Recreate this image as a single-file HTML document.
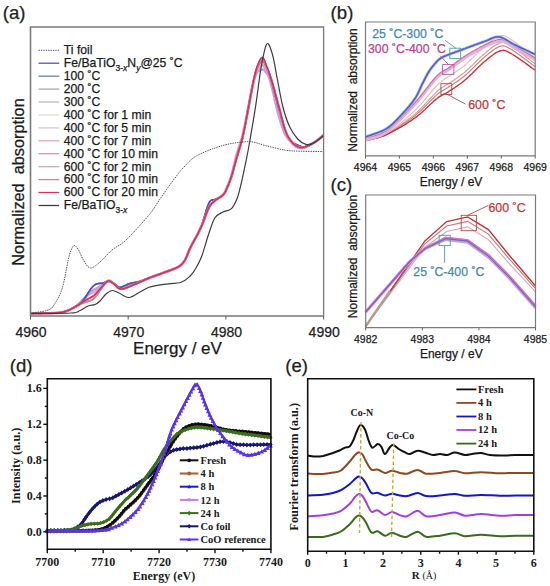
<!DOCTYPE html>
<html><head><meta charset="utf-8"><style>
html,body{margin:0;padding:0;background:#fff;width:550px;height:586px;overflow:hidden;}
svg{display:block;}
</style></head><body>
<svg width="550" height="586" viewBox="0 0 550 586">
<rect width="550" height="586" fill="#fff"/>
<text x="2.8" y="19" font-size="18.6" font-family="Liberation Sans, sans-serif" fill="#222" stroke="#222" stroke-width="0.25">(a)</text>
<path d="M30.5,313.5 L30.8,313.5 L31.0,313.5 L31.3,313.5 L31.7,313.5 L32.0,313.5 L32.4,313.5 L32.8,313.5 L33.2,313.5 L33.6,313.5 L34.1,313.4 L34.5,313.4 L35.0,313.4 L35.5,313.4 L36.0,313.4 L36.5,313.4 L37.0,313.4 L37.6,313.4 L38.1,313.4 L38.7,313.4 L39.2,313.4 L39.8,313.4 L40.4,313.4 L41.0,313.4 L41.5,313.4 L42.1,313.3 L42.7,313.3 L43.3,313.3 L43.9,313.3 L44.5,313.3 L45.1,313.3 L45.7,313.3 L46.2,313.3 L46.8,313.3 L47.4,313.3 L47.9,313.2 L48.5,313.2 L49.0,313.2 L49.6,313.2 L50.1,313.2 L50.6,313.2 L51.1,313.2 L51.6,313.1 L52.1,313.1 L52.6,313.1 L53.0,313.1 L53.5,313.1 L53.9,313.1 L54.3,313.0 L54.6,313.0 L55.0,313.0 L55.8,313.0 L56.5,312.9 L57.2,312.9 L57.8,312.8 L58.4,312.8 L58.9,312.7 L59.4,312.7 L59.9,312.6 L60.3,312.6 L60.7,312.5 L61.1,312.5 L61.5,312.4 L61.8,312.3 L62.2,312.3 L62.6,312.2 L62.9,312.1 L63.3,312.0 L63.7,311.9 L64.1,311.8 L64.5,311.6 L65.0,311.5 L65.5,311.4 L65.9,311.2 L66.4,311.0 L66.9,310.9 L67.4,310.7 L67.8,310.5 L68.3,310.3 L68.8,310.1 L69.2,309.9 L69.7,309.7 L70.2,309.5 L70.6,309.2 L71.1,309.0 L71.6,308.8 L72.1,308.5 L72.5,308.3 L73.0,308.0 L73.5,307.7 L74.0,307.4 L74.5,307.1 L75.0,306.8 L75.5,306.5 L75.9,306.2 L76.4,305.9 L76.9,305.5 L77.4,305.2 L77.9,304.8 L78.4,304.4 L78.9,303.9 L79.4,303.5 L79.9,303.0 L80.4,302.5 L80.9,302.0 L81.4,301.5 L81.9,301.0 L82.4,300.4 L82.8,299.9 L83.3,299.3 L83.8,298.8 L84.3,298.2 L84.7,297.7 L85.1,297.2 L85.6,296.6 L86.0,296.2 L86.6,295.5 L87.1,294.9 L87.6,294.4 L88.1,293.8 L88.6,293.4 L89.1,292.9 L89.6,292.5 L90.0,292.2 L90.5,291.8 L90.9,291.5 L91.4,291.2 L91.8,290.9 L92.3,290.7 L92.7,290.5 L93.1,290.2 L93.6,290.0 L94.0,289.8 L94.5,289.5 L95.0,289.3 L95.5,289.0 L96.0,288.7 L96.5,288.4 L96.9,288.2 L97.4,287.9 L97.9,287.6 L98.3,287.3 L98.8,287.0 L99.2,286.8 L99.7,286.5 L100.2,286.2 L100.7,285.9 L101.2,285.7 L101.7,285.4 L102.1,285.0 L102.6,284.6 L103.1,284.2 L103.6,283.8 L104.1,283.3 L104.6,282.9 L105.1,282.5 L105.6,282.1 L106.1,281.7 L106.6,281.4 L107.1,281.1 L107.5,280.9 L108.0,280.7 L108.5,280.6 L109.0,280.7 L109.5,280.7 L109.9,280.9 L110.4,281.1 L110.8,281.4 L111.2,281.7 L111.7,282.0 L112.1,282.4 L112.6,282.7 L113.0,283.1 L113.5,283.4 L114.0,283.7 L114.4,284.0 L114.8,284.3 L115.2,284.6 L115.6,285.0 L116.0,285.4 L116.4,285.8 L116.8,286.2 L117.2,286.5 L117.7,286.9 L118.1,287.2 L118.6,287.5 L119.2,287.7 L119.7,287.8 L120.3,287.8 L121.0,287.8 L121.4,287.7 L121.8,287.6 L122.2,287.5 L122.6,287.4 L123.0,287.2 L123.4,287.1 L123.9,286.9 L124.4,286.7 L124.8,286.5 L125.3,286.3 L125.8,286.1 L126.3,285.9 L126.8,285.7 L127.3,285.5 L127.8,285.3 L128.3,285.1 L128.8,284.9 L129.3,284.7 L129.9,284.5 L130.4,284.3 L130.9,284.1 L131.4,284.0 L131.9,283.8 L132.5,283.7 L133.0,283.6 L133.5,283.4 L134.0,283.3 L134.5,283.2 L135.0,283.1 L135.4,283.0 L135.9,282.9 L136.4,282.7 L136.9,282.6 L137.4,282.5 L137.8,282.3 L138.3,282.2 L138.8,282.0 L139.3,281.9 L139.8,281.7 L140.3,281.5 L140.8,281.4 L141.2,281.2 L141.7,281.0 L142.2,280.8 L142.7,280.6 L143.2,280.4 L143.7,280.2 L144.2,280.0 L144.7,279.8 L145.2,279.6 L145.7,279.4 L146.2,279.2 L146.7,279.0 L147.1,278.8 L147.6,278.6 L148.1,278.4 L148.6,278.2 L149.1,278.0 L149.6,277.8 L150.1,277.6 L150.6,277.4 L151.0,277.2 L151.5,277.0 L152.0,276.9 L152.5,276.7 L153.0,276.5 L153.5,276.3 L153.9,276.2 L154.4,276.0 L154.9,275.8 L155.4,275.6 L155.9,275.5 L156.3,275.3 L156.8,275.1 L157.3,275.0 L157.8,274.8 L158.3,274.6 L158.8,274.5 L159.2,274.3 L159.7,274.1 L160.2,273.9 L160.7,273.8 L161.2,273.6 L161.7,273.4 L162.1,273.2 L162.6,273.1 L163.1,272.9 L163.6,272.7 L164.1,272.5 L164.6,272.3 L165.1,272.1 L165.6,272.0 L166.1,271.8 L166.6,271.6 L167.2,271.4 L167.7,271.2 L168.2,271.0 L168.7,270.8 L169.3,270.7 L169.8,270.5 L170.3,270.3 L170.9,270.1 L171.4,269.9 L171.9,269.7 L172.4,269.5 L172.9,269.3 L173.4,269.1 L173.9,268.9 L174.4,268.7 L174.9,268.5 L175.3,268.3 L175.8,268.1 L176.2,267.9 L176.6,267.7 L177.1,267.5 L177.5,267.3 L177.8,267.1 L178.2,266.9 L178.9,266.5 L179.6,266.0 L180.2,265.6 L180.8,265.2 L181.3,264.7 L181.7,264.3 L182.2,263.8 L182.6,263.4 L183.0,262.9 L183.4,262.4 L183.8,261.8 L184.2,261.3 L184.6,260.7 L185.0,260.0 L185.5,259.1 L186.0,258.2 L186.4,257.3 L186.8,256.3 L187.2,255.3 L187.6,254.3 L188.0,253.1 L188.5,252.0 L189.0,250.7 L189.5,249.4 L190.2,248.0 L190.6,247.2 L191.0,246.4 L191.4,245.6 L191.9,244.8 L192.3,243.9 L192.8,243.0 L193.3,242.1 L193.8,241.1 L194.4,240.2 L194.9,239.2 L195.4,238.2 L196.0,237.3 L196.5,236.3 L197.0,235.3 L197.6,234.3 L198.1,233.3 L198.6,232.3 L199.1,231.3 L199.6,230.3 L200.0,229.4 L200.5,228.4 L201.0,227.2 L201.6,226.0 L202.1,224.7 L202.6,223.4 L203.1,222.1 L203.6,220.7 L204.1,219.4 L204.6,218.1 L205.1,216.8 L205.6,215.5 L206.0,214.3 L206.5,213.1 L207.0,211.9 L207.4,210.8 L207.8,209.8 L208.3,208.9 L208.7,208.0 L209.2,207.0 L209.7,206.1 L210.2,205.4 L210.7,204.7 L211.1,204.2 L211.5,203.7 L212.0,203.2 L212.4,202.8 L212.8,202.4 L213.3,202.0 L213.8,201.6 L214.3,201.2 L214.8,200.7 L215.2,200.3 L215.7,200.0 L216.2,199.6 L216.7,199.3 L217.2,198.9 L217.7,198.6 L218.2,198.3 L218.8,198.0 L219.3,197.7 L219.8,197.4 L220.3,197.0 L220.8,196.7 L221.3,196.4 L221.8,196.1 L222.2,195.7 L222.6,195.4 L223.0,195.0 L223.6,194.3 L224.2,193.6 L224.6,193.0 L225.0,192.3 L225.4,191.5 L225.8,190.8 L226.1,189.9 L226.5,189.0 L227.0,188.0 L227.4,187.0 L227.9,185.9 L228.4,184.8 L228.9,183.7 L229.3,182.4 L229.8,181.2 L230.3,179.9 L230.8,178.5 L231.2,177.2 L231.7,175.8 L232.2,174.2 L232.6,172.7 L233.1,171.1 L233.5,169.4 L233.9,167.7 L234.4,165.9 L234.9,164.1 L235.4,162.3 L235.9,160.3 L236.3,158.9 L236.7,157.4 L237.2,156.0 L237.7,154.4 L238.1,152.9 L238.6,151.3 L239.1,149.7 L239.6,148.1 L240.1,146.5 L240.6,144.8 L241.0,143.2 L241.5,141.6 L241.9,140.0 L242.5,137.7 L243.0,135.5 L243.4,133.4 L243.9,131.2 L244.3,129.0 L244.8,126.6 L245.3,124.2 L245.8,121.7 L246.3,119.0 L246.7,116.7 L247.2,114.4 L247.6,111.9 L248.1,109.3 L248.6,106.7 L249.1,104.1 L249.6,101.5 L250.1,98.9 L250.5,96.4 L251.0,94.0 L251.5,91.8 L251.9,89.8 L252.4,87.5 L252.9,85.4 L253.3,83.4 L253.8,81.4 L254.3,79.6 L254.7,78.0 L255.2,76.4 L255.6,75.0 L256.1,73.8 L256.6,72.6 L257.0,71.7 L257.5,70.9 L258.0,70.0 L258.4,69.3 L258.9,68.5 L259.4,67.8 L259.9,67.2 L260.4,66.6 L260.8,66.1 L261.3,65.7 L261.8,65.4 L262.2,65.3 L262.7,65.3 L263.2,65.6 L263.7,66.1 L264.2,66.8 L264.7,67.6 L265.1,68.4 L265.6,69.3 L266.1,70.2 L266.5,71.1 L267.0,71.8 L267.5,72.5 L267.9,73.1 L268.3,73.8 L268.7,74.5 L269.1,75.3 L269.5,76.2 L270.0,77.2 L270.4,78.4 L270.9,79.7 L271.5,81.3 L271.9,82.4 L272.3,83.7 L272.8,85.1 L273.2,86.6 L273.7,88.2 L274.2,89.9 L274.7,91.6 L275.1,93.4 L275.6,95.2 L276.2,97.1 L276.7,98.9 L277.2,100.7 L277.6,102.5 L278.1,104.3 L278.6,106.0 L279.1,107.9 L279.6,109.8 L280.1,111.7 L280.6,113.6 L281.1,115.6 L281.6,117.5 L282.1,119.4 L282.6,121.3 L283.1,123.1 L283.5,124.9 L284.0,126.6 L284.5,128.1 L285.0,129.6 L285.5,131.0 L286.0,132.3 L286.5,133.4 L286.9,134.5 L287.4,135.5 L287.9,136.4 L288.3,137.2 L288.8,138.0 L289.3,138.7 L289.8,139.4 L290.3,140.1 L290.8,140.7 L291.3,141.3 L291.8,141.9 L292.3,142.5 L292.7,143.0 L293.2,143.4 L293.7,143.9 L294.1,144.3 L294.6,144.7 L295.1,145.0 L295.6,145.4 L296.1,145.7 L296.6,146.0 L297.1,146.3 L297.6,146.5 L298.1,146.7 L298.5,146.9 L299.0,147.1 L299.5,147.3 L300.0,147.4 L300.5,147.5 L301.0,147.6 L301.5,147.6 L301.9,147.6 L302.4,147.6 L302.9,147.5 L303.4,147.4 L303.8,147.3 L304.3,147.2 L304.8,147.0 L305.3,146.9 L305.7,146.7 L306.2,146.5 L306.7,146.3 L307.2,146.1 L307.6,145.9 L308.1,145.7 L308.6,145.5 L309.1,145.3 L309.6,145.1 L310.1,144.8 L310.6,144.6 L311.0,144.3 L311.5,144.0 L312.0,143.8 L312.5,143.5 L313.0,143.2 L313.5,142.9 L314.0,142.6 L314.5,142.3 L315.0,142.0 L315.4,141.6 L315.9,141.3 L316.4,141.0 L316.8,140.7 L317.3,140.3 L317.9,139.9 L318.5,139.4 L319.0,139.0 L319.6,138.5 L320.2,138.0 L320.7,137.5 L321.2,137.1 L321.7,136.7 L322.2,136.2 L322.6,135.9 L323.0,135.5 L323.3,135.2 L323.6,135.0" fill="none" stroke="#d8d8d8" stroke-width="2.0" stroke-linejoin="round"/>
<path d="M30.5,313.5 L30.8,313.5 L31.0,313.5 L31.3,313.5 L31.7,313.5 L32.0,313.5 L32.4,313.5 L32.8,313.5 L33.2,313.5 L33.6,313.5 L34.1,313.4 L34.5,313.4 L35.0,313.4 L35.5,313.4 L36.0,313.4 L36.5,313.4 L37.0,313.4 L37.6,313.4 L38.1,313.4 L38.7,313.4 L39.2,313.4 L39.8,313.4 L40.4,313.4 L41.0,313.4 L41.5,313.4 L42.1,313.3 L42.7,313.3 L43.3,313.3 L43.9,313.3 L44.5,313.3 L45.1,313.3 L45.7,313.3 L46.2,313.3 L46.8,313.3 L47.4,313.3 L47.9,313.2 L48.5,313.2 L49.0,313.2 L49.6,313.2 L50.1,313.2 L50.6,313.2 L51.1,313.2 L51.6,313.1 L52.1,313.1 L52.6,313.1 L53.0,313.1 L53.5,313.1 L53.9,313.1 L54.3,313.0 L54.6,313.0 L55.0,313.0 L55.8,313.0 L56.5,312.9 L57.2,312.9 L57.8,312.8 L58.4,312.8 L58.9,312.7 L59.4,312.7 L59.9,312.6 L60.3,312.6 L60.7,312.5 L61.1,312.5 L61.5,312.4 L61.8,312.3 L62.2,312.3 L62.6,312.2 L62.9,312.1 L63.3,312.0 L63.7,311.9 L64.1,311.8 L64.5,311.6 L65.0,311.5 L65.5,311.4 L65.9,311.2 L66.4,311.0 L66.9,310.9 L67.4,310.7 L67.8,310.5 L68.3,310.3 L68.8,310.1 L69.2,309.9 L69.7,309.7 L70.2,309.5 L70.6,309.2 L71.1,309.0 L71.6,308.8 L72.1,308.5 L72.5,308.3 L73.0,308.0 L73.5,307.7 L74.0,307.4 L74.5,307.1 L75.0,306.8 L75.5,306.5 L75.9,306.2 L76.4,305.9 L76.9,305.5 L77.4,305.2 L77.9,304.8 L78.4,304.4 L78.9,303.9 L79.4,303.5 L79.9,303.0 L80.4,302.5 L80.9,302.0 L81.4,301.5 L81.9,301.0 L82.4,300.4 L82.8,299.9 L83.3,299.3 L83.8,298.8 L84.3,298.2 L84.7,297.7 L85.1,297.2 L85.6,296.6 L86.0,296.2 L86.6,295.5 L87.1,294.9 L87.6,294.4 L88.1,293.8 L88.6,293.4 L89.1,292.9 L89.6,292.5 L90.0,292.2 L90.5,291.8 L90.9,291.5 L91.4,291.2 L91.8,290.9 L92.3,290.7 L92.7,290.5 L93.1,290.2 L93.6,290.0 L94.0,289.8 L94.5,289.5 L95.0,289.3 L95.5,289.0 L96.0,288.7 L96.5,288.4 L96.9,288.2 L97.4,287.9 L97.9,287.6 L98.3,287.3 L98.8,287.0 L99.2,286.8 L99.7,286.5 L100.2,286.2 L100.7,285.9 L101.2,285.7 L101.7,285.4 L102.1,285.0 L102.6,284.6 L103.1,284.2 L103.6,283.8 L104.1,283.3 L104.6,282.9 L105.1,282.5 L105.6,282.1 L106.1,281.7 L106.6,281.4 L107.1,281.1 L107.5,280.9 L108.0,280.7 L108.5,280.6 L109.0,280.7 L109.5,280.7 L109.9,280.9 L110.4,281.1 L110.8,281.4 L111.2,281.7 L111.7,282.0 L112.1,282.4 L112.6,282.7 L113.0,283.1 L113.5,283.4 L114.0,283.7 L114.4,284.0 L114.8,284.3 L115.2,284.6 L115.6,285.0 L116.0,285.4 L116.4,285.8 L116.8,286.2 L117.2,286.5 L117.7,286.9 L118.1,287.2 L118.6,287.5 L119.2,287.7 L119.7,287.8 L120.3,287.8 L121.0,287.8 L121.4,287.7 L121.8,287.6 L122.2,287.5 L122.6,287.4 L123.0,287.2 L123.4,287.1 L123.9,286.9 L124.4,286.7 L124.8,286.5 L125.3,286.3 L125.8,286.1 L126.3,285.9 L126.8,285.7 L127.3,285.5 L127.8,285.3 L128.3,285.1 L128.8,284.9 L129.3,284.7 L129.9,284.5 L130.4,284.3 L130.9,284.1 L131.4,284.0 L131.9,283.8 L132.5,283.7 L133.0,283.6 L133.5,283.4 L134.0,283.3 L134.5,283.2 L135.0,283.1 L135.4,283.0 L135.9,282.9 L136.4,282.7 L136.9,282.6 L137.4,282.5 L137.8,282.3 L138.3,282.2 L138.8,282.0 L139.3,281.9 L139.8,281.7 L140.3,281.5 L140.8,281.4 L141.2,281.2 L141.7,281.0 L142.2,280.8 L142.7,280.6 L143.2,280.4 L143.7,280.2 L144.2,280.0 L144.7,279.8 L145.2,279.6 L145.7,279.4 L146.2,279.2 L146.7,279.0 L147.1,278.8 L147.6,278.6 L148.1,278.4 L148.6,278.2 L149.1,278.0 L149.6,277.8 L150.1,277.6 L150.6,277.4 L151.0,277.2 L151.5,277.0 L152.0,276.9 L152.5,276.7 L153.0,276.5 L153.5,276.3 L153.9,276.2 L154.4,276.0 L154.9,275.8 L155.4,275.6 L155.9,275.5 L156.3,275.3 L156.8,275.1 L157.3,275.0 L157.8,274.8 L158.3,274.6 L158.8,274.5 L159.2,274.3 L159.7,274.1 L160.2,273.9 L160.7,273.8 L161.2,273.6 L161.7,273.4 L162.1,273.2 L162.6,273.1 L163.1,272.9 L163.6,272.7 L164.1,272.5 L164.6,272.3 L165.1,272.1 L165.6,272.0 L166.1,271.8 L166.6,271.6 L167.2,271.4 L167.7,271.2 L168.2,271.0 L168.7,270.8 L169.3,270.7 L169.8,270.5 L170.3,270.3 L170.9,270.1 L171.4,269.9 L171.9,269.7 L172.4,269.5 L172.9,269.3 L173.4,269.1 L173.9,268.9 L174.4,268.7 L174.9,268.5 L175.3,268.3 L175.8,268.1 L176.2,267.9 L176.6,267.7 L177.1,267.5 L177.5,267.3 L177.8,267.1 L178.2,266.9 L178.9,266.5 L179.6,266.0 L180.2,265.6 L180.8,265.2 L181.3,264.7 L181.7,264.3 L182.2,263.8 L182.6,263.4 L183.0,262.9 L183.4,262.4 L183.8,261.8 L184.2,261.3 L184.6,260.7 L185.0,260.0 L185.5,259.1 L186.0,258.2 L186.4,257.3 L186.8,256.3 L187.2,255.3 L187.6,254.3 L188.0,253.1 L188.5,252.0 L189.0,250.7 L189.5,249.4 L190.2,248.0 L190.6,247.2 L191.0,246.4 L191.4,245.6 L191.9,244.8 L192.3,243.9 L192.8,243.0 L193.3,242.1 L193.8,241.1 L194.4,240.2 L194.9,239.2 L195.4,238.2 L196.0,237.3 L196.5,236.3 L197.0,235.3 L197.6,234.3 L198.1,233.3 L198.6,232.3 L199.1,231.3 L199.6,230.3 L200.0,229.4 L200.5,228.4 L201.0,227.2 L201.6,226.0 L202.1,224.7 L202.6,223.4 L203.1,222.1 L203.6,220.7 L204.1,219.4 L204.6,218.1 L205.1,216.8 L205.6,215.5 L206.0,214.3 L206.5,213.1 L207.0,211.9 L207.4,210.8 L207.8,209.8 L208.3,208.9 L208.7,208.0 L209.2,207.0 L209.7,206.1 L210.2,205.4 L210.7,204.7 L211.1,204.2 L211.5,203.7 L212.0,203.2 L212.4,202.8 L212.8,202.4 L213.3,202.0 L213.8,201.6 L214.3,201.2 L214.8,200.7 L215.2,200.3 L215.7,200.0 L216.2,199.6 L216.7,199.3 L217.2,198.9 L217.7,198.6 L218.2,198.3 L218.8,198.0 L219.3,197.7 L219.8,197.4 L220.3,197.0 L220.8,196.7 L221.3,196.4 L221.8,196.1 L222.2,195.7 L222.6,195.4 L223.0,195.0 L223.6,194.3 L224.2,193.6 L224.6,193.0 L225.0,192.3 L225.4,191.5 L225.8,190.8 L226.1,189.9 L226.5,189.0 L227.0,188.0 L227.4,187.0 L227.9,185.9 L228.4,184.8 L228.9,183.7 L229.3,182.4 L229.8,181.2 L230.3,179.9 L230.8,178.5 L231.2,177.2 L231.7,175.8 L232.2,174.2 L232.6,172.7 L233.1,171.1 L233.5,169.4 L233.9,167.7 L234.4,165.9 L234.9,164.1 L235.4,162.3 L235.9,160.3 L236.3,158.9 L236.7,157.4 L237.2,156.0 L237.7,154.4 L238.1,152.9 L238.6,151.3 L239.1,149.7 L239.6,148.1 L240.1,146.5 L240.6,144.8 L241.0,143.2 L241.5,141.6 L241.9,140.0 L242.5,137.7 L243.0,135.5 L243.4,133.4 L243.9,131.2 L244.3,129.0 L244.8,126.6 L245.3,124.2 L245.8,121.7 L246.3,119.0 L246.7,116.7 L247.2,114.4 L247.6,111.9 L248.1,109.3 L248.6,106.7 L249.1,104.1 L249.6,101.5 L250.1,98.9 L250.5,96.4 L251.0,94.0 L251.5,91.8 L251.9,89.8 L252.4,87.5 L252.9,85.4 L253.3,83.4 L253.8,81.4 L254.3,79.6 L254.7,78.0 L255.2,76.4 L255.6,75.0 L256.1,73.8 L256.6,72.6 L257.0,71.7 L257.5,70.9 L258.0,70.0 L258.4,69.3 L258.9,68.5 L259.4,67.8 L259.9,67.2 L260.4,66.6 L260.8,66.1 L261.3,65.7 L261.8,65.4 L262.2,65.3 L262.7,65.3 L263.2,65.6 L263.7,66.1 L264.2,66.8 L264.7,67.6 L265.1,68.4 L265.6,69.3 L266.1,70.2 L266.5,71.1 L267.0,71.8 L267.5,72.5 L267.9,73.1 L268.3,73.8 L268.7,74.5 L269.1,75.3 L269.5,76.2 L270.0,77.2 L270.4,78.4 L270.9,79.7 L271.5,81.3 L271.9,82.4 L272.3,83.7 L272.8,85.1 L273.2,86.6 L273.7,88.2 L274.2,89.9 L274.7,91.6 L275.1,93.4 L275.6,95.2 L276.2,97.1 L276.7,98.9 L277.2,100.7 L277.6,102.5 L278.1,104.3 L278.6,106.0 L279.1,107.9 L279.6,109.8 L280.1,111.7 L280.6,113.6 L281.1,115.6 L281.6,117.5 L282.1,119.4 L282.6,121.3 L283.1,123.1 L283.5,124.9 L284.0,126.6 L284.5,128.1 L285.0,129.6 L285.5,131.0 L286.0,132.3 L286.5,133.4 L286.9,134.5 L287.4,135.5 L287.9,136.4 L288.3,137.2 L288.8,138.0 L289.3,138.7 L289.8,139.4 L290.3,140.1 L290.8,140.7 L291.3,141.3 L291.8,141.9 L292.3,142.5 L292.7,143.0 L293.2,143.4 L293.7,143.9 L294.1,144.3 L294.6,144.7 L295.1,145.0 L295.6,145.4 L296.1,145.7 L296.6,146.0 L297.1,146.3 L297.6,146.5 L298.1,146.7 L298.5,146.9 L299.0,147.1 L299.5,147.3 L300.0,147.4 L300.5,147.5 L301.0,147.6 L301.5,147.6 L301.9,147.6 L302.4,147.6 L302.9,147.5 L303.4,147.4 L303.8,147.3 L304.3,147.2 L304.8,147.0 L305.3,146.9 L305.7,146.7 L306.2,146.5 L306.7,146.3 L307.2,146.1 L307.6,145.9 L308.1,145.7 L308.6,145.5 L309.1,145.3 L309.6,145.1 L310.1,144.8 L310.6,144.6 L311.0,144.3 L311.5,144.0 L312.0,143.8 L312.5,143.5 L313.0,143.2 L313.5,142.9 L314.0,142.6 L314.5,142.3 L315.0,142.0 L315.4,141.6 L315.9,141.3 L316.4,141.0 L316.8,140.7 L317.3,140.3 L317.9,139.9 L318.5,139.4 L319.0,139.0 L319.6,138.5 L320.2,138.0 L320.7,137.5 L321.2,137.1 L321.7,136.7 L322.2,136.2 L322.6,135.9 L323.0,135.5 L323.3,135.2 L323.6,135.0" fill="none" stroke="#c4c4c4" stroke-width="2.0" stroke-linejoin="round"/>
<path d="M30.5,313.5 L30.8,313.5 L31.0,313.5 L31.3,313.5 L31.7,313.5 L32.0,313.5 L32.4,313.5 L32.8,313.5 L33.2,313.5 L33.6,313.5 L34.1,313.4 L34.5,313.4 L35.0,313.4 L35.5,313.4 L36.0,313.4 L36.5,313.4 L37.0,313.4 L37.6,313.4 L38.1,313.4 L38.7,313.4 L39.2,313.4 L39.8,313.4 L40.4,313.4 L41.0,313.4 L41.5,313.4 L42.1,313.3 L42.7,313.3 L43.3,313.3 L43.9,313.3 L44.5,313.3 L45.1,313.3 L45.7,313.3 L46.2,313.3 L46.8,313.3 L47.4,313.3 L47.9,313.2 L48.5,313.2 L49.0,313.2 L49.6,313.2 L50.1,313.2 L50.6,313.2 L51.1,313.2 L51.6,313.1 L52.1,313.1 L52.6,313.1 L53.0,313.1 L53.5,313.1 L53.9,313.1 L54.3,313.0 L54.6,313.0 L55.0,313.0 L55.8,313.0 L56.5,312.9 L57.2,312.9 L57.8,312.8 L58.4,312.8 L58.9,312.7 L59.4,312.7 L59.9,312.6 L60.3,312.6 L60.7,312.5 L61.1,312.5 L61.5,312.4 L61.8,312.3 L62.2,312.3 L62.6,312.2 L62.9,312.1 L63.3,312.0 L63.7,311.9 L64.1,311.8 L64.5,311.6 L65.0,311.5 L65.5,311.4 L65.9,311.2 L66.4,311.0 L66.9,310.9 L67.4,310.7 L67.8,310.5 L68.3,310.3 L68.8,310.1 L69.2,309.9 L69.7,309.7 L70.2,309.5 L70.6,309.2 L71.1,309.0 L71.6,308.8 L72.1,308.5 L72.5,308.3 L73.0,308.0 L73.5,307.7 L74.0,307.4 L74.5,307.1 L75.0,306.8 L75.5,306.5 L75.9,306.2 L76.4,305.9 L76.9,305.5 L77.4,305.2 L77.9,304.8 L78.4,304.4 L78.9,303.9 L79.4,303.5 L79.9,303.0 L80.4,302.5 L80.9,302.0 L81.4,301.5 L81.9,301.0 L82.4,300.4 L82.8,299.9 L83.3,299.3 L83.8,298.8 L84.3,298.2 L84.7,297.7 L85.1,297.2 L85.6,296.6 L86.0,296.2 L86.6,295.5 L87.1,294.9 L87.6,294.4 L88.1,293.8 L88.6,293.4 L89.1,292.9 L89.6,292.5 L90.0,292.2 L90.5,291.8 L90.9,291.5 L91.4,291.2 L91.8,290.9 L92.3,290.7 L92.7,290.5 L93.1,290.2 L93.6,290.0 L94.0,289.8 L94.5,289.5 L95.0,289.3 L95.5,289.0 L96.0,288.7 L96.5,288.4 L96.9,288.2 L97.4,287.9 L97.9,287.6 L98.3,287.3 L98.8,287.0 L99.2,286.8 L99.7,286.5 L100.2,286.2 L100.7,285.9 L101.2,285.7 L101.7,285.4 L102.1,285.0 L102.6,284.6 L103.1,284.2 L103.6,283.8 L104.1,283.3 L104.6,282.9 L105.1,282.5 L105.6,282.1 L106.1,281.7 L106.6,281.4 L107.1,281.1 L107.5,280.9 L108.0,280.7 L108.5,280.6 L109.0,280.7 L109.5,280.7 L109.9,280.9 L110.4,281.1 L110.8,281.4 L111.2,281.7 L111.7,282.0 L112.1,282.4 L112.6,282.7 L113.0,283.1 L113.5,283.4 L114.0,283.7 L114.4,284.0 L114.8,284.3 L115.2,284.6 L115.6,285.0 L116.0,285.4 L116.4,285.8 L116.8,286.2 L117.2,286.5 L117.7,286.9 L118.1,287.2 L118.6,287.5 L119.2,287.7 L119.7,287.8 L120.3,287.8 L121.0,287.8 L121.4,287.7 L121.8,287.6 L122.2,287.5 L122.6,287.4 L123.0,287.2 L123.4,287.1 L123.9,286.9 L124.4,286.7 L124.8,286.5 L125.3,286.3 L125.8,286.1 L126.3,285.9 L126.8,285.7 L127.3,285.5 L127.8,285.3 L128.3,285.1 L128.8,284.9 L129.3,284.7 L129.9,284.5 L130.4,284.3 L130.9,284.1 L131.4,284.0 L131.9,283.8 L132.5,283.7 L133.0,283.6 L133.5,283.4 L134.0,283.3 L134.5,283.2 L135.0,283.1 L135.4,283.0 L135.9,282.9 L136.4,282.7 L136.9,282.6 L137.4,282.5 L137.8,282.3 L138.3,282.2 L138.8,282.0 L139.3,281.9 L139.8,281.7 L140.3,281.5 L140.8,281.4 L141.2,281.2 L141.7,281.0 L142.2,280.8 L142.7,280.6 L143.2,280.4 L143.7,280.2 L144.2,280.0 L144.7,279.8 L145.2,279.6 L145.7,279.4 L146.2,279.2 L146.7,279.0 L147.1,278.8 L147.6,278.6 L148.1,278.4 L148.6,278.2 L149.1,278.0 L149.6,277.8 L150.1,277.6 L150.6,277.4 L151.0,277.2 L151.5,277.0 L152.0,276.9 L152.5,276.7 L153.0,276.5 L153.5,276.3 L153.9,276.2 L154.4,276.0 L154.9,275.8 L155.4,275.6 L155.9,275.5 L156.3,275.3 L156.8,275.1 L157.3,275.0 L157.8,274.8 L158.3,274.6 L158.8,274.5 L159.2,274.3 L159.7,274.1 L160.2,273.9 L160.7,273.8 L161.2,273.6 L161.7,273.4 L162.1,273.2 L162.6,273.1 L163.1,272.9 L163.6,272.7 L164.1,272.5 L164.6,272.3 L165.1,272.1 L165.6,272.0 L166.1,271.8 L166.6,271.6 L167.2,271.4 L167.7,271.2 L168.2,271.0 L168.7,270.8 L169.3,270.7 L169.8,270.5 L170.3,270.3 L170.9,270.1 L171.4,269.9 L171.9,269.7 L172.4,269.5 L172.9,269.3 L173.4,269.1 L173.9,268.9 L174.4,268.7 L174.9,268.5 L175.3,268.3 L175.8,268.1 L176.2,267.9 L176.6,267.7 L177.1,267.5 L177.5,267.3 L177.8,267.1 L178.2,266.9 L178.9,266.5 L179.6,266.0 L180.2,265.6 L180.8,265.2 L181.3,264.7 L181.7,264.3 L182.2,263.8 L182.6,263.4 L183.0,262.9 L183.4,262.4 L183.8,261.8 L184.2,261.3 L184.6,260.7 L185.0,260.0 L185.5,259.1 L186.0,258.2 L186.4,257.3 L186.8,256.3 L187.2,255.3 L187.6,254.3 L188.0,253.1 L188.5,252.0 L189.0,250.7 L189.5,249.4 L190.2,248.0 L190.6,247.2 L191.0,246.4 L191.4,245.6 L191.9,244.8 L192.3,243.9 L192.8,243.0 L193.3,242.1 L193.8,241.1 L194.4,240.2 L194.9,239.2 L195.4,238.2 L196.0,237.3 L196.5,236.3 L197.0,235.3 L197.6,234.3 L198.1,233.3 L198.6,232.3 L199.1,231.3 L199.6,230.3 L200.0,229.4 L200.5,228.4 L201.0,227.2 L201.6,226.0 L202.1,224.7 L202.6,223.4 L203.1,222.1 L203.6,220.7 L204.1,219.4 L204.6,218.1 L205.1,216.8 L205.6,215.5 L206.0,214.3 L206.5,213.1 L207.0,211.9 L207.4,210.8 L207.8,209.8 L208.3,208.9 L208.7,208.0 L209.2,207.0 L209.7,206.1 L210.2,205.4 L210.7,204.7 L211.1,204.2 L211.5,203.7 L212.0,203.2 L212.4,202.8 L212.8,202.4 L213.3,202.0 L213.8,201.6 L214.3,201.2 L214.8,200.7 L215.2,200.3 L215.7,200.0 L216.2,199.6 L216.7,199.3 L217.2,198.9 L217.7,198.6 L218.2,198.3 L218.8,198.0 L219.3,197.7 L219.8,197.4 L220.3,197.0 L220.8,196.7 L221.3,196.4 L221.8,196.1 L222.2,195.7 L222.6,195.4 L223.0,195.0 L223.6,194.3 L224.2,193.6 L224.6,193.0 L225.0,192.3 L225.4,191.5 L225.8,190.8 L226.1,189.9 L226.5,189.0 L227.0,188.0 L227.4,187.0 L227.9,185.9 L228.4,184.8 L228.9,183.7 L229.3,182.4 L229.8,181.2 L230.3,179.9 L230.8,178.5 L231.2,177.2 L231.7,175.8 L232.2,174.2 L232.6,172.7 L233.1,171.1 L233.5,169.4 L233.9,167.7 L234.4,165.9 L234.9,164.1 L235.4,162.3 L235.9,160.3 L236.3,158.9 L236.7,157.4 L237.2,156.0 L237.7,154.4 L238.1,152.9 L238.6,151.3 L239.1,149.7 L239.6,148.1 L240.1,146.5 L240.6,144.8 L241.0,143.2 L241.5,141.6 L241.9,140.0 L242.5,137.7 L243.0,135.5 L243.4,133.4 L243.9,131.2 L244.3,129.0 L244.8,126.6 L245.3,124.2 L245.8,121.7 L246.3,119.0 L246.7,116.7 L247.2,114.4 L247.6,111.9 L248.1,109.3 L248.6,106.7 L249.1,104.1 L249.6,101.5 L250.1,98.9 L250.5,96.4 L251.0,94.0 L251.5,91.8 L251.9,89.8 L252.4,87.5 L252.9,85.4 L253.3,83.4 L253.8,81.4 L254.3,79.6 L254.7,78.0 L255.2,76.4 L255.6,75.0 L256.1,73.8 L256.6,72.6 L257.0,71.7 L257.5,70.9 L258.0,70.0 L258.4,69.3 L258.9,68.5 L259.4,67.8 L259.9,67.2 L260.4,66.6 L260.8,66.1 L261.3,65.7 L261.8,65.4 L262.2,65.3 L262.7,65.3 L263.2,65.6 L263.7,66.1 L264.2,66.8 L264.7,67.6 L265.1,68.4 L265.6,69.3 L266.1,70.2 L266.5,71.1 L267.0,71.8 L267.5,72.5 L267.9,73.1 L268.3,73.8 L268.7,74.5 L269.1,75.3 L269.5,76.2 L270.0,77.2 L270.4,78.4 L270.9,79.7 L271.5,81.3 L271.9,82.4 L272.3,83.7 L272.8,85.1 L273.2,86.6 L273.7,88.2 L274.2,89.9 L274.7,91.6 L275.1,93.4 L275.6,95.2 L276.2,97.1 L276.7,98.9 L277.2,100.7 L277.6,102.5 L278.1,104.3 L278.6,106.0 L279.1,107.9 L279.6,109.8 L280.1,111.7 L280.6,113.6 L281.1,115.6 L281.6,117.5 L282.1,119.4 L282.6,121.3 L283.1,123.1 L283.5,124.9 L284.0,126.6 L284.5,128.1 L285.0,129.6 L285.5,131.0 L286.0,132.3 L286.5,133.4 L286.9,134.5 L287.4,135.5 L287.9,136.4 L288.3,137.2 L288.8,138.0 L289.3,138.7 L289.8,139.4 L290.3,140.1 L290.8,140.7 L291.3,141.3 L291.8,141.9 L292.3,142.5 L292.7,143.0 L293.2,143.4 L293.7,143.9 L294.1,144.3 L294.6,144.7 L295.1,145.0 L295.6,145.4 L296.1,145.7 L296.6,146.0 L297.1,146.3 L297.6,146.5 L298.1,146.7 L298.5,146.9 L299.0,147.1 L299.5,147.3 L300.0,147.4 L300.5,147.5 L301.0,147.6 L301.5,147.6 L301.9,147.6 L302.4,147.6 L302.9,147.5 L303.4,147.4 L303.8,147.3 L304.3,147.2 L304.8,147.0 L305.3,146.9 L305.7,146.7 L306.2,146.5 L306.7,146.3 L307.2,146.1 L307.6,145.9 L308.1,145.7 L308.6,145.5 L309.1,145.3 L309.6,145.1 L310.1,144.8 L310.6,144.6 L311.0,144.3 L311.5,144.0 L312.0,143.8 L312.5,143.5 L313.0,143.2 L313.5,142.9 L314.0,142.6 L314.5,142.3 L315.0,142.0 L315.4,141.6 L315.9,141.3 L316.4,141.0 L316.8,140.7 L317.3,140.3 L317.9,139.9 L318.5,139.4 L319.0,139.0 L319.6,138.5 L320.2,138.0 L320.7,137.5 L321.2,137.1 L321.7,136.7 L322.2,136.2 L322.6,135.9 L323.0,135.5 L323.3,135.2 L323.6,135.0" fill="none" stroke="#b0b2b0" stroke-width="1.6" stroke-linejoin="round"/>
<path d="M30.5,313.5 L30.8,313.5 L31.0,313.5 L31.3,313.5 L31.7,313.5 L32.0,313.5 L32.4,313.5 L32.8,313.5 L33.2,313.5 L33.6,313.5 L34.1,313.4 L34.5,313.4 L35.0,313.4 L35.5,313.4 L36.0,313.4 L36.5,313.4 L37.0,313.4 L37.6,313.4 L38.1,313.4 L38.7,313.4 L39.2,313.4 L39.8,313.4 L40.4,313.4 L41.0,313.4 L41.5,313.4 L42.1,313.3 L42.7,313.3 L43.3,313.3 L43.9,313.3 L44.5,313.3 L45.1,313.3 L45.7,313.3 L46.2,313.3 L46.8,313.3 L47.4,313.3 L47.9,313.2 L48.5,313.2 L49.0,313.2 L49.6,313.2 L50.1,313.2 L50.6,313.2 L51.1,313.2 L51.6,313.1 L52.1,313.1 L52.6,313.1 L53.0,313.1 L53.5,313.1 L53.9,313.1 L54.3,313.0 L54.6,313.0 L55.0,313.0 L55.8,313.0 L56.5,312.9 L57.2,312.9 L57.8,312.8 L58.4,312.8 L58.9,312.7 L59.4,312.7 L59.9,312.6 L60.3,312.6 L60.7,312.5 L61.1,312.5 L61.5,312.4 L61.8,312.3 L62.2,312.3 L62.6,312.2 L62.9,312.1 L63.3,312.0 L63.7,311.9 L64.1,311.8 L64.5,311.6 L65.0,311.5 L65.5,311.4 L65.9,311.2 L66.4,311.0 L66.9,310.9 L67.4,310.7 L67.8,310.5 L68.3,310.3 L68.8,310.1 L69.2,309.9 L69.7,309.7 L70.2,309.5 L70.6,309.2 L71.1,309.0 L71.6,308.7 L72.1,308.5 L72.5,308.2 L73.0,307.9 L73.5,307.7 L74.0,307.4 L74.5,307.1 L75.0,306.8 L75.5,306.4 L75.9,306.1 L76.4,305.8 L76.9,305.4 L77.4,305.0 L77.9,304.6 L78.4,304.2 L78.9,303.8 L79.4,303.3 L79.9,302.9 L80.4,302.4 L80.9,301.9 L81.4,301.4 L81.9,300.9 L82.4,300.4 L82.8,299.9 L83.3,299.4 L83.8,298.9 L84.3,298.4 L84.7,298.0 L85.1,297.5 L85.6,297.1 L86.0,296.7 L86.6,296.2 L87.1,295.8 L87.6,295.4 L88.1,295.0 L88.6,294.7 L89.1,294.4 L89.6,294.1 L90.0,293.9 L90.5,293.7 L90.9,293.5 L91.4,293.3 L91.8,293.1 L92.3,292.9 L92.7,292.8 L93.1,292.6 L93.6,292.4 L94.0,292.2 L94.5,292.0 L95.0,291.7 L95.5,291.4 L96.0,291.1 L96.5,290.7 L96.9,290.4 L97.4,290.0 L97.9,289.7 L98.3,289.3 L98.8,288.9 L99.2,288.5 L99.7,288.1 L100.2,287.7 L100.7,287.3 L101.2,286.9 L101.7,286.5 L102.1,286.0 L102.6,285.5 L103.1,285.0 L103.6,284.5 L104.1,284.0 L104.6,283.4 L105.1,282.9 L105.6,282.5 L106.1,282.0 L106.6,281.6 L107.1,281.3 L107.5,281.1 L108.0,280.9 L108.5,280.8 L109.0,280.8 L109.5,280.8 L109.9,281.0 L110.4,281.2 L110.8,281.5 L111.2,281.8 L111.7,282.1 L112.1,282.4 L112.6,282.8 L113.0,283.1 L113.5,283.4 L114.0,283.7 L114.4,284.0 L114.8,284.3 L115.2,284.6 L115.6,285.0 L116.0,285.4 L116.4,285.8 L116.8,286.2 L117.2,286.6 L117.7,286.9 L118.1,287.2 L118.6,287.5 L119.2,287.7 L119.7,287.8 L120.3,287.8 L121.0,287.8 L121.4,287.7 L121.8,287.6 L122.2,287.5 L122.6,287.4 L123.0,287.2 L123.4,287.1 L123.9,286.9 L124.4,286.7 L124.8,286.5 L125.3,286.3 L125.8,286.1 L126.3,285.9 L126.8,285.7 L127.3,285.5 L127.8,285.3 L128.3,285.1 L128.8,284.9 L129.3,284.7 L129.9,284.5 L130.4,284.3 L130.9,284.1 L131.4,284.0 L131.9,283.8 L132.5,283.7 L133.0,283.6 L133.5,283.4 L134.0,283.3 L134.5,283.2 L135.0,283.1 L135.4,283.0 L135.9,282.9 L136.4,282.7 L136.9,282.6 L137.4,282.5 L137.8,282.3 L138.3,282.2 L138.8,282.0 L139.3,281.9 L139.8,281.7 L140.3,281.5 L140.8,281.4 L141.2,281.2 L141.7,281.0 L142.2,280.8 L142.7,280.6 L143.2,280.4 L143.7,280.2 L144.2,280.0 L144.7,279.8 L145.2,279.6 L145.7,279.4 L146.2,279.2 L146.7,279.0 L147.1,278.8 L147.6,278.6 L148.1,278.4 L148.6,278.2 L149.1,278.0 L149.6,277.8 L150.1,277.6 L150.6,277.4 L151.0,277.2 L151.5,277.0 L152.0,276.9 L152.5,276.7 L153.0,276.5 L153.5,276.3 L153.9,276.2 L154.4,276.0 L154.9,275.8 L155.4,275.6 L155.9,275.5 L156.3,275.3 L156.8,275.1 L157.3,275.0 L157.8,274.8 L158.3,274.6 L158.8,274.5 L159.2,274.3 L159.7,274.1 L160.2,273.9 L160.7,273.8 L161.2,273.6 L161.7,273.4 L162.1,273.2 L162.6,273.1 L163.1,272.9 L163.6,272.7 L164.1,272.5 L164.6,272.3 L165.1,272.1 L165.6,272.0 L166.1,271.8 L166.6,271.6 L167.2,271.4 L167.7,271.2 L168.2,271.0 L168.7,270.8 L169.3,270.7 L169.8,270.5 L170.3,270.3 L170.9,270.1 L171.4,269.9 L171.9,269.7 L172.4,269.5 L172.9,269.3 L173.4,269.1 L173.9,268.9 L174.4,268.7 L174.9,268.5 L175.3,268.3 L175.8,268.1 L176.2,267.9 L176.6,267.7 L177.1,267.5 L177.5,267.3 L177.8,267.1 L178.2,266.9 L178.9,266.5 L179.6,266.0 L180.2,265.6 L180.8,265.2 L181.3,264.7 L181.7,264.3 L182.2,263.8 L182.6,263.4 L183.0,262.9 L183.4,262.4 L183.8,261.8 L184.2,261.3 L184.6,260.7 L185.0,260.0 L185.5,259.1 L186.0,258.2 L186.4,257.3 L186.8,256.3 L187.2,255.3 L187.6,254.3 L188.0,253.1 L188.5,252.0 L189.0,250.7 L189.5,249.4 L190.2,248.0 L190.6,247.2 L191.0,246.4 L191.4,245.6 L191.9,244.8 L192.3,243.9 L192.8,243.0 L193.3,242.1 L193.8,241.1 L194.4,240.2 L194.9,239.2 L195.4,238.2 L196.0,237.3 L196.5,236.3 L197.0,235.3 L197.6,234.3 L198.1,233.3 L198.6,232.3 L199.1,231.3 L199.6,230.3 L200.0,229.4 L200.5,228.4 L201.0,227.2 L201.6,226.0 L202.1,224.7 L202.6,223.4 L203.1,222.1 L203.6,220.7 L204.1,219.4 L204.6,218.1 L205.1,216.8 L205.6,215.5 L206.0,214.3 L206.5,213.1 L207.0,211.9 L207.4,210.8 L207.8,209.8 L208.3,208.9 L208.7,208.0 L209.2,207.0 L209.7,206.1 L210.2,205.4 L210.7,204.7 L211.1,204.2 L211.5,203.7 L212.0,203.2 L212.4,202.8 L212.8,202.4 L213.3,202.0 L213.8,201.6 L214.3,201.2 L214.8,200.7 L215.2,200.3 L215.7,200.0 L216.2,199.6 L216.7,199.3 L217.2,198.9 L217.7,198.6 L218.2,198.3 L218.8,198.0 L219.3,197.7 L219.8,197.4 L220.3,197.0 L220.8,196.7 L221.3,196.4 L221.8,196.1 L222.2,195.7 L222.6,195.4 L223.0,195.0 L223.6,194.3 L224.2,193.6 L224.6,193.0 L225.0,192.3 L225.4,191.5 L225.8,190.8 L226.1,189.9 L226.5,189.0 L227.0,188.0 L227.4,187.0 L227.9,185.9 L228.4,184.8 L228.9,183.7 L229.3,182.4 L229.8,181.2 L230.3,179.9 L230.8,178.5 L231.2,177.2 L231.7,175.8 L232.2,174.2 L232.6,172.7 L233.1,171.1 L233.5,169.4 L233.9,167.7 L234.4,165.9 L234.9,164.1 L235.4,162.3 L235.9,160.3 L236.3,158.9 L236.7,157.4 L237.2,156.0 L237.7,154.4 L238.1,152.9 L238.6,151.3 L239.1,149.7 L239.6,148.1 L240.1,146.5 L240.6,144.8 L241.0,143.2 L241.5,141.6 L241.9,140.0 L242.5,137.7 L243.0,135.5 L243.4,133.4 L243.9,131.2 L244.3,128.9 L244.8,126.6 L245.3,124.2 L245.8,121.6 L246.3,118.9 L246.7,116.7 L247.2,114.3 L247.6,111.8 L248.1,109.2 L248.6,106.5 L249.1,103.9 L249.6,101.2 L250.1,98.6 L250.5,96.0 L251.0,93.5 L251.5,91.2 L251.9,89.1 L252.4,86.7 L252.9,84.4 L253.3,82.2 L253.8,80.2 L254.3,78.2 L254.7,76.4 L255.2,74.7 L255.6,73.2 L256.1,71.7 L256.6,70.4 L257.0,69.4 L257.5,68.4 L258.0,67.5 L258.4,66.6 L258.9,65.8 L259.4,65.0 L259.9,64.3 L260.4,63.7 L260.8,63.2 L261.3,62.7 L261.8,62.4 L262.2,62.3 L262.7,62.4 L263.2,62.7 L263.7,63.2 L264.2,63.9 L264.7,64.8 L265.1,65.7 L265.6,66.7 L266.1,67.7 L266.5,68.6 L267.0,69.5 L267.5,70.3 L267.9,71.1 L268.3,71.9 L268.7,72.8 L269.1,73.7 L269.5,74.7 L270.0,75.9 L270.4,77.2 L270.9,78.7 L271.5,80.4 L271.9,81.7 L272.3,83.1 L272.8,84.6 L273.2,86.2 L273.7,87.9 L274.2,89.6 L274.7,91.4 L275.1,93.2 L275.6,95.1 L276.2,96.9 L276.7,98.8 L277.2,100.7 L277.6,102.5 L278.1,104.3 L278.6,106.0 L279.1,107.8 L279.6,109.7 L280.1,111.7 L280.6,113.6 L281.1,115.6 L281.6,117.5 L282.1,119.4 L282.6,121.3 L283.1,123.1 L283.5,124.9 L284.0,126.6 L284.5,128.1 L285.0,129.6 L285.5,131.0 L286.0,132.3 L286.5,133.4 L286.9,134.5 L287.4,135.5 L287.9,136.4 L288.3,137.2 L288.8,138.0 L289.3,138.7 L289.8,139.4 L290.3,140.1 L290.8,140.7 L291.3,141.3 L291.8,141.9 L292.3,142.5 L292.7,143.0 L293.2,143.4 L293.7,143.9 L294.1,144.3 L294.6,144.7 L295.1,145.0 L295.6,145.4 L296.1,145.7 L296.6,146.0 L297.1,146.3 L297.6,146.5 L298.1,146.7 L298.5,146.9 L299.0,147.1 L299.5,147.3 L300.0,147.4 L300.5,147.5 L301.0,147.6 L301.5,147.6 L301.9,147.6 L302.4,147.6 L302.9,147.5 L303.4,147.4 L303.8,147.3 L304.3,147.2 L304.8,147.0 L305.3,146.9 L305.7,146.7 L306.2,146.5 L306.7,146.3 L307.2,146.1 L307.6,145.9 L308.1,145.7 L308.6,145.5 L309.1,145.3 L309.6,145.1 L310.1,144.8 L310.6,144.6 L311.0,144.3 L311.5,144.0 L312.0,143.8 L312.5,143.5 L313.0,143.2 L313.5,142.9 L314.0,142.6 L314.5,142.3 L315.0,142.0 L315.4,141.6 L315.9,141.3 L316.4,141.0 L316.8,140.7 L317.3,140.3 L317.9,139.9 L318.5,139.4 L319.0,139.0 L319.6,138.5 L320.2,138.0 L320.7,137.5 L321.2,137.1 L321.7,136.7 L322.2,136.2 L322.6,135.9 L323.0,135.5 L323.3,135.2 L323.6,135.0" fill="none" stroke="#e6c8d6" stroke-width="2.6" stroke-linejoin="round"/>
<path d="M30.5,313.5 L30.8,313.5 L31.0,313.5 L31.3,313.5 L31.7,313.5 L32.0,313.5 L32.4,313.5 L32.8,313.5 L33.2,313.5 L33.6,313.5 L34.1,313.4 L34.5,313.4 L35.0,313.4 L35.5,313.4 L36.0,313.4 L36.5,313.4 L37.0,313.4 L37.6,313.4 L38.1,313.4 L38.7,313.4 L39.2,313.4 L39.8,313.4 L40.4,313.4 L41.0,313.4 L41.5,313.4 L42.1,313.3 L42.7,313.3 L43.3,313.3 L43.9,313.3 L44.5,313.3 L45.1,313.3 L45.7,313.3 L46.2,313.3 L46.8,313.3 L47.4,313.3 L47.9,313.2 L48.5,313.2 L49.0,313.2 L49.6,313.2 L50.1,313.2 L50.6,313.2 L51.1,313.2 L51.6,313.1 L52.1,313.1 L52.6,313.1 L53.0,313.1 L53.5,313.1 L53.9,313.1 L54.3,313.0 L54.6,313.0 L55.0,313.0 L55.8,313.0 L56.5,312.9 L57.2,312.9 L57.8,312.8 L58.4,312.8 L58.9,312.7 L59.4,312.7 L59.9,312.6 L60.3,312.6 L60.7,312.5 L61.1,312.5 L61.5,312.4 L61.8,312.3 L62.2,312.3 L62.6,312.2 L62.9,312.1 L63.3,312.0 L63.7,311.9 L64.1,311.8 L64.5,311.6 L65.0,311.5 L65.5,311.4 L65.9,311.2 L66.4,311.0 L66.9,310.9 L67.4,310.7 L67.8,310.5 L68.3,310.3 L68.8,310.1 L69.2,309.9 L69.7,309.7 L70.2,309.5 L70.6,309.2 L71.1,309.0 L71.6,308.7 L72.1,308.5 L72.5,308.2 L73.0,307.9 L73.5,307.7 L74.0,307.4 L74.5,307.1 L75.0,306.8 L75.5,306.4 L75.9,306.1 L76.4,305.8 L76.9,305.4 L77.4,305.0 L77.9,304.6 L78.4,304.2 L78.9,303.8 L79.4,303.3 L79.9,302.9 L80.4,302.4 L80.9,301.9 L81.4,301.4 L81.9,300.9 L82.4,300.4 L82.8,299.9 L83.3,299.4 L83.8,298.9 L84.3,298.4 L84.7,298.0 L85.1,297.5 L85.6,297.1 L86.0,296.7 L86.6,296.2 L87.1,295.8 L87.6,295.4 L88.1,295.0 L88.6,294.7 L89.1,294.4 L89.6,294.1 L90.0,293.9 L90.5,293.7 L90.9,293.5 L91.4,293.3 L91.8,293.1 L92.3,292.9 L92.7,292.8 L93.1,292.6 L93.6,292.4 L94.0,292.2 L94.5,292.0 L95.0,291.7 L95.5,291.4 L96.0,291.1 L96.5,290.7 L96.9,290.4 L97.4,290.0 L97.9,289.7 L98.3,289.3 L98.8,288.9 L99.2,288.5 L99.7,288.1 L100.2,287.7 L100.7,287.3 L101.2,286.9 L101.7,286.5 L102.1,286.0 L102.6,285.5 L103.1,285.0 L103.6,284.5 L104.1,284.0 L104.6,283.4 L105.1,282.9 L105.6,282.5 L106.1,282.0 L106.6,281.6 L107.1,281.3 L107.5,281.1 L108.0,280.9 L108.5,280.8 L109.0,280.8 L109.5,280.8 L109.9,281.0 L110.4,281.2 L110.8,281.5 L111.2,281.8 L111.7,282.1 L112.1,282.4 L112.6,282.8 L113.0,283.1 L113.5,283.4 L114.0,283.7 L114.4,284.0 L114.8,284.3 L115.2,284.6 L115.6,285.0 L116.0,285.4 L116.4,285.8 L116.8,286.2 L117.2,286.6 L117.7,286.9 L118.1,287.2 L118.6,287.5 L119.2,287.7 L119.7,287.8 L120.3,287.8 L121.0,287.8 L121.4,287.7 L121.8,287.6 L122.2,287.5 L122.6,287.4 L123.0,287.2 L123.4,287.1 L123.9,286.9 L124.4,286.7 L124.8,286.5 L125.3,286.3 L125.8,286.1 L126.3,285.9 L126.8,285.7 L127.3,285.5 L127.8,285.3 L128.3,285.1 L128.8,284.9 L129.3,284.7 L129.9,284.5 L130.4,284.3 L130.9,284.1 L131.4,284.0 L131.9,283.8 L132.5,283.7 L133.0,283.6 L133.5,283.4 L134.0,283.3 L134.5,283.2 L135.0,283.1 L135.4,283.0 L135.9,282.9 L136.4,282.7 L136.9,282.6 L137.4,282.5 L137.8,282.3 L138.3,282.2 L138.8,282.0 L139.3,281.9 L139.8,281.7 L140.3,281.5 L140.8,281.4 L141.2,281.2 L141.7,281.0 L142.2,280.8 L142.7,280.6 L143.2,280.4 L143.7,280.2 L144.2,280.0 L144.7,279.8 L145.2,279.6 L145.7,279.4 L146.2,279.2 L146.7,279.0 L147.1,278.8 L147.6,278.6 L148.1,278.4 L148.6,278.2 L149.1,278.0 L149.6,277.8 L150.1,277.6 L150.6,277.4 L151.0,277.2 L151.5,277.0 L152.0,276.9 L152.5,276.7 L153.0,276.5 L153.5,276.3 L153.9,276.2 L154.4,276.0 L154.9,275.8 L155.4,275.6 L155.9,275.5 L156.3,275.3 L156.8,275.1 L157.3,275.0 L157.8,274.8 L158.3,274.6 L158.8,274.5 L159.2,274.3 L159.7,274.1 L160.2,273.9 L160.7,273.8 L161.2,273.6 L161.7,273.4 L162.1,273.2 L162.6,273.1 L163.1,272.9 L163.6,272.7 L164.1,272.5 L164.6,272.3 L165.1,272.1 L165.6,272.0 L166.1,271.8 L166.6,271.6 L167.2,271.4 L167.7,271.2 L168.2,271.0 L168.7,270.8 L169.3,270.7 L169.8,270.5 L170.3,270.3 L170.9,270.1 L171.4,269.9 L171.9,269.7 L172.4,269.5 L172.9,269.3 L173.4,269.1 L173.9,268.9 L174.4,268.7 L174.9,268.5 L175.3,268.3 L175.8,268.1 L176.2,267.9 L176.6,267.7 L177.1,267.5 L177.5,267.3 L177.8,267.1 L178.2,266.9 L178.9,266.5 L179.6,266.0 L180.2,265.6 L180.8,265.2 L181.3,264.7 L181.7,264.3 L182.2,263.8 L182.6,263.4 L183.0,262.9 L183.4,262.4 L183.8,261.8 L184.2,261.3 L184.6,260.7 L185.0,260.0 L185.5,259.1 L186.0,258.2 L186.4,257.3 L186.8,256.3 L187.2,255.3 L187.6,254.3 L188.0,253.1 L188.5,252.0 L189.0,250.7 L189.5,249.4 L190.2,248.0 L190.6,247.2 L191.0,246.4 L191.4,245.6 L191.9,244.8 L192.3,243.9 L192.8,243.0 L193.3,242.1 L193.8,241.1 L194.4,240.2 L194.9,239.2 L195.4,238.2 L196.0,237.3 L196.5,236.3 L197.0,235.3 L197.6,234.3 L198.1,233.3 L198.6,232.3 L199.1,231.3 L199.6,230.3 L200.0,229.4 L200.5,228.4 L201.0,227.2 L201.6,226.0 L202.1,224.7 L202.6,223.4 L203.1,222.1 L203.6,220.7 L204.1,219.4 L204.6,218.1 L205.1,216.8 L205.6,215.5 L206.0,214.3 L206.5,213.1 L207.0,211.9 L207.4,210.8 L207.8,209.8 L208.3,208.9 L208.7,208.0 L209.2,207.0 L209.7,206.1 L210.2,205.4 L210.7,204.7 L211.1,204.2 L211.5,203.7 L212.0,203.2 L212.4,202.8 L212.8,202.4 L213.3,202.0 L213.8,201.6 L214.3,201.2 L214.8,200.7 L215.2,200.3 L215.7,200.0 L216.2,199.6 L216.7,199.3 L217.2,198.9 L217.7,198.6 L218.2,198.3 L218.8,198.0 L219.3,197.7 L219.8,197.4 L220.3,197.0 L220.8,196.7 L221.3,196.4 L221.8,196.1 L222.2,195.7 L222.6,195.4 L223.0,195.0 L223.6,194.3 L224.2,193.6 L224.6,193.0 L225.0,192.3 L225.4,191.5 L225.8,190.8 L226.1,189.9 L226.5,189.0 L227.0,188.0 L227.4,187.0 L227.9,185.9 L228.4,184.8 L228.9,183.7 L229.3,182.4 L229.8,181.2 L230.3,179.9 L230.8,178.5 L231.2,177.2 L231.7,175.8 L232.2,174.2 L232.6,172.7 L233.1,171.1 L233.5,169.4 L233.9,167.7 L234.4,165.9 L234.9,164.1 L235.4,162.3 L235.9,160.3 L236.3,158.9 L236.7,157.4 L237.2,156.0 L237.7,154.4 L238.1,152.9 L238.6,151.3 L239.1,149.7 L239.6,148.1 L240.1,146.5 L240.6,144.8 L241.0,143.2 L241.5,141.6 L241.9,140.0 L242.5,137.7 L243.0,135.5 L243.4,133.4 L243.9,131.2 L244.3,128.9 L244.8,126.6 L245.3,124.2 L245.8,121.6 L246.3,118.9 L246.7,116.7 L247.2,114.3 L247.6,111.8 L248.1,109.2 L248.6,106.5 L249.1,103.9 L249.6,101.2 L250.1,98.6 L250.5,96.0 L251.0,93.5 L251.5,91.2 L251.9,89.1 L252.4,86.7 L252.9,84.4 L253.3,82.2 L253.8,80.2 L254.3,78.2 L254.7,76.4 L255.2,74.7 L255.6,73.2 L256.1,71.7 L256.6,70.4 L257.0,69.4 L257.5,68.4 L258.0,67.5 L258.4,66.6 L258.9,65.8 L259.4,65.0 L259.9,64.3 L260.4,63.7 L260.8,63.2 L261.3,62.7 L261.8,62.4 L262.2,62.3 L262.7,62.4 L263.2,62.7 L263.7,63.2 L264.2,63.9 L264.7,64.8 L265.1,65.7 L265.6,66.7 L266.1,67.7 L266.5,68.6 L267.0,69.5 L267.5,70.3 L267.9,71.1 L268.3,71.9 L268.7,72.8 L269.1,73.7 L269.5,74.7 L270.0,75.9 L270.4,77.2 L270.9,78.7 L271.5,80.4 L271.9,81.7 L272.3,83.1 L272.8,84.6 L273.2,86.2 L273.7,87.9 L274.2,89.6 L274.7,91.4 L275.1,93.2 L275.6,95.1 L276.2,96.9 L276.7,98.8 L277.2,100.7 L277.6,102.5 L278.1,104.3 L278.6,106.0 L279.1,107.8 L279.6,109.7 L280.1,111.7 L280.6,113.6 L281.1,115.6 L281.6,117.5 L282.1,119.4 L282.6,121.3 L283.1,123.1 L283.5,124.9 L284.0,126.6 L284.5,128.1 L285.0,129.6 L285.5,131.0 L286.0,132.3 L286.5,133.4 L286.9,134.5 L287.4,135.5 L287.9,136.4 L288.3,137.2 L288.8,138.0 L289.3,138.7 L289.8,139.4 L290.3,140.1 L290.8,140.7 L291.3,141.3 L291.8,141.9 L292.3,142.5 L292.7,143.0 L293.2,143.4 L293.7,143.9 L294.1,144.3 L294.6,144.7 L295.1,145.0 L295.6,145.4 L296.1,145.7 L296.6,146.0 L297.1,146.3 L297.6,146.5 L298.1,146.7 L298.5,146.9 L299.0,147.1 L299.5,147.3 L300.0,147.4 L300.5,147.5 L301.0,147.6 L301.5,147.6 L301.9,147.6 L302.4,147.6 L302.9,147.5 L303.4,147.4 L303.8,147.3 L304.3,147.2 L304.8,147.0 L305.3,146.9 L305.7,146.7 L306.2,146.5 L306.7,146.3 L307.2,146.1 L307.6,145.9 L308.1,145.7 L308.6,145.5 L309.1,145.3 L309.6,145.1 L310.1,144.8 L310.6,144.6 L311.0,144.3 L311.5,144.0 L312.0,143.8 L312.5,143.5 L313.0,143.2 L313.5,142.9 L314.0,142.6 L314.5,142.3 L315.0,142.0 L315.4,141.6 L315.9,141.3 L316.4,141.0 L316.8,140.7 L317.3,140.3 L317.9,139.9 L318.5,139.4 L319.0,139.0 L319.6,138.5 L320.2,138.0 L320.7,137.5 L321.2,137.1 L321.7,136.7 L322.2,136.2 L322.6,135.9 L323.0,135.5 L323.3,135.2 L323.6,135.0" fill="none" stroke="#e0b0c4" stroke-width="2.0" stroke-linejoin="round"/>
<path d="M30.5,313.5 L30.8,313.5 L31.0,313.5 L31.3,313.5 L31.7,313.5 L32.0,313.5 L32.4,313.5 L32.8,313.5 L33.2,313.5 L33.6,313.5 L34.1,313.4 L34.5,313.4 L35.0,313.4 L35.5,313.4 L36.0,313.4 L36.5,313.4 L37.0,313.4 L37.6,313.4 L38.1,313.4 L38.7,313.4 L39.2,313.4 L39.8,313.4 L40.4,313.4 L41.0,313.4 L41.5,313.4 L42.1,313.3 L42.7,313.3 L43.3,313.3 L43.9,313.3 L44.5,313.3 L45.1,313.3 L45.7,313.3 L46.2,313.3 L46.8,313.3 L47.4,313.3 L47.9,313.2 L48.5,313.2 L49.0,313.2 L49.6,313.2 L50.1,313.2 L50.6,313.2 L51.1,313.2 L51.6,313.1 L52.1,313.1 L52.6,313.1 L53.0,313.1 L53.5,313.1 L53.9,313.1 L54.3,313.0 L54.6,313.0 L55.0,313.0 L55.8,313.0 L56.5,312.9 L57.2,312.9 L57.8,312.8 L58.4,312.8 L58.9,312.7 L59.4,312.7 L59.9,312.6 L60.3,312.6 L60.7,312.5 L61.1,312.5 L61.5,312.4 L61.8,312.3 L62.2,312.3 L62.6,312.2 L62.9,312.1 L63.3,312.0 L63.7,311.9 L64.1,311.8 L64.5,311.6 L65.0,311.5 L65.5,311.4 L65.9,311.2 L66.4,311.0 L66.9,310.9 L67.4,310.7 L67.8,310.5 L68.3,310.3 L68.8,310.1 L69.2,309.9 L69.7,309.7 L70.2,309.5 L70.6,309.3 L71.1,309.0 L71.6,308.8 L72.1,308.5 L72.5,308.3 L73.0,308.0 L73.5,307.8 L74.0,307.5 L74.5,307.2 L75.0,306.9 L75.5,306.7 L75.9,306.4 L76.4,306.1 L76.9,305.7 L77.4,305.4 L77.9,305.0 L78.4,304.6 L78.9,304.2 L79.4,303.8 L79.9,303.4 L80.4,302.9 L80.9,302.5 L81.4,302.0 L81.9,301.5 L82.4,300.9 L82.8,300.4 L83.3,299.9 L83.8,299.3 L84.3,298.8 L84.7,298.2 L85.1,297.6 L85.6,297.1 L86.0,296.6 L86.6,295.9 L87.1,295.3 L87.6,294.7 L88.1,294.1 L88.6,293.6 L89.1,293.1 L89.6,292.6 L90.0,292.2 L90.5,291.9 L90.9,291.5 L91.4,291.2 L91.8,290.9 L92.3,290.7 L92.7,290.5 L93.1,290.3 L93.6,290.1 L94.0,289.9 L94.5,289.6 L95.0,289.4 L95.5,289.2 L96.0,289.0 L96.5,288.7 L96.9,288.5 L97.4,288.3 L97.9,288.0 L98.3,287.8 L98.8,287.5 L99.2,287.3 L99.7,287.0 L100.2,286.7 L100.7,286.5 L101.2,286.2 L101.7,285.9 L102.1,285.5 L102.6,285.1 L103.1,284.6 L103.6,284.2 L104.1,283.7 L104.6,283.2 L105.1,282.8 L105.6,282.3 L106.1,281.9 L106.6,281.6 L107.1,281.3 L107.5,281.0 L108.0,280.8 L108.5,280.7 L109.0,280.7 L109.5,280.8 L109.9,281.0 L110.4,281.2 L110.8,281.4 L111.2,281.7 L111.7,282.0 L112.1,282.4 L112.6,282.7 L113.0,283.1 L113.5,283.4 L114.0,283.6 L114.4,283.9 L114.8,284.2 L115.2,284.5 L115.6,284.9 L116.0,285.3 L116.4,285.7 L116.8,286.0 L117.2,286.4 L117.7,286.7 L118.1,287.0 L118.6,287.3 L119.2,287.4 L119.7,287.5 L120.3,287.5 L121.0,287.5 L121.4,287.4 L121.8,287.3 L122.2,287.2 L122.6,287.0 L123.0,286.8 L123.4,286.7 L123.9,286.5 L124.4,286.3 L124.8,286.1 L125.3,285.9 L125.8,285.6 L126.3,285.4 L126.8,285.2 L127.3,285.0 L127.8,284.8 L128.3,284.6 L128.8,284.4 L129.3,284.2 L129.9,284.0 L130.4,283.8 L130.9,283.7 L131.4,283.5 L131.9,283.4 L132.5,283.3 L133.0,283.2 L133.5,283.1 L134.0,283.0 L134.5,282.9 L135.0,282.8 L135.4,282.7 L135.9,282.6 L136.4,282.5 L136.9,282.4 L137.4,282.3 L137.8,282.1 L138.3,282.0 L138.8,281.9 L139.3,281.7 L139.8,281.6 L140.3,281.4 L140.8,281.3 L141.2,281.1 L141.7,280.9 L142.2,280.7 L142.7,280.6 L143.2,280.4 L143.7,280.2 L144.2,280.0 L144.7,279.8 L145.2,279.6 L145.7,279.4 L146.2,279.2 L146.7,279.0 L147.1,278.8 L147.6,278.6 L148.1,278.4 L148.6,278.2 L149.1,278.0 L149.6,277.8 L150.1,277.6 L150.6,277.4 L151.0,277.2 L151.5,277.0 L152.0,276.9 L152.5,276.7 L153.0,276.5 L153.5,276.3 L153.9,276.2 L154.4,276.0 L154.9,275.8 L155.4,275.6 L155.9,275.5 L156.3,275.3 L156.8,275.1 L157.3,275.0 L157.8,274.8 L158.3,274.6 L158.8,274.5 L159.2,274.3 L159.7,274.1 L160.2,273.9 L160.7,273.8 L161.2,273.6 L161.7,273.4 L162.1,273.2 L162.6,273.1 L163.1,272.9 L163.6,272.7 L164.1,272.5 L164.6,272.3 L165.1,272.1 L165.6,272.0 L166.1,271.8 L166.6,271.6 L167.2,271.4 L167.7,271.2 L168.2,271.0 L168.7,270.8 L169.3,270.7 L169.8,270.5 L170.3,270.3 L170.9,270.1 L171.4,269.9 L171.9,269.7 L172.4,269.5 L172.9,269.3 L173.4,269.1 L173.9,268.9 L174.4,268.7 L174.9,268.5 L175.3,268.3 L175.8,268.1 L176.2,267.9 L176.6,267.7 L177.1,267.5 L177.5,267.3 L177.8,267.1 L178.2,266.9 L178.9,266.5 L179.6,266.0 L180.2,265.6 L180.8,265.2 L181.3,264.7 L181.7,264.3 L182.2,263.8 L182.6,263.4 L183.0,262.9 L183.4,262.4 L183.8,261.8 L184.2,261.3 L184.6,260.7 L185.0,260.0 L185.5,259.1 L186.0,258.2 L186.4,257.3 L186.8,256.3 L187.2,255.3 L187.6,254.3 L188.0,253.1 L188.5,252.0 L189.0,250.7 L189.5,249.4 L190.2,248.0 L190.6,247.2 L191.0,246.4 L191.4,245.6 L191.9,244.8 L192.3,243.9 L192.8,243.0 L193.3,242.1 L193.8,241.1 L194.4,240.2 L194.9,239.2 L195.4,238.2 L196.0,237.3 L196.5,236.3 L197.0,235.3 L197.6,234.3 L198.1,233.3 L198.6,232.3 L199.1,231.3 L199.6,230.3 L200.0,229.4 L200.5,228.4 L201.0,227.2 L201.6,226.0 L202.1,224.7 L202.6,223.4 L203.1,222.1 L203.6,220.7 L204.1,219.4 L204.6,218.1 L205.1,216.8 L205.6,215.5 L206.0,214.3 L206.5,213.1 L207.0,211.9 L207.4,210.8 L207.8,209.8 L208.3,208.9 L208.7,208.0 L209.2,207.0 L209.7,206.1 L210.2,205.4 L210.7,204.7 L211.1,204.2 L211.5,203.7 L212.0,203.2 L212.4,202.8 L212.8,202.4 L213.3,202.0 L213.8,201.6 L214.3,201.2 L214.8,200.7 L215.2,200.3 L215.7,200.0 L216.2,199.6 L216.7,199.3 L217.2,198.9 L217.7,198.6 L218.2,198.3 L218.8,198.0 L219.3,197.7 L219.8,197.3 L220.3,197.0 L220.8,196.7 L221.3,196.4 L221.8,196.0 L222.2,195.7 L222.6,195.3 L223.0,194.9 L223.6,194.2 L224.2,193.5 L224.6,192.8 L225.0,192.0 L225.4,191.3 L225.8,190.5 L226.1,189.6 L226.5,188.6 L227.0,187.5 L227.4,186.5 L227.9,185.3 L228.4,184.1 L228.9,182.8 L229.3,181.5 L229.8,180.1 L230.3,178.7 L230.8,177.2 L231.2,175.7 L231.7,174.2 L232.2,172.5 L232.6,170.8 L233.1,169.0 L233.5,167.2 L233.9,165.4 L234.4,163.5 L234.9,161.6 L235.4,159.6 L235.9,157.5 L236.3,156.0 L236.7,154.5 L237.2,153.0 L237.7,151.4 L238.1,149.9 L238.6,148.3 L239.1,146.8 L239.6,145.2 L240.1,143.7 L240.6,142.1 L241.0,140.6 L241.5,139.1 L241.9,137.6 L242.5,135.5 L243.0,133.5 L243.4,131.5 L243.9,129.4 L244.3,127.3 L244.8,125.2 L245.3,122.9 L245.8,120.5 L246.3,117.9 L246.7,115.8 L247.2,113.5 L247.6,111.1 L248.1,108.6 L248.6,106.0 L249.1,103.4 L249.6,100.8 L250.1,98.3 L250.5,95.8 L251.0,93.4 L251.5,91.1 L251.9,89.1 L252.4,86.8 L252.9,84.6 L253.3,82.6 L253.8,80.7 L254.3,78.9 L254.7,77.3 L255.2,75.9 L255.6,74.6 L256.1,73.6 L256.6,72.8 L257.0,72.2 L257.5,71.7 L258.0,71.3 L258.4,71.0 L258.9,70.7 L259.4,70.5 L259.9,70.3 L260.4,70.1 L260.8,69.9 L261.3,69.7 L261.8,69.6 L262.2,69.5 L262.7,69.5 L263.2,69.6 L263.7,69.9 L264.2,70.2 L264.7,70.7 L265.1,71.2 L265.6,71.8 L266.1,72.4 L266.5,73.0 L267.0,73.6 L267.5,74.2 L267.9,74.8 L268.3,75.6 L268.7,76.4 L269.1,77.4 L269.5,78.5 L270.0,79.8 L270.4,81.3 L270.9,83.1 L271.5,85.3 L271.9,86.9 L272.3,88.6 L272.8,90.5 L273.2,92.5 L273.7,94.6 L274.2,96.8 L274.7,98.9 L275.1,101.1 L275.6,103.3 L276.2,105.5 L276.7,107.6 L277.2,109.6 L277.6,111.5 L278.1,113.3 L278.6,115.0 L279.1,116.7 L279.6,118.4 L280.1,120.1 L280.6,121.7 L281.1,123.3 L281.6,124.9 L282.1,126.4 L282.6,127.8 L283.1,129.2 L283.5,130.5 L284.0,131.7 L284.5,132.8 L285.0,133.8 L285.5,134.8 L286.0,135.6 L286.5,136.4 L286.9,137.2 L287.4,137.8 L287.9,138.5 L288.3,139.1 L288.8,139.7 L289.3,140.2 L289.8,140.8 L290.3,141.3 L290.8,141.9 L291.3,142.4 L291.8,143.0 L292.3,143.6 L292.7,144.0 L293.2,144.5 L293.7,144.9 L294.1,145.3 L294.6,145.7 L295.1,146.1 L295.6,146.4 L296.1,146.7 L296.6,147.0 L297.1,147.3 L297.6,147.5 L298.1,147.6 L298.5,147.8 L299.0,147.9 L299.5,148.0 L300.0,148.0 L300.5,148.1 L301.0,148.1 L301.5,148.0 L301.9,148.0 L302.4,147.9 L302.9,147.8 L303.4,147.6 L303.8,147.5 L304.3,147.3 L304.8,147.2 L305.3,147.0 L305.7,146.8 L306.2,146.6 L306.7,146.4 L307.2,146.1 L307.6,145.9 L308.1,145.7 L308.6,145.5 L309.1,145.3 L309.6,145.1 L310.1,144.8 L310.6,144.6 L311.0,144.3 L311.5,144.1 L312.0,143.8 L312.5,143.5 L313.0,143.2 L313.5,142.9 L314.0,142.6 L314.5,142.3 L315.0,142.0 L315.4,141.6 L315.9,141.3 L316.4,141.0 L316.8,140.7 L317.3,140.3 L317.9,139.9 L318.5,139.4 L319.0,139.0 L319.6,138.5 L320.2,138.0 L320.7,137.6 L321.2,137.1 L321.7,136.7 L322.2,136.2 L322.6,135.9 L323.0,135.5 L323.3,135.2 L323.6,135.0" fill="none" stroke="#c4a0e4" stroke-width="2.6" stroke-linejoin="round"/>
<path d="M30.5,313.5 L30.8,313.5 L31.0,313.5 L31.3,313.5 L31.7,313.5 L32.0,313.5 L32.4,313.5 L32.8,313.5 L33.2,313.5 L33.6,313.5 L34.1,313.4 L34.5,313.4 L35.0,313.4 L35.5,313.4 L36.0,313.4 L36.5,313.4 L37.0,313.4 L37.6,313.4 L38.1,313.4 L38.7,313.4 L39.2,313.4 L39.8,313.4 L40.4,313.4 L41.0,313.4 L41.5,313.4 L42.1,313.3 L42.7,313.3 L43.3,313.3 L43.9,313.3 L44.5,313.3 L45.1,313.3 L45.7,313.3 L46.2,313.3 L46.8,313.3 L47.4,313.3 L47.9,313.2 L48.5,313.2 L49.0,313.2 L49.6,313.2 L50.1,313.2 L50.6,313.2 L51.1,313.2 L51.6,313.1 L52.1,313.1 L52.6,313.1 L53.0,313.1 L53.5,313.1 L53.9,313.1 L54.3,313.0 L54.6,313.0 L55.0,313.0 L55.8,313.0 L56.5,312.9 L57.2,312.9 L57.8,312.8 L58.4,312.8 L58.9,312.7 L59.4,312.7 L59.9,312.6 L60.3,312.6 L60.7,312.5 L61.1,312.5 L61.5,312.4 L61.8,312.3 L62.2,312.3 L62.6,312.2 L62.9,312.1 L63.3,312.0 L63.7,311.9 L64.1,311.8 L64.5,311.6 L65.0,311.5 L65.5,311.4 L65.9,311.2 L66.4,311.0 L66.9,310.9 L67.4,310.7 L67.8,310.5 L68.3,310.3 L68.8,310.1 L69.2,309.9 L69.7,309.7 L70.2,309.5 L70.6,309.3 L71.1,309.0 L71.6,308.8 L72.1,308.5 L72.5,308.3 L73.0,308.0 L73.5,307.8 L74.0,307.5 L74.5,307.2 L75.0,307.0 L75.5,306.7 L75.9,306.4 L76.4,306.1 L76.9,305.8 L77.4,305.5 L77.9,305.1 L78.4,304.8 L78.9,304.4 L79.4,304.0 L79.9,303.6 L80.4,303.1 L80.9,302.7 L81.4,302.2 L81.9,301.7 L82.4,301.1 L82.8,300.6 L83.3,300.0 L83.8,299.4 L84.3,298.8 L84.7,298.2 L85.1,297.6 L85.6,297.0 L86.0,296.3 L86.6,295.5 L87.1,294.6 L87.6,293.8 L88.1,293.0 L88.6,292.2 L89.1,291.5 L89.6,290.7 L90.0,290.1 L90.5,289.4 L90.9,288.8 L91.4,288.2 L91.8,287.7 L92.3,287.1 L92.7,286.7 L93.1,286.3 L93.6,285.9 L94.0,285.5 L94.5,285.1 L95.0,284.8 L95.5,284.5 L96.0,284.2 L96.5,284.0 L96.9,283.9 L97.4,283.7 L97.9,283.6 L98.3,283.5 L98.8,283.4 L99.2,283.4 L99.7,283.4 L100.2,283.4 L100.7,283.4 L101.2,283.4 L101.7,283.3 L102.1,283.2 L102.6,283.1 L103.1,283.0 L103.6,282.8 L104.1,282.7 L104.6,282.5 L105.1,282.3 L105.6,282.2 L106.1,282.0 L106.6,281.8 L107.1,281.7 L107.5,281.6 L108.0,281.5 L108.5,281.4 L109.0,281.4 L109.5,281.5 L109.9,281.6 L110.4,281.7 L110.8,281.9 L111.2,282.1 L111.7,282.4 L112.1,282.6 L112.6,282.9 L113.0,283.2 L113.5,283.4 L114.0,283.7 L114.4,283.9 L114.8,284.2 L115.2,284.5 L115.6,284.8 L116.0,285.2 L116.4,285.5 L116.8,285.9 L117.2,286.2 L117.7,286.6 L118.1,286.8 L118.6,287.0 L119.2,287.2 L119.7,287.3 L120.3,287.3 L121.0,287.2 L121.4,287.1 L121.8,286.9 L122.2,286.8 L122.6,286.6 L123.0,286.5 L123.4,286.3 L123.9,286.1 L124.4,285.8 L124.8,285.6 L125.3,285.4 L125.8,285.2 L126.3,284.9 L126.8,284.7 L127.3,284.5 L127.8,284.3 L128.3,284.1 L128.8,283.9 L129.3,283.7 L129.9,283.5 L130.4,283.4 L130.9,283.2 L131.4,283.1 L131.9,283.0 L132.5,282.9 L133.0,282.8 L133.5,282.7 L134.0,282.6 L134.5,282.5 L135.0,282.5 L135.4,282.4 L135.9,282.3 L136.4,282.2 L136.9,282.2 L137.4,282.1 L137.8,282.0 L138.3,281.8 L138.8,281.7 L139.3,281.6 L139.8,281.5 L140.3,281.3 L140.8,281.2 L141.2,281.0 L141.7,280.8 L142.2,280.7 L142.7,280.5 L143.2,280.3 L143.7,280.1 L144.2,279.9 L144.7,279.7 L145.2,279.5 L145.7,279.3 L146.2,279.1 L146.7,278.9 L147.1,278.7 L147.6,278.5 L148.1,278.4 L148.6,278.2 L149.1,278.0 L149.6,277.8 L150.1,277.6 L150.6,277.4 L151.0,277.2 L151.5,277.0 L152.0,276.9 L152.5,276.7 L153.0,276.5 L153.5,276.3 L153.9,276.2 L154.4,276.0 L154.9,275.8 L155.4,275.6 L155.9,275.5 L156.3,275.3 L156.8,275.1 L157.3,275.0 L157.8,274.8 L158.3,274.6 L158.8,274.5 L159.2,274.3 L159.7,274.1 L160.2,273.9 L160.7,273.8 L161.2,273.6 L161.7,273.4 L162.1,273.2 L162.6,273.1 L163.1,272.9 L163.6,272.7 L164.1,272.5 L164.6,272.3 L165.1,272.1 L165.6,272.0 L166.1,271.8 L166.6,271.6 L167.2,271.4 L167.7,271.2 L168.2,271.0 L168.7,270.8 L169.3,270.7 L169.8,270.5 L170.3,270.3 L170.9,270.1 L171.4,269.9 L171.9,269.7 L172.4,269.5 L172.9,269.3 L173.4,269.1 L173.9,268.9 L174.4,268.7 L174.9,268.5 L175.3,268.3 L175.8,268.1 L176.2,267.9 L176.6,267.7 L177.1,267.5 L177.5,267.3 L177.8,267.1 L178.2,266.9 L178.9,266.5 L179.6,266.0 L180.2,265.6 L180.8,265.2 L181.3,264.7 L181.7,264.3 L182.2,263.8 L182.6,263.4 L183.0,262.9 L183.4,262.4 L183.8,261.8 L184.2,261.3 L184.6,260.7 L185.0,260.0 L185.5,259.1 L186.0,258.2 L186.4,257.3 L186.8,256.3 L187.2,255.3 L187.6,254.3 L188.0,253.1 L188.5,252.0 L189.0,250.7 L189.5,249.4 L190.2,248.0 L190.6,247.2 L191.0,246.4 L191.4,245.6 L191.9,244.8 L192.3,243.9 L192.8,243.0 L193.3,242.1 L193.8,241.1 L194.4,240.2 L194.9,239.2 L195.4,238.2 L196.0,237.2 L196.5,236.3 L197.0,235.3 L197.6,234.3 L198.1,233.2 L198.6,232.2 L199.1,231.2 L199.6,230.2 L200.0,229.2 L200.5,228.1 L201.0,226.8 L201.6,225.5 L202.1,224.0 L202.6,222.5 L203.1,220.9 L203.6,219.3 L204.1,217.7 L204.6,216.0 L205.1,214.3 L205.6,212.7 L206.0,211.1 L206.5,209.6 L207.0,208.1 L207.4,206.8 L207.8,205.5 L208.3,204.5 L208.7,203.5 L209.2,202.5 L209.7,201.7 L210.2,201.1 L210.7,200.7 L211.1,200.4 L211.5,200.2 L212.0,200.0 L212.4,200.0 L212.8,199.9 L213.3,199.9 L213.8,199.8 L214.3,199.7 L214.8,199.5 L215.2,199.4 L215.7,199.2 L216.2,199.0 L216.7,198.8 L217.2,198.6 L217.7,198.4 L218.2,198.2 L218.8,197.9 L219.3,197.6 L219.8,197.3 L220.3,197.0 L220.8,196.7 L221.3,196.4 L221.8,196.1 L222.2,195.7 L222.6,195.4 L223.0,195.0 L223.6,194.3 L224.2,193.6 L224.6,193.0 L225.0,192.3 L225.4,191.5 L225.8,190.8 L226.1,189.9 L226.5,189.0 L227.0,188.0 L227.4,187.0 L227.9,185.9 L228.4,184.8 L228.9,183.7 L229.3,182.4 L229.8,181.2 L230.3,179.9 L230.8,178.5 L231.2,177.2 L231.7,175.8 L232.2,174.2 L232.6,172.7 L233.1,171.1 L233.5,169.4 L233.9,167.7 L234.4,165.9 L234.9,164.1 L235.4,162.3 L235.9,160.3 L236.3,158.9 L236.7,157.4 L237.2,156.0 L237.7,154.4 L238.1,152.9 L238.6,151.3 L239.1,149.7 L239.6,148.1 L240.1,146.5 L240.6,144.8 L241.0,143.2 L241.5,141.6 L241.9,140.0 L242.5,137.7 L243.0,135.5 L243.4,133.4 L243.9,131.2 L244.3,128.9 L244.8,126.6 L245.3,124.2 L245.8,121.6 L246.3,118.9 L246.7,116.7 L247.2,114.3 L247.6,111.8 L248.1,109.2 L248.6,106.5 L249.1,103.8 L249.6,101.2 L250.1,98.5 L250.5,95.9 L251.0,93.5 L251.5,91.1 L251.9,89.0 L252.4,86.5 L252.9,84.2 L253.3,82.0 L253.8,79.9 L254.3,77.9 L254.7,76.0 L255.2,74.2 L255.6,72.5 L256.1,71.0 L256.6,69.5 L257.0,68.4 L257.5,67.3 L258.0,66.2 L258.4,65.2 L258.9,64.2 L259.4,63.3 L259.9,62.5 L260.4,61.8 L260.8,61.2 L261.3,60.8 L261.8,60.5 L262.2,60.3 L262.7,60.4 L263.2,60.8 L263.7,61.4 L264.2,62.2 L264.7,63.2 L265.1,64.3 L265.6,65.4 L266.1,66.5 L266.5,67.7 L267.0,68.7 L267.5,69.7 L267.9,70.6 L268.3,71.6 L268.7,72.7 L269.1,73.8 L269.5,75.0 L270.0,76.3 L270.4,77.8 L270.9,79.5 L271.5,81.4 L271.9,82.8 L272.3,84.4 L272.8,86.0 L273.2,87.7 L273.7,89.5 L274.2,91.4 L274.7,93.3 L275.1,95.2 L275.6,97.1 L276.2,98.9 L276.7,100.8 L277.2,102.6 L277.6,104.3 L278.1,106.0 L278.6,107.7 L279.1,109.4 L279.6,111.1 L280.1,112.9 L280.6,114.7 L281.1,116.5 L281.6,118.3 L282.1,120.1 L282.6,121.9 L283.1,123.6 L283.5,125.3 L284.0,126.9 L284.5,128.4 L285.0,129.8 L285.5,131.2 L286.0,132.4 L286.5,133.5 L286.9,134.5 L287.4,135.5 L287.9,136.4 L288.3,137.2 L288.8,138.0 L289.3,138.7 L289.8,139.3 L290.3,140.0 L290.8,140.5 L291.3,141.1 L291.8,141.6 L292.3,142.1 L292.7,142.5 L293.2,142.8 L293.7,143.2 L294.1,143.4 L294.6,143.7 L295.1,144.0 L295.6,144.2 L296.1,144.4 L296.6,144.6 L297.1,144.8 L297.6,145.0 L298.1,145.2 L298.5,145.5 L299.0,145.7 L299.5,145.9 L300.0,146.1 L300.5,146.3 L301.0,146.5 L301.5,146.7 L301.9,146.8 L302.4,146.9 L302.9,146.9 L303.4,146.9 L303.8,146.9 L304.3,146.9 L304.8,146.8 L305.3,146.7 L305.7,146.6 L306.2,146.4 L306.7,146.2 L307.2,146.1 L307.6,145.9 L308.1,145.7 L308.6,145.5 L309.1,145.3 L309.6,145.1 L310.1,144.8 L310.6,144.6 L311.0,144.3 L311.5,144.0 L312.0,143.8 L312.5,143.5 L313.0,143.2 L313.5,142.9 L314.0,142.6 L314.5,142.3 L315.0,142.0 L315.4,141.6 L315.9,141.3 L316.4,141.0 L316.8,140.7 L317.3,140.3 L317.9,139.9 L318.5,139.4 L319.0,139.0 L319.6,138.5 L320.2,138.0 L320.7,137.5 L321.2,137.1 L321.7,136.7 L322.2,136.2 L322.6,135.9 L323.0,135.5 L323.3,135.2 L323.6,135.0" fill="none" stroke="#6c80ad" stroke-width="1.6" stroke-linejoin="round"/>
<path d="M30.5,313.5 L30.8,313.5 L31.0,313.5 L31.3,313.5 L31.7,313.5 L32.0,313.5 L32.4,313.5 L32.8,313.5 L33.2,313.5 L33.6,313.5 L34.1,313.4 L34.5,313.4 L35.0,313.4 L35.5,313.4 L36.0,313.4 L36.5,313.4 L37.0,313.4 L37.6,313.4 L38.1,313.4 L38.7,313.4 L39.2,313.4 L39.8,313.4 L40.4,313.4 L41.0,313.4 L41.5,313.4 L42.1,313.3 L42.7,313.3 L43.3,313.3 L43.9,313.3 L44.5,313.3 L45.1,313.3 L45.7,313.3 L46.2,313.3 L46.8,313.3 L47.4,313.3 L47.9,313.2 L48.5,313.2 L49.0,313.2 L49.6,313.2 L50.1,313.2 L50.6,313.2 L51.1,313.2 L51.6,313.1 L52.1,313.1 L52.6,313.1 L53.0,313.1 L53.5,313.1 L53.9,313.1 L54.3,313.0 L54.6,313.0 L55.0,313.0 L55.8,313.0 L56.5,312.9 L57.2,312.9 L57.8,312.8 L58.4,312.8 L58.9,312.7 L59.4,312.7 L59.9,312.6 L60.3,312.6 L60.7,312.5 L61.1,312.5 L61.5,312.4 L61.8,312.3 L62.2,312.3 L62.6,312.2 L62.9,312.1 L63.3,312.0 L63.7,311.9 L64.1,311.8 L64.5,311.6 L65.0,311.5 L65.5,311.4 L65.9,311.2 L66.4,311.0 L66.9,310.9 L67.4,310.7 L67.8,310.5 L68.3,310.3 L68.8,310.1 L69.2,309.9 L69.7,309.7 L70.2,309.5 L70.6,309.3 L71.1,309.0 L71.6,308.8 L72.1,308.5 L72.5,308.3 L73.0,308.0 L73.5,307.8 L74.0,307.5 L74.5,307.2 L75.0,307.0 L75.5,306.7 L75.9,306.4 L76.4,306.1 L76.9,305.8 L77.4,305.5 L77.9,305.1 L78.4,304.8 L78.9,304.4 L79.4,304.0 L79.9,303.6 L80.4,303.1 L80.9,302.7 L81.4,302.2 L81.9,301.7 L82.4,301.1 L82.8,300.6 L83.3,300.0 L83.8,299.4 L84.3,298.8 L84.7,298.2 L85.1,297.6 L85.6,297.0 L86.0,296.3 L86.6,295.5 L87.1,294.6 L87.6,293.8 L88.1,293.0 L88.6,292.2 L89.1,291.5 L89.6,290.7 L90.0,290.1 L90.5,289.4 L90.9,288.8 L91.4,288.2 L91.8,287.7 L92.3,287.1 L92.7,286.7 L93.1,286.3 L93.6,285.9 L94.0,285.5 L94.5,285.1 L95.0,284.8 L95.5,284.5 L96.0,284.2 L96.5,284.0 L96.9,283.9 L97.4,283.7 L97.9,283.6 L98.3,283.5 L98.8,283.4 L99.2,283.4 L99.7,283.4 L100.2,283.4 L100.7,283.4 L101.2,283.4 L101.7,283.3 L102.1,283.2 L102.6,283.1 L103.1,283.0 L103.6,282.8 L104.1,282.7 L104.6,282.5 L105.1,282.3 L105.6,282.2 L106.1,282.0 L106.6,281.8 L107.1,281.7 L107.5,281.6 L108.0,281.5 L108.5,281.4 L109.0,281.4 L109.5,281.5 L109.9,281.6 L110.4,281.7 L110.8,281.9 L111.2,282.1 L111.7,282.4 L112.1,282.6 L112.6,282.9 L113.0,283.2 L113.5,283.4 L114.0,283.7 L114.4,283.9 L114.8,284.2 L115.2,284.5 L115.6,284.8 L116.0,285.2 L116.4,285.5 L116.8,285.9 L117.2,286.2 L117.7,286.6 L118.1,286.8 L118.6,287.0 L119.2,287.2 L119.7,287.3 L120.3,287.3 L121.0,287.2 L121.4,287.1 L121.8,286.9 L122.2,286.8 L122.6,286.6 L123.0,286.5 L123.4,286.3 L123.9,286.1 L124.4,285.8 L124.8,285.6 L125.3,285.4 L125.8,285.2 L126.3,284.9 L126.8,284.7 L127.3,284.5 L127.8,284.3 L128.3,284.1 L128.8,283.9 L129.3,283.7 L129.9,283.5 L130.4,283.4 L130.9,283.2 L131.4,283.1 L131.9,283.0 L132.5,282.9 L133.0,282.8 L133.5,282.7 L134.0,282.6 L134.5,282.5 L135.0,282.5 L135.4,282.4 L135.9,282.3 L136.4,282.2 L136.9,282.2 L137.4,282.1 L137.8,282.0 L138.3,281.8 L138.8,281.7 L139.3,281.6 L139.8,281.5 L140.3,281.3 L140.8,281.2 L141.2,281.0 L141.7,280.8 L142.2,280.7 L142.7,280.5 L143.2,280.3 L143.7,280.1 L144.2,279.9 L144.7,279.7 L145.2,279.5 L145.7,279.3 L146.2,279.1 L146.7,278.9 L147.1,278.7 L147.6,278.5 L148.1,278.4 L148.6,278.2 L149.1,278.0 L149.6,277.8 L150.1,277.6 L150.6,277.4 L151.0,277.2 L151.5,277.0 L152.0,276.9 L152.5,276.7 L153.0,276.5 L153.5,276.3 L153.9,276.2 L154.4,276.0 L154.9,275.8 L155.4,275.6 L155.9,275.5 L156.3,275.3 L156.8,275.1 L157.3,275.0 L157.8,274.8 L158.3,274.6 L158.8,274.5 L159.2,274.3 L159.7,274.1 L160.2,273.9 L160.7,273.8 L161.2,273.6 L161.7,273.4 L162.1,273.2 L162.6,273.1 L163.1,272.9 L163.6,272.7 L164.1,272.5 L164.6,272.3 L165.1,272.1 L165.6,272.0 L166.1,271.8 L166.6,271.6 L167.2,271.4 L167.7,271.2 L168.2,271.0 L168.7,270.8 L169.3,270.7 L169.8,270.5 L170.3,270.3 L170.9,270.1 L171.4,269.9 L171.9,269.7 L172.4,269.5 L172.9,269.3 L173.4,269.1 L173.9,268.9 L174.4,268.7 L174.9,268.5 L175.3,268.3 L175.8,268.1 L176.2,267.9 L176.6,267.7 L177.1,267.5 L177.5,267.3 L177.8,267.1 L178.2,266.9 L178.9,266.5 L179.6,266.0 L180.2,265.6 L180.8,265.2 L181.3,264.7 L181.7,264.3 L182.2,263.8 L182.6,263.4 L183.0,262.9 L183.4,262.4 L183.8,261.8 L184.2,261.3 L184.6,260.7 L185.0,260.0 L185.5,259.1 L186.0,258.2 L186.4,257.3 L186.8,256.3 L187.2,255.3 L187.6,254.3 L188.0,253.1 L188.5,252.0 L189.0,250.7 L189.5,249.4 L190.2,248.0 L190.6,247.2 L191.0,246.4 L191.4,245.6 L191.9,244.8 L192.3,243.9 L192.8,243.0 L193.3,242.1 L193.8,241.1 L194.4,240.2 L194.9,239.2 L195.4,238.2 L196.0,237.2 L196.5,236.3 L197.0,235.3 L197.6,234.3 L198.1,233.2 L198.6,232.2 L199.1,231.2 L199.6,230.2 L200.0,229.2 L200.5,228.1 L201.0,226.8 L201.6,225.5 L202.1,224.0 L202.6,222.5 L203.1,220.9 L203.6,219.3 L204.1,217.7 L204.6,216.0 L205.1,214.3 L205.6,212.7 L206.0,211.1 L206.5,209.6 L207.0,208.1 L207.4,206.8 L207.8,205.5 L208.3,204.5 L208.7,203.5 L209.2,202.5 L209.7,201.7 L210.2,201.1 L210.7,200.7 L211.1,200.4 L211.5,200.2 L212.0,200.0 L212.4,200.0 L212.8,199.9 L213.3,199.9 L213.8,199.8 L214.3,199.7 L214.8,199.5 L215.2,199.4 L215.7,199.2 L216.2,199.0 L216.7,198.8 L217.2,198.6 L217.7,198.4 L218.2,198.2 L218.8,197.9 L219.3,197.6 L219.8,197.3 L220.3,197.0 L220.8,196.7 L221.3,196.4 L221.8,196.1 L222.2,195.7 L222.6,195.4 L223.0,195.0 L223.6,194.3 L224.2,193.6 L224.6,193.0 L225.0,192.3 L225.4,191.5 L225.8,190.8 L226.1,189.9 L226.5,189.0 L227.0,188.0 L227.4,187.0 L227.9,185.9 L228.4,184.8 L228.9,183.7 L229.3,182.4 L229.8,181.2 L230.3,179.9 L230.8,178.5 L231.2,177.2 L231.7,175.8 L232.2,174.2 L232.6,172.7 L233.1,171.1 L233.5,169.4 L233.9,167.7 L234.4,165.9 L234.9,164.1 L235.4,162.3 L235.9,160.3 L236.3,158.9 L236.7,157.4 L237.2,156.0 L237.7,154.4 L238.1,152.9 L238.6,151.3 L239.1,149.7 L239.6,148.1 L240.1,146.5 L240.6,144.8 L241.0,143.2 L241.5,141.6 L241.9,140.0 L242.5,137.7 L243.0,135.5 L243.4,133.4 L243.9,131.2 L244.3,128.9 L244.8,126.6 L245.3,124.2 L245.8,121.6 L246.3,118.9 L246.7,116.7 L247.2,114.3 L247.6,111.8 L248.1,109.2 L248.6,106.5 L249.1,103.8 L249.6,101.2 L250.1,98.5 L250.5,95.9 L251.0,93.5 L251.5,91.1 L251.9,89.0 L252.4,86.5 L252.9,84.2 L253.3,82.0 L253.8,79.9 L254.3,77.9 L254.7,76.0 L255.2,74.2 L255.6,72.5 L256.1,71.0 L256.6,69.5 L257.0,68.4 L257.5,67.3 L258.0,66.2 L258.4,65.2 L258.9,64.2 L259.4,63.3 L259.9,62.5 L260.4,61.8 L260.8,61.2 L261.3,60.8 L261.8,60.5 L262.2,60.3 L262.7,60.4 L263.2,60.8 L263.7,61.4 L264.2,62.2 L264.7,63.2 L265.1,64.3 L265.6,65.4 L266.1,66.5 L266.5,67.7 L267.0,68.7 L267.5,69.7 L267.9,70.6 L268.3,71.6 L268.7,72.7 L269.1,73.8 L269.5,75.0 L270.0,76.3 L270.4,77.8 L270.9,79.5 L271.5,81.4 L271.9,82.8 L272.3,84.4 L272.8,86.0 L273.2,87.7 L273.7,89.5 L274.2,91.4 L274.7,93.3 L275.1,95.2 L275.6,97.1 L276.2,98.9 L276.7,100.8 L277.2,102.6 L277.6,104.3 L278.1,106.0 L278.6,107.7 L279.1,109.4 L279.6,111.1 L280.1,112.9 L280.6,114.7 L281.1,116.5 L281.6,118.3 L282.1,120.1 L282.6,121.9 L283.1,123.6 L283.5,125.3 L284.0,126.9 L284.5,128.4 L285.0,129.8 L285.5,131.2 L286.0,132.4 L286.5,133.5 L286.9,134.5 L287.4,135.5 L287.9,136.4 L288.3,137.2 L288.8,138.0 L289.3,138.7 L289.8,139.3 L290.3,140.0 L290.8,140.5 L291.3,141.1 L291.8,141.6 L292.3,142.1 L292.7,142.5 L293.2,142.8 L293.7,143.2 L294.1,143.4 L294.6,143.7 L295.1,144.0 L295.6,144.2 L296.1,144.4 L296.6,144.6 L297.1,144.8 L297.6,145.0 L298.1,145.2 L298.5,145.5 L299.0,145.7 L299.5,145.9 L300.0,146.1 L300.5,146.3 L301.0,146.5 L301.5,146.7 L301.9,146.8 L302.4,146.9 L302.9,146.9 L303.4,146.9 L303.8,146.9 L304.3,146.9 L304.8,146.8 L305.3,146.7 L305.7,146.6 L306.2,146.4 L306.7,146.2 L307.2,146.1 L307.6,145.9 L308.1,145.7 L308.6,145.5 L309.1,145.3 L309.6,145.1 L310.1,144.8 L310.6,144.6 L311.0,144.3 L311.5,144.0 L312.0,143.8 L312.5,143.5 L313.0,143.2 L313.5,142.9 L314.0,142.6 L314.5,142.3 L315.0,142.0 L315.4,141.6 L315.9,141.3 L316.4,141.0 L316.8,140.7 L317.3,140.3 L317.9,139.9 L318.5,139.4 L319.0,139.0 L319.6,138.5 L320.2,138.0 L320.7,137.5 L321.2,137.1 L321.7,136.7 L322.2,136.2 L322.6,135.9 L323.0,135.5 L323.3,135.2 L323.6,135.0" fill="none" stroke="#5a4fb5" stroke-width="1.6" stroke-linejoin="round"/>
<path d="M30.5,313.5 L30.8,313.5 L31.0,313.5 L31.3,313.5 L31.7,313.5 L32.0,313.5 L32.4,313.5 L32.8,313.5 L33.2,313.5 L33.6,313.5 L34.1,313.4 L34.5,313.4 L35.0,313.4 L35.5,313.4 L36.0,313.4 L36.5,313.4 L37.0,313.4 L37.6,313.4 L38.1,313.4 L38.7,313.4 L39.2,313.4 L39.8,313.4 L40.4,313.4 L41.0,313.4 L41.5,313.4 L42.1,313.3 L42.7,313.3 L43.3,313.3 L43.9,313.3 L44.5,313.3 L45.1,313.3 L45.7,313.3 L46.2,313.3 L46.8,313.3 L47.4,313.3 L47.9,313.2 L48.5,313.2 L49.0,313.2 L49.6,313.2 L50.1,313.2 L50.6,313.2 L51.1,313.2 L51.6,313.1 L52.1,313.1 L52.6,313.1 L53.0,313.1 L53.5,313.1 L53.9,313.1 L54.3,313.0 L54.6,313.0 L55.0,313.0 L55.8,313.0 L56.5,312.9 L57.2,312.9 L57.8,312.8 L58.4,312.8 L58.9,312.7 L59.4,312.7 L59.9,312.6 L60.3,312.6 L60.7,312.5 L61.1,312.5 L61.5,312.4 L61.8,312.3 L62.2,312.3 L62.6,312.2 L62.9,312.1 L63.3,312.0 L63.7,311.9 L64.1,311.8 L64.5,311.6 L65.0,311.5 L65.5,311.4 L65.9,311.2 L66.4,311.0 L66.9,310.9 L67.4,310.7 L67.8,310.5 L68.3,310.3 L68.8,310.1 L69.2,309.9 L69.7,309.7 L70.2,309.5 L70.6,309.3 L71.1,309.0 L71.6,308.8 L72.1,308.6 L72.5,308.3 L73.0,308.1 L73.5,307.8 L74.0,307.6 L74.5,307.3 L75.0,307.1 L75.5,306.8 L75.9,306.6 L76.4,306.3 L76.9,306.1 L77.4,305.8 L77.9,305.5 L78.4,305.3 L78.9,305.0 L79.4,304.7 L79.9,304.5 L80.4,304.2 L80.9,304.0 L81.4,303.7 L81.9,303.5 L82.4,303.3 L82.8,303.1 L83.3,302.9 L83.8,302.7 L84.3,302.5 L84.7,302.4 L85.1,302.2 L85.6,302.1 L86.0,301.9 L86.6,301.8 L87.1,301.6 L87.6,301.5 L88.1,301.3 L88.6,301.2 L89.1,301.0 L89.6,300.9 L90.0,300.7 L90.5,300.6 L90.9,300.4 L91.4,300.2 L91.8,299.9 L92.3,299.7 L92.7,299.4 L93.1,299.1 L93.6,298.7 L94.0,298.4 L94.5,297.8 L95.0,297.3 L95.5,296.7 L96.0,296.1 L96.5,295.5 L96.9,294.8 L97.4,294.2 L97.9,293.5 L98.3,292.8 L98.8,292.1 L99.2,291.5 L99.7,290.8 L100.2,290.1 L100.7,289.5 L101.2,288.9 L101.7,288.2 L102.1,287.5 L102.6,286.8 L103.1,286.1 L103.6,285.5 L104.1,284.8 L104.6,284.1 L105.1,283.5 L105.6,283.0 L106.1,282.5 L106.6,282.0 L107.1,281.6 L107.5,281.3 L108.0,281.1 L108.5,281.0 L109.0,281.0 L109.5,281.0 L109.9,281.2 L110.4,281.4 L110.8,281.6 L111.2,281.9 L111.7,282.3 L112.1,282.6 L112.6,283.0 L113.0,283.3 L113.5,283.7 L114.0,284.0 L114.4,284.3 L114.8,284.6 L115.2,285.0 L115.6,285.4 L116.0,285.9 L116.4,286.3 L116.8,286.8 L117.2,287.2 L117.7,287.6 L118.1,288.0 L118.6,288.3 L119.2,288.6 L119.7,288.8 L120.3,288.9 L121.0,289.0 L121.4,289.0 L121.8,289.0 L122.2,288.9 L122.6,288.9 L123.0,288.8 L123.4,288.7 L123.9,288.6 L124.4,288.5 L124.8,288.3 L125.3,288.2 L125.8,288.0 L126.3,287.8 L126.8,287.7 L127.3,287.5 L127.8,287.3 L128.3,287.1 L128.8,286.9 L129.3,286.6 L129.9,286.4 L130.4,286.2 L130.9,286.0 L131.4,285.8 L131.9,285.5 L132.5,285.3 L133.0,285.1 L133.5,284.9 L134.0,284.7 L134.5,284.5 L135.0,284.3 L135.4,284.1 L135.9,283.9 L136.4,283.7 L136.9,283.5 L137.4,283.3 L137.8,283.1 L138.3,282.9 L138.8,282.7 L139.3,282.4 L139.8,282.2 L140.3,282.0 L140.8,281.8 L141.2,281.5 L141.7,281.3 L142.2,281.1 L142.7,280.8 L143.2,280.6 L143.7,280.4 L144.2,280.2 L144.7,279.9 L145.2,279.7 L145.7,279.5 L146.2,279.3 L146.7,279.0 L147.1,278.8 L147.6,278.6 L148.1,278.4 L148.6,278.2 L149.1,278.0 L149.6,277.8 L150.1,277.6 L150.6,277.4 L151.0,277.2 L151.5,277.1 L152.0,276.9 L152.5,276.7 L153.0,276.5 L153.5,276.3 L153.9,276.2 L154.4,276.0 L154.9,275.8 L155.4,275.6 L155.9,275.5 L156.3,275.3 L156.8,275.1 L157.3,275.0 L157.8,274.8 L158.3,274.6 L158.8,274.5 L159.2,274.3 L159.7,274.1 L160.2,273.9 L160.7,273.8 L161.2,273.6 L161.7,273.4 L162.1,273.2 L162.6,273.1 L163.1,272.9 L163.6,272.7 L164.1,272.5 L164.6,272.3 L165.1,272.1 L165.6,272.0 L166.1,271.8 L166.6,271.6 L167.2,271.4 L167.7,271.2 L168.2,271.0 L168.7,270.8 L169.3,270.7 L169.8,270.5 L170.3,270.3 L170.9,270.1 L171.4,269.9 L171.9,269.7 L172.4,269.5 L172.9,269.3 L173.4,269.1 L173.9,268.9 L174.4,268.7 L174.9,268.5 L175.3,268.3 L175.8,268.1 L176.2,267.9 L176.6,267.7 L177.1,267.5 L177.5,267.3 L177.8,267.1 L178.2,266.9 L178.9,266.5 L179.6,266.0 L180.2,265.6 L180.8,265.2 L181.3,264.7 L181.7,264.3 L182.2,263.8 L182.6,263.4 L183.0,262.9 L183.4,262.4 L183.8,261.8 L184.2,261.3 L184.6,260.7 L185.0,260.0 L185.5,259.1 L186.0,258.2 L186.4,257.3 L186.8,256.3 L187.2,255.3 L187.6,254.3 L188.0,253.1 L188.5,252.0 L189.0,250.7 L189.5,249.4 L190.2,248.0 L190.6,247.2 L191.0,246.4 L191.4,245.6 L191.9,244.8 L192.3,243.9 L192.8,243.0 L193.3,242.1 L193.8,241.1 L194.4,240.2 L194.9,239.2 L195.4,238.2 L196.0,237.3 L196.5,236.3 L197.0,235.3 L197.6,234.3 L198.1,233.3 L198.6,232.3 L199.1,231.3 L199.6,230.3 L200.0,229.4 L200.5,228.4 L201.0,227.2 L201.6,226.0 L202.1,224.7 L202.6,223.4 L203.1,222.1 L203.6,220.7 L204.1,219.4 L204.6,218.1 L205.1,216.8 L205.6,215.5 L206.0,214.3 L206.5,213.1 L207.0,211.9 L207.4,210.8 L207.8,209.8 L208.3,208.9 L208.7,208.0 L209.2,207.0 L209.7,206.1 L210.2,205.4 L210.7,204.7 L211.1,204.2 L211.5,203.7 L212.0,203.2 L212.4,202.8 L212.8,202.4 L213.3,202.0 L213.8,201.6 L214.3,201.2 L214.8,200.7 L215.2,200.3 L215.7,200.0 L216.2,199.6 L216.7,199.3 L217.2,198.9 L217.7,198.6 L218.2,198.3 L218.8,198.0 L219.3,197.7 L219.8,197.4 L220.3,197.0 L220.8,196.7 L221.3,196.4 L221.8,196.1 L222.2,195.7 L222.6,195.4 L223.0,195.0 L223.6,194.3 L224.2,193.6 L224.6,193.0 L225.0,192.3 L225.4,191.5 L225.8,190.8 L226.1,189.9 L226.5,189.0 L227.0,188.0 L227.4,187.0 L227.9,185.9 L228.4,184.8 L228.9,183.7 L229.3,182.4 L229.8,181.2 L230.3,179.9 L230.8,178.5 L231.2,177.2 L231.7,175.8 L232.2,174.2 L232.6,172.7 L233.1,171.1 L233.5,169.4 L233.9,167.7 L234.4,165.9 L234.9,164.1 L235.4,162.3 L235.9,160.3 L236.3,158.9 L236.7,157.4 L237.2,156.0 L237.7,154.4 L238.1,152.9 L238.6,151.3 L239.1,149.7 L239.6,148.1 L240.1,146.5 L240.6,144.8 L241.0,143.2 L241.5,141.6 L241.9,140.0 L242.5,137.7 L243.0,135.5 L243.4,133.4 L243.9,131.2 L244.3,128.9 L244.8,126.6 L245.3,124.2 L245.8,121.6 L246.3,118.9 L246.7,116.7 L247.2,114.3 L247.6,111.8 L248.1,109.2 L248.6,106.5 L249.1,103.8 L249.6,101.1 L250.1,98.5 L250.5,95.9 L251.0,93.4 L251.5,91.1 L251.9,88.9 L252.4,86.4 L252.9,84.1 L253.3,81.8 L253.8,79.6 L254.3,77.6 L254.7,75.6 L255.2,73.8 L255.6,72.0 L256.1,70.4 L256.6,68.9 L257.0,67.6 L257.5,66.4 L258.0,65.3 L258.4,64.1 L258.9,63.1 L259.4,62.1 L259.9,61.2 L260.4,60.4 L260.8,59.8 L261.3,59.3 L261.8,59.0 L262.2,58.8 L262.7,58.9 L263.2,59.3 L263.7,60.0 L264.2,60.9 L264.7,61.9 L265.1,63.0 L265.6,64.2 L266.1,65.5 L266.5,66.7 L267.0,67.7 L267.5,68.8 L267.9,69.8 L268.3,70.7 L268.7,71.8 L269.1,72.9 L269.5,74.0 L270.0,75.3 L270.4,76.7 L270.9,78.3 L271.5,80.1 L271.9,81.5 L272.3,82.9 L272.8,84.4 L273.2,86.1 L273.7,87.8 L274.2,89.5 L274.7,91.3 L275.1,93.2 L275.6,95.1 L276.2,96.9 L276.7,98.8 L277.2,100.7 L277.6,102.5 L278.1,104.3 L278.6,106.0 L279.1,107.8 L279.6,109.7 L280.1,111.7 L280.6,113.6 L281.1,115.6 L281.6,117.5 L282.1,119.4 L282.6,121.3 L283.1,123.1 L283.5,124.9 L284.0,126.6 L284.5,128.1 L285.0,129.6 L285.5,131.0 L286.0,132.3 L286.5,133.4 L286.9,134.5 L287.4,135.5 L287.9,136.4 L288.3,137.2 L288.8,138.0 L289.3,138.7 L289.8,139.4 L290.3,140.1 L290.8,140.7 L291.3,141.3 L291.8,141.9 L292.3,142.5 L292.7,143.0 L293.2,143.4 L293.7,143.9 L294.1,144.3 L294.6,144.7 L295.1,145.0 L295.6,145.4 L296.1,145.7 L296.6,146.0 L297.1,146.3 L297.6,146.5 L298.1,146.7 L298.5,146.9 L299.0,147.1 L299.5,147.3 L300.0,147.4 L300.5,147.5 L301.0,147.6 L301.5,147.6 L301.9,147.6 L302.4,147.6 L302.9,147.5 L303.4,147.4 L303.8,147.3 L304.3,147.2 L304.8,147.0 L305.3,146.9 L305.7,146.7 L306.2,146.5 L306.7,146.3 L307.2,146.1 L307.6,145.9 L308.1,145.7 L308.6,145.5 L309.1,145.3 L309.6,145.1 L310.1,144.8 L310.6,144.6 L311.0,144.3 L311.5,144.0 L312.0,143.8 L312.5,143.5 L313.0,143.2 L313.5,142.9 L314.0,142.6 L314.5,142.3 L315.0,142.0 L315.4,141.6 L315.9,141.3 L316.4,141.0 L316.8,140.7 L317.3,140.3 L317.9,139.9 L318.5,139.4 L319.0,139.0 L319.6,138.5 L320.2,138.0 L320.7,137.5 L321.2,137.1 L321.7,136.7 L322.2,136.2 L322.6,135.9 L323.0,135.5 L323.3,135.2 L323.6,135.0" fill="none" stroke="#dca0b4" stroke-width="2.0" stroke-linejoin="round"/>
<path d="M30.5,313.5 L30.8,313.5 L31.0,313.5 L31.3,313.5 L31.7,313.5 L32.0,313.5 L32.4,313.5 L32.8,313.5 L33.2,313.5 L33.6,313.5 L34.1,313.4 L34.5,313.4 L35.0,313.4 L35.5,313.4 L36.0,313.4 L36.5,313.4 L37.0,313.4 L37.6,313.4 L38.1,313.4 L38.7,313.4 L39.2,313.4 L39.8,313.4 L40.4,313.4 L41.0,313.4 L41.5,313.4 L42.1,313.3 L42.7,313.3 L43.3,313.3 L43.9,313.3 L44.5,313.3 L45.1,313.3 L45.7,313.3 L46.2,313.3 L46.8,313.3 L47.4,313.3 L47.9,313.2 L48.5,313.2 L49.0,313.2 L49.6,313.2 L50.1,313.2 L50.6,313.2 L51.1,313.2 L51.6,313.1 L52.1,313.1 L52.6,313.1 L53.0,313.1 L53.5,313.1 L53.9,313.1 L54.3,313.0 L54.6,313.0 L55.0,313.0 L55.8,313.0 L56.5,312.9 L57.2,312.9 L57.8,312.8 L58.4,312.8 L58.9,312.7 L59.4,312.7 L59.9,312.6 L60.3,312.6 L60.7,312.5 L61.1,312.5 L61.5,312.4 L61.8,312.3 L62.2,312.3 L62.6,312.2 L62.9,312.1 L63.3,312.0 L63.7,311.9 L64.1,311.8 L64.5,311.6 L65.0,311.5 L65.5,311.4 L65.9,311.2 L66.4,311.0 L66.9,310.9 L67.4,310.7 L67.8,310.5 L68.3,310.3 L68.8,310.1 L69.2,309.9 L69.7,309.7 L70.2,309.5 L70.6,309.3 L71.1,309.0 L71.6,308.8 L72.1,308.6 L72.5,308.3 L73.0,308.1 L73.5,307.8 L74.0,307.6 L74.5,307.3 L75.0,307.1 L75.5,306.8 L75.9,306.6 L76.4,306.3 L76.9,306.1 L77.4,305.8 L77.9,305.5 L78.4,305.3 L78.9,305.0 L79.4,304.7 L79.9,304.5 L80.4,304.2 L80.9,304.0 L81.4,303.7 L81.9,303.5 L82.4,303.3 L82.8,303.1 L83.3,302.9 L83.8,302.7 L84.3,302.5 L84.7,302.4 L85.1,302.2 L85.6,302.1 L86.0,301.9 L86.6,301.8 L87.1,301.6 L87.6,301.5 L88.1,301.3 L88.6,301.2 L89.1,301.0 L89.6,300.9 L90.0,300.7 L90.5,300.6 L90.9,300.4 L91.4,300.2 L91.8,299.9 L92.3,299.7 L92.7,299.4 L93.1,299.1 L93.6,298.7 L94.0,298.4 L94.5,297.8 L95.0,297.3 L95.5,296.7 L96.0,296.1 L96.5,295.5 L96.9,294.8 L97.4,294.2 L97.9,293.5 L98.3,292.8 L98.8,292.1 L99.2,291.5 L99.7,290.8 L100.2,290.1 L100.7,289.5 L101.2,288.9 L101.7,288.2 L102.1,287.5 L102.6,286.8 L103.1,286.1 L103.6,285.5 L104.1,284.8 L104.6,284.1 L105.1,283.5 L105.6,283.0 L106.1,282.5 L106.6,282.0 L107.1,281.6 L107.5,281.3 L108.0,281.1 L108.5,281.0 L109.0,281.0 L109.5,281.0 L109.9,281.2 L110.4,281.4 L110.8,281.6 L111.2,281.9 L111.7,282.3 L112.1,282.6 L112.6,283.0 L113.0,283.3 L113.5,283.7 L114.0,284.0 L114.4,284.3 L114.8,284.6 L115.2,285.0 L115.6,285.4 L116.0,285.9 L116.4,286.3 L116.8,286.8 L117.2,287.2 L117.7,287.6 L118.1,288.0 L118.6,288.3 L119.2,288.6 L119.7,288.8 L120.3,288.9 L121.0,289.0 L121.4,289.0 L121.8,289.0 L122.2,288.9 L122.6,288.9 L123.0,288.8 L123.4,288.7 L123.9,288.6 L124.4,288.5 L124.8,288.3 L125.3,288.2 L125.8,288.0 L126.3,287.8 L126.8,287.7 L127.3,287.5 L127.8,287.3 L128.3,287.1 L128.8,286.9 L129.3,286.6 L129.9,286.4 L130.4,286.2 L130.9,286.0 L131.4,285.8 L131.9,285.5 L132.5,285.3 L133.0,285.1 L133.5,284.9 L134.0,284.7 L134.5,284.5 L135.0,284.3 L135.4,284.1 L135.9,283.9 L136.4,283.7 L136.9,283.5 L137.4,283.3 L137.8,283.1 L138.3,282.9 L138.8,282.7 L139.3,282.4 L139.8,282.2 L140.3,282.0 L140.8,281.8 L141.2,281.5 L141.7,281.3 L142.2,281.1 L142.7,280.8 L143.2,280.6 L143.7,280.4 L144.2,280.2 L144.7,279.9 L145.2,279.7 L145.7,279.5 L146.2,279.3 L146.7,279.0 L147.1,278.8 L147.6,278.6 L148.1,278.4 L148.6,278.2 L149.1,278.0 L149.6,277.8 L150.1,277.6 L150.6,277.4 L151.0,277.2 L151.5,277.1 L152.0,276.9 L152.5,276.7 L153.0,276.5 L153.5,276.3 L153.9,276.2 L154.4,276.0 L154.9,275.8 L155.4,275.6 L155.9,275.5 L156.3,275.3 L156.8,275.1 L157.3,275.0 L157.8,274.8 L158.3,274.6 L158.8,274.5 L159.2,274.3 L159.7,274.1 L160.2,273.9 L160.7,273.8 L161.2,273.6 L161.7,273.4 L162.1,273.2 L162.6,273.1 L163.1,272.9 L163.6,272.7 L164.1,272.5 L164.6,272.3 L165.1,272.1 L165.6,272.0 L166.1,271.8 L166.6,271.6 L167.2,271.4 L167.7,271.2 L168.2,271.0 L168.7,270.8 L169.3,270.7 L169.8,270.5 L170.3,270.3 L170.9,270.1 L171.4,269.9 L171.9,269.7 L172.4,269.5 L172.9,269.3 L173.4,269.1 L173.9,268.9 L174.4,268.7 L174.9,268.5 L175.3,268.3 L175.8,268.1 L176.2,267.9 L176.6,267.7 L177.1,267.5 L177.5,267.3 L177.8,267.1 L178.2,266.9 L178.9,266.5 L179.6,266.0 L180.2,265.6 L180.8,265.2 L181.3,264.7 L181.7,264.3 L182.2,263.8 L182.6,263.4 L183.0,262.9 L183.4,262.4 L183.8,261.8 L184.2,261.3 L184.6,260.7 L185.0,260.0 L185.5,259.1 L186.0,258.2 L186.4,257.3 L186.8,256.3 L187.2,255.3 L187.6,254.3 L188.0,253.1 L188.5,252.0 L189.0,250.7 L189.5,249.4 L190.2,248.0 L190.6,247.2 L191.0,246.4 L191.4,245.6 L191.9,244.8 L192.3,243.9 L192.8,243.0 L193.3,242.1 L193.8,241.1 L194.4,240.2 L194.9,239.2 L195.4,238.2 L196.0,237.3 L196.5,236.3 L197.0,235.3 L197.6,234.3 L198.1,233.3 L198.6,232.3 L199.1,231.3 L199.6,230.3 L200.0,229.4 L200.5,228.4 L201.0,227.2 L201.6,226.0 L202.1,224.7 L202.6,223.4 L203.1,222.1 L203.6,220.7 L204.1,219.4 L204.6,218.1 L205.1,216.8 L205.6,215.5 L206.0,214.3 L206.5,213.1 L207.0,211.9 L207.4,210.8 L207.8,209.8 L208.3,208.9 L208.7,208.0 L209.2,207.0 L209.7,206.1 L210.2,205.4 L210.7,204.7 L211.1,204.2 L211.5,203.7 L212.0,203.2 L212.4,202.8 L212.8,202.4 L213.3,202.0 L213.8,201.6 L214.3,201.2 L214.8,200.7 L215.2,200.3 L215.7,200.0 L216.2,199.6 L216.7,199.3 L217.2,198.9 L217.7,198.6 L218.2,198.3 L218.8,198.0 L219.3,197.7 L219.8,197.4 L220.3,197.0 L220.8,196.7 L221.3,196.4 L221.8,196.1 L222.2,195.7 L222.6,195.4 L223.0,195.0 L223.6,194.3 L224.2,193.6 L224.6,193.0 L225.0,192.3 L225.4,191.5 L225.8,190.8 L226.1,189.9 L226.5,189.0 L227.0,188.0 L227.4,187.0 L227.9,185.9 L228.4,184.8 L228.9,183.7 L229.3,182.4 L229.8,181.2 L230.3,179.9 L230.8,178.5 L231.2,177.2 L231.7,175.8 L232.2,174.2 L232.6,172.7 L233.1,171.1 L233.5,169.4 L233.9,167.7 L234.4,165.9 L234.9,164.1 L235.4,162.3 L235.9,160.3 L236.3,158.9 L236.7,157.4 L237.2,156.0 L237.7,154.4 L238.1,152.9 L238.6,151.3 L239.1,149.7 L239.6,148.1 L240.1,146.5 L240.6,144.8 L241.0,143.2 L241.5,141.6 L241.9,140.0 L242.5,137.7 L243.0,135.5 L243.4,133.4 L243.9,131.2 L244.3,128.9 L244.8,126.6 L245.3,124.2 L245.8,121.6 L246.3,118.9 L246.7,116.7 L247.2,114.3 L247.6,111.8 L248.1,109.2 L248.6,106.5 L249.1,103.8 L249.6,101.1 L250.1,98.5 L250.5,95.9 L251.0,93.4 L251.5,91.1 L251.9,88.9 L252.4,86.4 L252.9,84.1 L253.3,81.8 L253.8,79.6 L254.3,77.6 L254.7,75.6 L255.2,73.8 L255.6,72.0 L256.1,70.4 L256.6,68.9 L257.0,67.6 L257.5,66.4 L258.0,65.3 L258.4,64.1 L258.9,63.1 L259.4,62.1 L259.9,61.2 L260.4,60.4 L260.8,59.8 L261.3,59.3 L261.8,59.0 L262.2,58.8 L262.7,58.9 L263.2,59.3 L263.7,60.0 L264.2,60.9 L264.7,61.9 L265.1,63.0 L265.6,64.2 L266.1,65.5 L266.5,66.7 L267.0,67.7 L267.5,68.8 L267.9,69.8 L268.3,70.7 L268.7,71.8 L269.1,72.9 L269.5,74.0 L270.0,75.3 L270.4,76.7 L270.9,78.3 L271.5,80.1 L271.9,81.5 L272.3,82.9 L272.8,84.4 L273.2,86.1 L273.7,87.8 L274.2,89.5 L274.7,91.3 L275.1,93.2 L275.6,95.1 L276.2,96.9 L276.7,98.8 L277.2,100.7 L277.6,102.5 L278.1,104.3 L278.6,106.0 L279.1,107.8 L279.6,109.7 L280.1,111.7 L280.6,113.6 L281.1,115.6 L281.6,117.5 L282.1,119.4 L282.6,121.3 L283.1,123.1 L283.5,124.9 L284.0,126.6 L284.5,128.1 L285.0,129.6 L285.5,131.0 L286.0,132.3 L286.5,133.4 L286.9,134.5 L287.4,135.5 L287.9,136.4 L288.3,137.2 L288.8,138.0 L289.3,138.7 L289.8,139.4 L290.3,140.1 L290.8,140.7 L291.3,141.3 L291.8,141.9 L292.3,142.5 L292.7,143.0 L293.2,143.4 L293.7,143.9 L294.1,144.3 L294.6,144.7 L295.1,145.0 L295.6,145.4 L296.1,145.7 L296.6,146.0 L297.1,146.3 L297.6,146.5 L298.1,146.7 L298.5,146.9 L299.0,147.1 L299.5,147.3 L300.0,147.4 L300.5,147.5 L301.0,147.6 L301.5,147.6 L301.9,147.6 L302.4,147.6 L302.9,147.5 L303.4,147.4 L303.8,147.3 L304.3,147.2 L304.8,147.0 L305.3,146.9 L305.7,146.7 L306.2,146.5 L306.7,146.3 L307.2,146.1 L307.6,145.9 L308.1,145.7 L308.6,145.5 L309.1,145.3 L309.6,145.1 L310.1,144.8 L310.6,144.6 L311.0,144.3 L311.5,144.0 L312.0,143.8 L312.5,143.5 L313.0,143.2 L313.5,142.9 L314.0,142.6 L314.5,142.3 L315.0,142.0 L315.4,141.6 L315.9,141.3 L316.4,141.0 L316.8,140.7 L317.3,140.3 L317.9,139.9 L318.5,139.4 L319.0,139.0 L319.6,138.5 L320.2,138.0 L320.7,137.5 L321.2,137.1 L321.7,136.7 L322.2,136.2 L322.6,135.9 L323.0,135.5 L323.3,135.2 L323.6,135.0" fill="none" stroke="#c08890" stroke-width="1.6" stroke-linejoin="round"/>
<path d="M30.5,313.5 L30.8,313.5 L31.0,313.5 L31.3,313.5 L31.7,313.5 L32.0,313.5 L32.4,313.5 L32.8,313.5 L33.2,313.5 L33.6,313.5 L34.1,313.4 L34.5,313.4 L35.0,313.4 L35.5,313.4 L36.0,313.4 L36.5,313.4 L37.0,313.4 L37.6,313.4 L38.1,313.4 L38.7,313.4 L39.2,313.4 L39.8,313.4 L40.4,313.4 L41.0,313.4 L41.5,313.4 L42.1,313.3 L42.7,313.3 L43.3,313.3 L43.9,313.3 L44.5,313.3 L45.1,313.3 L45.7,313.3 L46.2,313.3 L46.8,313.3 L47.4,313.3 L47.9,313.2 L48.5,313.2 L49.0,313.2 L49.6,313.2 L50.1,313.2 L50.6,313.2 L51.1,313.2 L51.6,313.1 L52.1,313.1 L52.6,313.1 L53.0,313.1 L53.5,313.1 L53.9,313.1 L54.3,313.0 L54.6,313.0 L55.0,313.0 L55.8,313.0 L56.5,312.9 L57.2,312.9 L57.8,312.8 L58.4,312.8 L58.9,312.7 L59.4,312.7 L59.9,312.6 L60.3,312.6 L60.7,312.5 L61.1,312.5 L61.5,312.4 L61.8,312.3 L62.2,312.3 L62.6,312.2 L62.9,312.1 L63.3,312.0 L63.7,311.9 L64.1,311.8 L64.5,311.6 L65.0,311.5 L65.5,311.4 L65.9,311.2 L66.4,311.0 L66.9,310.9 L67.4,310.7 L67.8,310.5 L68.3,310.3 L68.8,310.1 L69.2,309.9 L69.7,309.7 L70.2,309.5 L70.6,309.3 L71.1,309.0 L71.6,308.8 L72.1,308.6 L72.5,308.3 L73.0,308.1 L73.5,307.8 L74.0,307.5 L74.5,307.3 L75.0,307.0 L75.5,306.7 L75.9,306.5 L76.4,306.2 L76.9,305.9 L77.4,305.6 L77.9,305.3 L78.4,305.0 L78.9,304.7 L79.4,304.3 L79.9,304.0 L80.4,303.7 L80.9,303.3 L81.4,303.0 L81.9,302.7 L82.4,302.3 L82.8,302.0 L83.3,301.7 L83.8,301.4 L84.3,301.1 L84.7,300.8 L85.1,300.5 L85.6,300.3 L86.0,300.0 L86.6,299.7 L87.1,299.4 L87.6,299.1 L88.1,298.8 L88.6,298.6 L89.1,298.3 L89.6,298.1 L90.0,297.9 L90.5,297.6 L90.9,297.4 L91.4,297.2 L91.8,296.9 L92.3,296.7 L92.7,296.4 L93.1,296.1 L93.6,295.8 L94.0,295.5 L94.5,295.1 L95.0,294.6 L95.5,294.1 L96.0,293.6 L96.5,293.1 L96.9,292.6 L97.4,292.1 L97.9,291.5 L98.3,291.0 L98.8,290.4 L99.2,289.9 L99.7,289.4 L100.2,288.8 L100.7,288.3 L101.2,287.8 L101.7,287.3 L102.1,286.7 L102.6,286.1 L103.1,285.5 L103.6,284.9 L104.1,284.3 L104.6,283.7 L105.1,283.2 L105.6,282.7 L106.1,282.2 L106.6,281.8 L107.1,281.5 L107.5,281.2 L108.0,281.0 L108.5,280.9 L109.0,280.9 L109.5,280.9 L109.9,281.1 L110.4,281.3 L110.8,281.6 L111.2,281.9 L111.7,282.2 L112.1,282.6 L112.6,283.0 L113.0,283.3 L113.5,283.7 L114.0,284.0 L114.4,284.3 L114.8,284.6 L115.2,285.0 L115.6,285.4 L116.0,285.9 L116.4,286.3 L116.8,286.8 L117.2,287.2 L117.7,287.6 L118.1,288.0 L118.6,288.3 L119.2,288.6 L119.7,288.8 L120.3,288.9 L121.0,289.0 L121.4,289.0 L121.8,289.0 L122.2,288.9 L122.6,288.9 L123.0,288.8 L123.4,288.7 L123.9,288.6 L124.4,288.5 L124.8,288.3 L125.3,288.2 L125.8,288.0 L126.3,287.8 L126.8,287.7 L127.3,287.5 L127.8,287.3 L128.3,287.1 L128.8,286.9 L129.3,286.6 L129.9,286.4 L130.4,286.2 L130.9,286.0 L131.4,285.8 L131.9,285.5 L132.5,285.3 L133.0,285.1 L133.5,284.9 L134.0,284.7 L134.5,284.5 L135.0,284.3 L135.4,284.1 L135.9,283.9 L136.4,283.7 L136.9,283.5 L137.4,283.3 L137.8,283.1 L138.3,282.9 L138.8,282.7 L139.3,282.4 L139.8,282.2 L140.3,282.0 L140.8,281.8 L141.2,281.5 L141.7,281.3 L142.2,281.1 L142.7,280.8 L143.2,280.6 L143.7,280.4 L144.2,280.2 L144.7,279.9 L145.2,279.7 L145.7,279.5 L146.2,279.3 L146.7,279.0 L147.1,278.8 L147.6,278.6 L148.1,278.4 L148.6,278.2 L149.1,278.0 L149.6,277.8 L150.1,277.6 L150.6,277.4 L151.0,277.2 L151.5,277.1 L152.0,276.9 L152.5,276.7 L153.0,276.5 L153.5,276.3 L153.9,276.2 L154.4,276.0 L154.9,275.8 L155.4,275.6 L155.9,275.5 L156.3,275.3 L156.8,275.1 L157.3,275.0 L157.8,274.8 L158.3,274.6 L158.8,274.5 L159.2,274.3 L159.7,274.1 L160.2,273.9 L160.7,273.8 L161.2,273.6 L161.7,273.4 L162.1,273.2 L162.6,273.1 L163.1,272.9 L163.6,272.7 L164.1,272.5 L164.6,272.3 L165.1,272.1 L165.6,272.0 L166.1,271.8 L166.6,271.6 L167.2,271.4 L167.7,271.2 L168.2,271.0 L168.7,270.8 L169.3,270.7 L169.8,270.5 L170.3,270.3 L170.9,270.1 L171.4,269.9 L171.9,269.7 L172.4,269.5 L172.9,269.3 L173.4,269.1 L173.9,268.9 L174.4,268.7 L174.9,268.5 L175.3,268.3 L175.8,268.1 L176.2,267.9 L176.6,267.7 L177.1,267.5 L177.5,267.3 L177.8,267.1 L178.2,266.9 L178.9,266.5 L179.6,266.0 L180.2,265.6 L180.8,265.2 L181.3,264.7 L181.7,264.3 L182.2,263.8 L182.6,263.4 L183.0,262.9 L183.4,262.4 L183.8,261.8 L184.2,261.3 L184.6,260.7 L185.0,260.0 L185.5,259.1 L186.0,258.2 L186.4,257.3 L186.8,256.3 L187.2,255.3 L187.6,254.3 L188.0,253.1 L188.5,252.0 L189.0,250.7 L189.5,249.4 L190.2,248.0 L190.6,247.2 L191.0,246.4 L191.4,245.6 L191.9,244.8 L192.3,243.9 L192.8,243.0 L193.3,242.1 L193.8,241.1 L194.4,240.2 L194.9,239.2 L195.4,238.2 L196.0,237.3 L196.5,236.3 L197.0,235.3 L197.6,234.3 L198.1,233.3 L198.6,232.3 L199.1,231.3 L199.6,230.3 L200.0,229.4 L200.5,228.4 L201.0,227.2 L201.6,226.0 L202.1,224.7 L202.6,223.4 L203.1,222.1 L203.6,220.7 L204.1,219.4 L204.6,218.1 L205.1,216.8 L205.6,215.5 L206.0,214.3 L206.5,213.1 L207.0,211.9 L207.4,210.8 L207.8,209.8 L208.3,208.9 L208.7,208.0 L209.2,207.0 L209.7,206.1 L210.2,205.4 L210.7,204.7 L211.1,204.2 L211.5,203.7 L212.0,203.2 L212.4,202.8 L212.8,202.4 L213.3,202.0 L213.8,201.6 L214.3,201.2 L214.8,200.7 L215.2,200.3 L215.7,200.0 L216.2,199.6 L216.7,199.3 L217.2,198.9 L217.7,198.6 L218.2,198.3 L218.8,198.0 L219.3,197.7 L219.8,197.4 L220.3,197.0 L220.8,196.7 L221.3,196.4 L221.8,196.1 L222.2,195.7 L222.6,195.4 L223.0,195.0 L223.6,194.3 L224.2,193.6 L224.6,193.0 L225.0,192.3 L225.4,191.5 L225.8,190.8 L226.1,189.9 L226.5,189.0 L227.0,188.0 L227.4,187.0 L227.9,185.9 L228.4,184.8 L228.9,183.7 L229.3,182.4 L229.8,181.2 L230.3,179.9 L230.8,178.5 L231.2,177.2 L231.7,175.8 L232.2,174.2 L232.6,172.7 L233.1,171.1 L233.5,169.4 L233.9,167.7 L234.4,165.9 L234.9,164.1 L235.4,162.3 L235.9,160.3 L236.3,158.9 L236.7,157.4 L237.2,156.0 L237.7,154.4 L238.1,152.9 L238.6,151.3 L239.1,149.7 L239.6,148.1 L240.1,146.5 L240.6,144.8 L241.0,143.2 L241.5,141.6 L241.9,140.0 L242.5,137.7 L243.0,135.5 L243.4,133.4 L243.9,131.2 L244.3,128.9 L244.8,126.6 L245.3,124.2 L245.8,121.7 L246.3,118.9 L246.7,116.7 L247.2,114.3 L247.6,111.8 L248.1,109.2 L248.6,106.6 L249.1,103.9 L249.6,101.2 L250.1,98.6 L250.5,96.0 L251.0,93.6 L251.5,91.2 L251.9,89.0 L252.4,86.6 L252.9,84.2 L253.3,82.0 L253.8,79.8 L254.3,77.8 L254.7,75.8 L255.2,73.9 L255.6,72.2 L256.1,70.5 L256.6,69.0 L257.0,67.7 L257.5,66.5 L258.0,65.2 L258.4,64.1 L258.9,63.0 L259.4,61.9 L259.9,61.0 L260.4,60.2 L260.8,59.5 L261.3,59.0 L261.8,58.7 L262.2,58.5 L262.7,58.6 L263.2,59.0 L263.7,59.7 L264.2,60.7 L264.7,61.7 L265.1,62.9 L265.6,64.2 L266.1,65.4 L266.5,66.7 L267.0,67.8 L267.5,68.9 L267.9,69.9 L268.3,70.9 L268.7,71.9 L269.1,73.0 L269.5,74.2 L270.0,75.5 L270.4,76.9 L270.9,78.5 L271.5,80.3 L271.9,81.6 L272.3,83.1 L272.8,84.6 L273.2,86.2 L273.7,87.9 L274.2,89.6 L274.7,91.4 L275.1,93.3 L275.6,95.1 L276.2,97.0 L276.7,98.8 L277.2,100.7 L277.6,102.5 L278.1,104.3 L278.6,106.0 L279.1,107.9 L279.6,109.8 L280.1,111.7 L280.6,113.6 L281.1,115.6 L281.6,117.5 L282.1,119.4 L282.6,121.3 L283.1,123.1 L283.5,124.9 L284.0,126.6 L284.5,128.1 L285.0,129.6 L285.5,131.0 L286.0,132.3 L286.5,133.4 L286.9,134.5 L287.4,135.5 L287.9,136.4 L288.3,137.2 L288.8,138.0 L289.3,138.7 L289.8,139.4 L290.3,140.1 L290.8,140.7 L291.3,141.3 L291.8,141.9 L292.3,142.5 L292.7,143.0 L293.2,143.4 L293.7,143.9 L294.1,144.3 L294.6,144.7 L295.1,145.0 L295.6,145.4 L296.1,145.7 L296.6,146.0 L297.1,146.3 L297.6,146.5 L298.1,146.7 L298.5,146.9 L299.0,147.1 L299.5,147.3 L300.0,147.4 L300.5,147.5 L301.0,147.6 L301.5,147.6 L301.9,147.6 L302.4,147.6 L302.9,147.5 L303.4,147.4 L303.8,147.3 L304.3,147.2 L304.8,147.0 L305.3,146.9 L305.7,146.7 L306.2,146.5 L306.7,146.3 L307.2,146.1 L307.6,145.9 L308.1,145.7 L308.6,145.5 L309.1,145.3 L309.6,145.1 L310.1,144.8 L310.6,144.6 L311.0,144.3 L311.5,144.0 L312.0,143.8 L312.5,143.5 L313.0,143.2 L313.5,142.9 L314.0,142.6 L314.5,142.3 L315.0,142.0 L315.4,141.6 L315.9,141.3 L316.4,141.0 L316.8,140.7 L317.3,140.3 L317.9,139.9 L318.5,139.4 L319.0,139.0 L319.6,138.5 L320.2,138.0 L320.7,137.5 L321.2,137.1 L321.7,136.7 L322.2,136.2 L322.6,135.9 L323.0,135.5 L323.3,135.2 L323.6,135.0" fill="none" stroke="#e8799a" stroke-width="2.0" stroke-linejoin="round"/>
<path d="M30.5,313.5 L30.8,313.5 L31.0,313.5 L31.3,313.5 L31.7,313.5 L32.0,313.5 L32.4,313.5 L32.8,313.5 L33.2,313.5 L33.6,313.5 L34.1,313.4 L34.5,313.4 L35.0,313.4 L35.5,313.4 L36.0,313.4 L36.5,313.4 L37.0,313.4 L37.6,313.4 L38.1,313.4 L38.7,313.4 L39.2,313.4 L39.8,313.4 L40.4,313.4 L41.0,313.4 L41.5,313.4 L42.1,313.3 L42.7,313.3 L43.3,313.3 L43.9,313.3 L44.5,313.3 L45.1,313.3 L45.7,313.3 L46.2,313.3 L46.8,313.3 L47.4,313.3 L47.9,313.2 L48.5,313.2 L49.0,313.2 L49.6,313.2 L50.1,313.2 L50.6,313.2 L51.1,313.2 L51.6,313.1 L52.1,313.1 L52.6,313.1 L53.0,313.1 L53.5,313.1 L53.9,313.1 L54.3,313.0 L54.6,313.0 L55.0,313.0 L55.8,313.0 L56.5,312.9 L57.2,312.9 L57.8,312.8 L58.4,312.8 L58.9,312.7 L59.4,312.7 L59.9,312.6 L60.3,312.6 L60.7,312.5 L61.1,312.5 L61.5,312.4 L61.8,312.3 L62.2,312.3 L62.6,312.2 L62.9,312.1 L63.3,312.0 L63.7,311.9 L64.1,311.8 L64.5,311.6 L65.0,311.5 L65.5,311.4 L65.9,311.2 L66.4,311.0 L66.9,310.9 L67.4,310.7 L67.8,310.5 L68.3,310.3 L68.8,310.1 L69.2,309.9 L69.7,309.7 L70.2,309.5 L70.6,309.3 L71.1,309.0 L71.6,308.8 L72.1,308.6 L72.5,308.3 L73.0,308.1 L73.5,307.8 L74.0,307.5 L74.5,307.3 L75.0,307.0 L75.5,306.7 L75.9,306.5 L76.4,306.2 L76.9,305.9 L77.4,305.6 L77.9,305.3 L78.4,305.0 L78.9,304.7 L79.4,304.3 L79.9,304.0 L80.4,303.7 L80.9,303.3 L81.4,303.0 L81.9,302.7 L82.4,302.3 L82.8,302.0 L83.3,301.7 L83.8,301.4 L84.3,301.1 L84.7,300.8 L85.1,300.5 L85.6,300.3 L86.0,300.0 L86.6,299.7 L87.1,299.4 L87.6,299.1 L88.1,298.8 L88.6,298.6 L89.1,298.3 L89.6,298.1 L90.0,297.9 L90.5,297.6 L90.9,297.4 L91.4,297.2 L91.8,296.9 L92.3,296.7 L92.7,296.4 L93.1,296.1 L93.6,295.8 L94.0,295.5 L94.5,295.1 L95.0,294.6 L95.5,294.1 L96.0,293.6 L96.5,293.1 L96.9,292.6 L97.4,292.1 L97.9,291.5 L98.3,291.0 L98.8,290.4 L99.2,289.9 L99.7,289.4 L100.2,288.8 L100.7,288.3 L101.2,287.8 L101.7,287.3 L102.1,286.7 L102.6,286.1 L103.1,285.5 L103.6,284.9 L104.1,284.3 L104.6,283.7 L105.1,283.2 L105.6,282.7 L106.1,282.2 L106.6,281.8 L107.1,281.5 L107.5,281.2 L108.0,281.0 L108.5,280.9 L109.0,280.9 L109.5,280.9 L109.9,281.1 L110.4,281.3 L110.8,281.6 L111.2,281.9 L111.7,282.2 L112.1,282.6 L112.6,283.0 L113.0,283.3 L113.5,283.7 L114.0,284.0 L114.4,284.3 L114.8,284.6 L115.2,285.0 L115.6,285.4 L116.0,285.9 L116.4,286.3 L116.8,286.8 L117.2,287.2 L117.7,287.6 L118.1,288.0 L118.6,288.3 L119.2,288.6 L119.7,288.8 L120.3,288.9 L121.0,289.0 L121.4,289.0 L121.8,289.0 L122.2,288.9 L122.6,288.9 L123.0,288.8 L123.4,288.7 L123.9,288.6 L124.4,288.5 L124.8,288.3 L125.3,288.2 L125.8,288.0 L126.3,287.8 L126.8,287.7 L127.3,287.5 L127.8,287.3 L128.3,287.1 L128.8,286.9 L129.3,286.6 L129.9,286.4 L130.4,286.2 L130.9,286.0 L131.4,285.8 L131.9,285.5 L132.5,285.3 L133.0,285.1 L133.5,284.9 L134.0,284.7 L134.5,284.5 L135.0,284.3 L135.4,284.1 L135.9,283.9 L136.4,283.7 L136.9,283.5 L137.4,283.3 L137.8,283.1 L138.3,282.9 L138.8,282.7 L139.3,282.4 L139.8,282.2 L140.3,282.0 L140.8,281.8 L141.2,281.5 L141.7,281.3 L142.2,281.1 L142.7,280.8 L143.2,280.6 L143.7,280.4 L144.2,280.2 L144.7,279.9 L145.2,279.7 L145.7,279.5 L146.2,279.3 L146.7,279.0 L147.1,278.8 L147.6,278.6 L148.1,278.4 L148.6,278.2 L149.1,278.0 L149.6,277.8 L150.1,277.6 L150.6,277.4 L151.0,277.2 L151.5,277.1 L152.0,276.9 L152.5,276.7 L153.0,276.5 L153.5,276.3 L153.9,276.2 L154.4,276.0 L154.9,275.8 L155.4,275.6 L155.9,275.5 L156.3,275.3 L156.8,275.1 L157.3,275.0 L157.8,274.8 L158.3,274.6 L158.8,274.5 L159.2,274.3 L159.7,274.1 L160.2,273.9 L160.7,273.8 L161.2,273.6 L161.7,273.4 L162.1,273.2 L162.6,273.1 L163.1,272.9 L163.6,272.7 L164.1,272.5 L164.6,272.3 L165.1,272.1 L165.6,272.0 L166.1,271.8 L166.6,271.6 L167.2,271.4 L167.7,271.2 L168.2,271.0 L168.7,270.8 L169.3,270.7 L169.8,270.5 L170.3,270.3 L170.9,270.1 L171.4,269.9 L171.9,269.7 L172.4,269.5 L172.9,269.3 L173.4,269.1 L173.9,268.9 L174.4,268.7 L174.9,268.5 L175.3,268.3 L175.8,268.1 L176.2,267.9 L176.6,267.7 L177.1,267.5 L177.5,267.3 L177.8,267.1 L178.2,266.9 L178.9,266.5 L179.6,266.0 L180.2,265.6 L180.8,265.2 L181.3,264.7 L181.7,264.3 L182.2,263.8 L182.6,263.4 L183.0,262.9 L183.4,262.4 L183.8,261.8 L184.2,261.3 L184.6,260.7 L185.0,260.0 L185.5,259.1 L186.0,258.2 L186.4,257.3 L186.8,256.3 L187.2,255.3 L187.6,254.3 L188.0,253.1 L188.5,252.0 L189.0,250.7 L189.5,249.4 L190.2,248.0 L190.6,247.2 L191.0,246.4 L191.4,245.6 L191.9,244.8 L192.3,243.9 L192.8,243.0 L193.3,242.1 L193.8,241.1 L194.4,240.2 L194.9,239.2 L195.4,238.2 L196.0,237.3 L196.5,236.3 L197.0,235.3 L197.6,234.3 L198.1,233.3 L198.6,232.3 L199.1,231.3 L199.6,230.3 L200.0,229.4 L200.5,228.4 L201.0,227.2 L201.6,226.0 L202.1,224.7 L202.6,223.4 L203.1,222.1 L203.6,220.7 L204.1,219.4 L204.6,218.1 L205.1,216.8 L205.6,215.5 L206.0,214.3 L206.5,213.1 L207.0,211.9 L207.4,210.8 L207.8,209.8 L208.3,208.9 L208.7,208.0 L209.2,207.0 L209.7,206.1 L210.2,205.4 L210.7,204.7 L211.1,204.2 L211.5,203.7 L212.0,203.2 L212.4,202.8 L212.8,202.4 L213.3,202.0 L213.8,201.6 L214.3,201.2 L214.8,200.7 L215.2,200.3 L215.7,200.0 L216.2,199.6 L216.7,199.3 L217.2,198.9 L217.7,198.6 L218.2,198.3 L218.8,198.0 L219.3,197.7 L219.8,197.4 L220.3,197.0 L220.8,196.7 L221.3,196.4 L221.8,196.1 L222.2,195.7 L222.6,195.4 L223.0,195.0 L223.6,194.3 L224.2,193.6 L224.6,193.0 L225.0,192.3 L225.4,191.5 L225.8,190.8 L226.1,189.9 L226.5,189.0 L227.0,188.0 L227.4,187.0 L227.9,185.9 L228.4,184.8 L228.9,183.7 L229.3,182.4 L229.8,181.2 L230.3,179.9 L230.8,178.5 L231.2,177.2 L231.7,175.8 L232.2,174.2 L232.6,172.7 L233.1,171.1 L233.5,169.4 L233.9,167.7 L234.4,165.9 L234.9,164.1 L235.4,162.3 L235.9,160.3 L236.3,158.9 L236.7,157.4 L237.2,156.0 L237.7,154.4 L238.1,152.9 L238.6,151.3 L239.1,149.7 L239.6,148.1 L240.1,146.5 L240.6,144.8 L241.0,143.2 L241.5,141.6 L241.9,140.0 L242.5,137.7 L243.0,135.5 L243.4,133.4 L243.9,131.2 L244.3,128.9 L244.8,126.6 L245.3,124.2 L245.8,121.6 L246.3,118.9 L246.7,116.7 L247.2,114.3 L247.6,111.8 L248.1,109.2 L248.6,106.5 L249.1,103.8 L249.6,101.1 L250.1,98.5 L250.5,95.9 L251.0,93.4 L251.5,91.0 L251.9,88.8 L252.4,86.3 L252.9,83.9 L253.3,81.6 L253.8,79.4 L254.3,77.3 L254.7,75.3 L255.2,73.4 L255.6,71.5 L256.1,69.8 L256.6,68.2 L257.0,66.9 L257.5,65.6 L258.0,64.3 L258.4,63.1 L258.9,61.9 L259.4,60.9 L259.9,59.9 L260.4,59.0 L260.8,58.3 L261.3,57.8 L261.8,57.5 L262.2,57.3 L262.7,57.4 L263.2,57.9 L263.7,58.6 L264.2,59.5 L264.7,60.7 L265.1,61.9 L265.6,63.2 L266.1,64.5 L266.5,65.8 L267.0,67.0 L267.5,68.1 L267.9,69.2 L268.3,70.2 L268.7,71.3 L269.1,72.5 L269.5,73.7 L270.0,75.0 L270.4,76.5 L270.9,78.2 L271.5,80.0 L271.9,81.4 L272.3,82.8 L272.8,84.4 L273.2,86.0 L273.7,87.7 L274.2,89.5 L274.7,91.3 L275.1,93.2 L275.6,95.0 L276.2,96.9 L276.7,98.8 L277.2,100.7 L277.6,102.5 L278.1,104.3 L278.6,106.0 L279.1,107.8 L279.6,109.7 L280.1,111.7 L280.6,113.6 L281.1,115.6 L281.6,117.5 L282.1,119.4 L282.6,121.3 L283.1,123.1 L283.5,124.9 L284.0,126.6 L284.5,128.1 L285.0,129.6 L285.5,131.0 L286.0,132.3 L286.5,133.4 L286.9,134.5 L287.4,135.5 L287.9,136.4 L288.3,137.2 L288.8,138.0 L289.3,138.7 L289.8,139.4 L290.3,140.1 L290.8,140.7 L291.3,141.3 L291.8,141.9 L292.3,142.5 L292.7,143.0 L293.2,143.4 L293.7,143.9 L294.1,144.3 L294.6,144.7 L295.1,145.0 L295.6,145.4 L296.1,145.7 L296.6,146.0 L297.1,146.3 L297.6,146.5 L298.1,146.7 L298.5,146.9 L299.0,147.1 L299.5,147.3 L300.0,147.4 L300.5,147.5 L301.0,147.6 L301.5,147.6 L301.9,147.6 L302.4,147.6 L302.9,147.5 L303.4,147.4 L303.8,147.3 L304.3,147.2 L304.8,147.0 L305.3,146.9 L305.7,146.7 L306.2,146.5 L306.7,146.3 L307.2,146.1 L307.6,145.9 L308.1,145.7 L308.6,145.5 L309.1,145.3 L309.6,145.1 L310.1,144.8 L310.6,144.6 L311.0,144.3 L311.5,144.0 L312.0,143.8 L312.5,143.5 L313.0,143.2 L313.5,142.9 L314.0,142.6 L314.5,142.3 L315.0,142.0 L315.4,141.6 L315.9,141.3 L316.4,141.0 L316.8,140.7 L317.3,140.3 L317.9,139.9 L318.5,139.4 L319.0,139.0 L319.6,138.5 L320.2,138.0 L320.7,137.5 L321.2,137.1 L321.7,136.7 L322.2,136.2 L322.6,135.9 L323.0,135.5 L323.3,135.2 L323.6,135.0" fill="none" stroke="#d42e4e" stroke-width="1.4" stroke-linejoin="round"/>
<path d="M30.5,313.5 C37.2,313.4 62.8,313.5 71.0,313.0 C79.2,312.5 77.2,311.7 80.0,310.5 C82.8,309.3 85.5,307.0 88.0,306.0 C90.5,305.0 93.0,305.3 95.0,304.5 C97.0,303.7 98.2,302.8 100.0,301.0 C101.8,299.2 103.9,295.8 106.0,294.0 C108.1,292.2 110.1,290.6 112.4,290.5 C114.7,290.4 117.2,292.3 120.0,293.5 C122.8,294.7 125.7,297.8 129.0,297.5 C132.3,297.2 136.7,293.7 140.0,292.0 C143.3,290.3 145.2,288.6 149.1,287.3 C153.0,286.0 158.3,285.2 163.6,284.4 C168.9,283.5 176.7,283.6 181.1,282.2 C185.5,280.8 187.7,278.4 190.2,276.0 C192.7,273.6 194.1,271.3 196.0,268.0 C197.9,264.7 199.7,261.7 201.8,256.0 C203.9,250.3 206.5,240.3 208.7,234.0 C210.9,227.7 212.4,221.7 214.8,218.0 C217.2,214.3 220.3,213.5 223.0,212.0 C225.7,210.5 228.8,211.2 231.2,208.9 C233.5,206.7 235.4,202.8 237.1,198.5 C238.8,194.2 239.9,188.8 241.3,183.0 C242.7,177.2 244.1,170.2 245.4,163.9 C246.7,157.6 247.4,154.7 249.1,145.0 C250.8,135.3 253.7,118.8 255.7,105.7 C257.7,92.6 259.4,76.6 261.3,66.3 C263.2,56.0 265.0,45.7 266.9,43.8 C268.8,41.9 270.9,49.1 272.6,55.0 C274.3,60.9 275.6,70.5 277.3,79.0 C279.0,87.5 280.7,98.1 282.7,106.0 C284.7,113.9 287.0,121.0 289.5,126.5 C292.0,132.0 295.0,136.0 297.7,139.0 C300.4,142.0 303.4,143.6 305.9,144.3 C308.4,145.0 309.8,144.8 312.7,143.4 C315.6,142.0 321.8,137.2 323.6,135.9" fill="none" stroke="#3d3d3d" stroke-width="1.2"/>
<path d="M30.5,313.0 C33.2,312.6 42.9,311.8 46.8,310.5 C50.7,309.2 51.1,309.1 53.7,305.4 C56.3,301.7 59.8,295.9 62.2,288.3 C64.6,280.7 66.7,266.4 68.2,260.0 C69.7,253.6 70.2,252.4 71.2,250.0 C72.2,247.6 73.0,245.8 74.1,245.6 C75.2,245.4 76.3,246.4 78.0,249.0 C79.7,251.6 81.9,257.8 84.0,261.0 C86.1,264.2 87.8,267.8 90.5,268.0 C93.2,268.2 96.4,265.0 100.0,262.0 C103.6,259.0 108.1,253.2 112.0,250.0 C115.9,246.8 120.0,245.2 123.3,242.5 C126.6,239.8 127.6,238.7 132.0,234.0 C136.4,229.3 144.8,220.2 149.5,214.4 C154.2,208.6 156.1,204.6 160.0,199.0 C163.9,193.4 168.7,186.3 172.7,181.0 C176.7,175.7 180.1,171.1 184.0,167.0 C187.9,162.9 190.6,159.4 196.0,156.2 C201.4,152.9 210.1,149.7 216.4,147.5 C222.7,145.3 228.0,144.0 233.8,143.1 C239.6,142.2 246.1,141.4 251.3,141.8 C256.5,142.2 259.3,144.1 265.0,145.5 C270.7,146.9 279.5,149.2 285.5,150.2 C291.5,151.1 294.4,151.0 300.8,151.2 C307.2,151.4 319.8,151.5 323.6,151.6" fill="none" stroke="#505050" stroke-width="1" stroke-dasharray="1.4,1"/>
<path d="M30.5,316.0 H30.5 V27.0" fill="none" stroke="#8a8a8a" stroke-width="1.4"/>
<path d="M30.5,27.0 H323.6 V316.0 H30.5 Z" fill="none" stroke="#7a7a7a" stroke-width="1.3"/>
<line x1="30.5" y1="316.0" x2="30.5" y2="319.5" stroke="#555" stroke-width="1"/>
<text x="31.1" y="337" font-size="14" text-anchor="middle" font-family="Liberation Sans, sans-serif" fill="#222" stroke="#222" stroke-width="0.25">4960</text>
<line x1="128.2" y1="316.0" x2="128.2" y2="319.5" stroke="#555" stroke-width="1"/>
<text x="128.8" y="337" font-size="14" text-anchor="middle" font-family="Liberation Sans, sans-serif" fill="#222" stroke="#222" stroke-width="0.25">4970</text>
<line x1="225.9" y1="316.0" x2="225.9" y2="319.5" stroke="#555" stroke-width="1"/>
<text x="226.5" y="337" font-size="14" text-anchor="middle" font-family="Liberation Sans, sans-serif" fill="#222" stroke="#222" stroke-width="0.25">4980</text>
<line x1="323.6" y1="316.0" x2="323.6" y2="319.5" stroke="#555" stroke-width="1"/>
<text x="324.2" y="337" font-size="14" text-anchor="middle" font-family="Liberation Sans, sans-serif" fill="#222" stroke="#222" stroke-width="0.25">4990</text>
<text x="177.5" y="354" font-size="17" text-anchor="middle" font-family="Liberation Sans, sans-serif" fill="#1a1a1a" stroke="#1a1a1a" stroke-width="0.25">Energy / eV</text>
<text transform="translate(24,182) rotate(-90)" font-size="16.3" text-anchor="middle" font-family="Liberation Sans, sans-serif" fill="#1a1a1a" xml:space="preserve" stroke="#1a1a1a" stroke-width="0.25">Normalized  absorption</text>
<line x1="38.5" y1="50.3" x2="59.2" y2="50.3" stroke="#555" stroke-width="1" stroke-dasharray="1.4,1"/>
<text x="63.8" y="54.1" font-size="12.2" font-family="Liberation Sans, sans-serif" fill="#1a1a1a" stroke="#1a1a1a" stroke-width="0.25">Ti foil</text>
<line x1="38.5" y1="63.2" x2="59.2" y2="63.2" stroke="#5a4fb5" stroke-width="1.3"/>
<text x="63.8" y="67.0" font-size="12.2" font-family="Liberation Sans, sans-serif" fill="#1a1a1a" stroke="#1a1a1a" stroke-width="0.25">Fe/BaTiO<tspan font-size="8.5" dy="3.5">3-<tspan font-style="italic">x</tspan></tspan><tspan dy="-3.5">N</tspan><tspan font-size="8.5" dy="3.5" font-style="italic">y</tspan><tspan dy="-3.5">@25 ˚C</tspan></text>
<line x1="38.5" y1="76.2" x2="59.2" y2="76.2" stroke="#6c80ad" stroke-width="1.3"/>
<text x="63.8" y="80.0" font-size="12.2" font-family="Liberation Sans, sans-serif" fill="#1a1a1a" stroke="#1a1a1a" stroke-width="0.25">100 ˚C</text>
<line x1="38.5" y1="89.1" x2="59.2" y2="89.1" stroke="#a9acaa" stroke-width="1.3"/>
<text x="63.8" y="92.9" font-size="12.2" font-family="Liberation Sans, sans-serif" fill="#1a1a1a" stroke="#1a1a1a" stroke-width="0.25">200 ˚C</text>
<line x1="38.5" y1="102.0" x2="59.2" y2="102.0" stroke="#bdbdbd" stroke-width="1.3"/>
<text x="63.8" y="105.8" font-size="12.2" font-family="Liberation Sans, sans-serif" fill="#1a1a1a" stroke="#1a1a1a" stroke-width="0.25">300 ˚C</text>
<line x1="38.5" y1="115.0" x2="59.2" y2="115.0" stroke="#dcdcdc" stroke-width="1.3"/>
<text x="63.8" y="118.8" font-size="12.2" font-family="Liberation Sans, sans-serif" fill="#1a1a1a" stroke="#1a1a1a" stroke-width="0.25">400 ˚C for 1 min</text>
<line x1="38.5" y1="127.9" x2="59.2" y2="127.9" stroke="#e0c4cf" stroke-width="1.3"/>
<text x="63.8" y="131.7" font-size="12.2" font-family="Liberation Sans, sans-serif" fill="#1a1a1a" stroke="#1a1a1a" stroke-width="0.25">400 ˚C for 5 min</text>
<line x1="38.5" y1="140.8" x2="59.2" y2="140.8" stroke="#dcaabb" stroke-width="1.3"/>
<text x="63.8" y="144.6" font-size="12.2" font-family="Liberation Sans, sans-serif" fill="#1a1a1a" stroke="#1a1a1a" stroke-width="0.25">400 ˚C for 7 min</text>
<line x1="38.5" y1="153.7" x2="59.2" y2="153.7" stroke="#d49ab0" stroke-width="1.3"/>
<text x="63.8" y="157.5" font-size="12.2" font-family="Liberation Sans, sans-serif" fill="#1a1a1a" stroke="#1a1a1a" stroke-width="0.25">400 ˚C for 10 min</text>
<line x1="38.5" y1="166.7" x2="59.2" y2="166.7" stroke="#d4a8b4" stroke-width="1.3"/>
<text x="63.8" y="170.5" font-size="12.2" font-family="Liberation Sans, sans-serif" fill="#1a1a1a" stroke="#1a1a1a" stroke-width="0.25">600 ˚C for 2 min</text>
<line x1="38.5" y1="179.6" x2="59.2" y2="179.6" stroke="#c48a94" stroke-width="1.3"/>
<text x="63.8" y="183.4" font-size="12.2" font-family="Liberation Sans, sans-serif" fill="#1a1a1a" stroke="#1a1a1a" stroke-width="0.25">600 ˚C for 10 min</text>
<line x1="38.5" y1="192.5" x2="59.2" y2="192.5" stroke="#d93553" stroke-width="1.3"/>
<text x="63.8" y="196.3" font-size="12.2" font-family="Liberation Sans, sans-serif" fill="#1a1a1a" stroke="#1a1a1a" stroke-width="0.25">600 ˚C for 20 min</text>
<line x1="38.5" y1="205.5" x2="59.2" y2="205.5" stroke="#3d3d3d" stroke-width="1.3"/>
<text x="63.8" y="209.3" font-size="12.2" font-family="Liberation Sans, sans-serif" fill="#1a1a1a" stroke="#1a1a1a" stroke-width="0.25">Fe/BaTiO<tspan font-size="8.5" dy="3.5">3-<tspan font-style="italic">x</tspan></tspan></text>
<text x="330.6" y="19" font-size="18.6" font-family="Liberation Sans, sans-serif" fill="#222" stroke="#222" stroke-width="0.25">(b)</text>
<path d="M365.5,140.6 L366.0,140.5 L366.6,140.3 L367.2,140.2 L367.9,140.0 L368.7,139.9 L369.5,139.7 L370.4,139.5 L371.3,139.3 L372.2,139.1 L373.2,138.9 L374.2,138.6 L375.3,138.4 L376.3,138.1 L377.4,137.8 L378.5,137.5 L379.7,137.2 L380.8,136.8 L381.9,136.4 L383.1,136.0 L384.2,135.6 L385.4,135.0 L386.5,134.2 L387.4,133.6 L388.3,133.0 L389.2,132.3 L390.1,131.6 L391.1,130.9 L392.0,130.1 L393.0,129.4 L394.0,128.6 L395.0,127.8 L396.0,127.0 L397.1,126.1 L398.1,125.3 L399.1,124.4 L400.2,123.6 L401.2,122.7 L402.3,121.8 L403.3,120.9 L404.4,120.0 L405.4,119.2 L406.4,118.3 L407.4,117.4 L408.4,116.5 L409.4,115.6 L410.4,114.7 L411.4,113.8 L412.3,113.0 L413.2,112.1 L414.1,111.2 L415.0,110.4 L416.1,109.3 L417.3,108.1 L418.4,107.0 L419.5,105.8 L420.6,104.6 L421.6,103.4 L422.7,102.2 L423.8,100.9 L424.8,99.7 L425.8,98.5 L426.8,97.3 L427.8,96.1 L428.8,94.9 L429.7,93.8 L430.7,92.7 L431.6,91.6 L432.5,90.5 L433.4,89.5 L434.2,88.5 L435.0,87.6 L435.8,86.7 L436.6,85.9 L437.8,84.7 L438.9,83.6 L439.9,82.7 L440.9,81.9 L441.7,81.2 L442.5,80.6 L443.3,80.0 L444.1,79.4 L444.9,78.8 L445.7,78.3 L446.6,77.8 L447.6,77.3 L448.6,76.6 L449.4,76.0 L450.3,75.5 L451.2,74.9 L452.1,74.3 L453.0,73.7 L454.0,73.1 L454.9,72.5 L455.9,71.8 L456.9,71.1 L457.8,70.5 L458.8,69.7 L459.9,69.0 L460.9,68.3 L461.9,67.5 L462.9,66.7 L464.0,65.9 L465.0,65.0 L465.9,64.2 L466.8,63.4 L467.7,62.6 L468.7,61.7 L469.6,60.8 L470.6,59.8 L471.6,58.9 L472.6,57.9 L473.6,56.9 L474.5,56.0 L475.5,55.0 L476.5,54.0 L477.5,53.0 L478.5,52.1 L479.4,51.2 L480.4,50.3 L481.3,49.4 L482.2,48.5 L483.1,47.7 L484.0,47.0 L485.1,46.1 L486.2,45.2 L487.2,44.3 L488.3,43.4 L489.3,42.6 L490.4,41.8 L491.4,41.0 L492.4,40.2 L493.4,39.5 L494.3,38.8 L495.3,38.2 L496.2,37.6 L497.2,37.1 L498.1,36.7 L498.9,36.3 L499.8,36.0 L500.9,35.8 L501.8,35.6 L502.7,35.6 L503.5,35.6 L504.2,35.8 L505.0,36.0 L505.8,36.3 L506.6,36.8 L507.6,37.3 L508.6,37.9 L509.8,38.7 L511.2,39.6 L511.9,40.0 L512.8,40.6 L513.6,41.2 L514.6,41.9 L515.6,42.6 L516.6,43.4 L517.7,44.2 L518.8,45.1 L519.9,46.0 L521.0,46.9 L522.2,47.8 L523.3,48.7 L524.5,49.6 L525.6,50.5 L526.7,51.4 L527.8,52.3 L528.9,53.2 L529.9,54.0 L530.8,54.8 L531.7,55.5 L532.6,56.2 L533.4,56.8 L534.1,57.4 L534.7,57.9 L535.2,58.3" fill="none" stroke="#e2c0b8" stroke-width="1.2"/>
<path d="M365.5,140.6 L366.0,140.5 L366.6,140.3 L367.2,140.2 L367.9,140.0 L368.7,139.9 L369.5,139.7 L370.4,139.5 L371.3,139.3 L372.2,139.1 L373.2,138.9 L374.2,138.6 L375.3,138.4 L376.3,138.1 L377.4,137.8 L378.5,137.5 L379.7,137.2 L380.8,136.8 L381.9,136.4 L383.1,136.0 L384.2,135.6 L385.4,135.1 L386.5,134.4 L387.4,133.9 L388.3,133.3 L389.2,132.8 L390.1,132.2 L391.1,131.6 L392.0,130.9 L393.0,130.3 L394.0,129.6 L395.0,129.0 L396.0,128.3 L397.1,127.5 L398.1,126.8 L399.1,126.1 L400.2,125.3 L401.2,124.6 L402.3,123.8 L403.3,123.1 L404.4,122.3 L405.4,121.5 L406.4,120.8 L407.4,120.0 L408.4,119.2 L409.4,118.4 L410.4,117.7 L411.4,116.9 L412.3,116.1 L413.2,115.4 L414.1,114.6 L415.0,113.9 L416.1,112.9 L417.3,111.9 L418.4,110.9 L419.5,109.8 L420.6,108.7 L421.6,107.7 L422.7,106.6 L423.8,105.5 L424.8,104.4 L425.8,103.3 L426.8,102.2 L427.8,101.1 L428.8,100.0 L429.7,99.0 L430.7,98.0 L431.6,97.0 L432.5,96.1 L433.4,95.1 L434.2,94.3 L435.0,93.4 L435.8,92.6 L436.6,91.9 L437.8,90.8 L438.9,89.9 L439.9,89.1 L440.9,88.4 L441.7,87.8 L442.5,87.3 L443.3,86.8 L444.1,86.3 L444.9,85.8 L445.7,85.3 L446.6,84.8 L447.6,84.3 L448.6,83.6 L449.4,83.0 L450.3,82.5 L451.2,81.9 L452.1,81.3 L453.0,80.7 L454.0,80.1 L454.9,79.5 L455.9,78.8 L456.9,78.1 L457.8,77.5 L458.8,76.7 L459.9,76.0 L460.9,75.3 L461.9,74.5 L462.9,73.7 L464.0,72.9 L465.0,72.0 L465.9,71.2 L466.8,70.4 L467.7,69.6 L468.7,68.7 L469.6,67.8 L470.6,66.8 L471.6,65.9 L472.6,64.9 L473.6,63.9 L474.5,63.0 L475.5,62.0 L476.5,61.0 L477.5,60.0 L478.5,59.1 L479.4,58.2 L480.4,57.3 L481.3,56.4 L482.2,55.5 L483.1,54.7 L484.0,54.0 L485.1,53.1 L486.2,52.2 L487.2,51.3 L488.3,50.4 L489.3,49.6 L490.4,48.8 L491.4,48.0 L492.4,47.2 L493.4,46.5 L494.3,45.8 L495.3,45.2 L496.2,44.6 L497.2,44.1 L498.1,43.7 L498.9,43.3 L499.8,43.0 L500.9,42.7 L501.8,42.6 L502.7,42.5 L503.5,42.5 L504.2,42.6 L505.0,42.8 L505.8,43.1 L506.6,43.5 L507.6,44.0 L508.6,44.6 L509.8,45.3 L511.2,46.1 L511.9,46.6 L512.8,47.1 L513.6,47.7 L514.6,48.3 L515.6,49.0 L516.6,49.8 L517.7,50.5 L518.8,51.3 L519.9,52.2 L521.0,53.0 L522.2,53.9 L523.3,54.8 L524.5,55.6 L525.6,56.5 L526.7,57.4 L527.8,58.2 L528.9,59.0 L529.9,59.8 L530.8,60.6 L531.7,61.3 L532.6,61.9 L533.4,62.5 L534.1,63.0 L534.7,63.5 L535.2,63.9" fill="none" stroke="#d4a09a" stroke-width="1.2"/>
<path d="M365.5,140.6 L366.0,140.5 L366.6,140.3 L367.2,140.2 L367.9,140.0 L368.7,139.9 L369.5,139.7 L370.4,139.5 L371.3,139.3 L372.2,139.1 L373.2,138.9 L374.2,138.6 L375.3,138.4 L376.3,138.1 L377.4,137.8 L378.5,137.5 L379.7,137.2 L380.8,136.8 L381.9,136.4 L383.1,136.0 L384.2,135.6 L385.4,135.1 L386.5,134.5 L387.4,134.0 L388.3,133.5 L389.2,133.0 L390.1,132.5 L391.1,131.9 L392.0,131.4 L393.0,130.8 L394.0,130.2 L395.0,129.5 L396.0,128.9 L397.1,128.2 L398.1,127.6 L399.1,126.9 L400.2,126.2 L401.2,125.5 L402.3,124.8 L403.3,124.1 L404.4,123.4 L405.4,122.7 L406.4,122.0 L407.4,121.3 L408.4,120.6 L409.4,119.9 L410.4,119.1 L411.4,118.4 L412.3,117.7 L413.2,117.0 L414.1,116.3 L415.0,115.7 L416.1,114.7 L417.3,113.8 L418.4,112.8 L419.5,111.8 L420.6,110.8 L421.6,109.8 L422.7,108.8 L423.8,107.7 L424.8,106.7 L425.8,105.6 L426.8,104.6 L427.8,103.6 L428.8,102.6 L429.7,101.6 L430.7,100.7 L431.6,99.7 L432.5,98.8 L433.4,98.0 L434.2,97.1 L435.0,96.3 L435.8,95.6 L436.6,94.9 L437.8,93.9 L438.9,93.0 L439.9,92.3 L440.9,91.7 L441.7,91.1 L442.5,90.6 L443.3,90.2 L444.1,89.7 L444.9,89.3 L445.7,88.8 L446.6,88.3 L447.6,87.8 L448.6,87.1 L449.4,86.5 L450.3,86.0 L451.2,85.4 L452.1,84.8 L453.0,84.2 L454.0,83.6 L454.9,83.0 L455.9,82.3 L456.9,81.6 L457.8,81.0 L458.8,80.2 L459.9,79.5 L460.9,78.8 L461.9,78.0 L462.9,77.2 L464.0,76.4 L465.0,75.5 L465.9,74.7 L466.8,73.9 L467.7,73.1 L468.7,72.2 L469.6,71.3 L470.6,70.3 L471.6,69.4 L472.6,68.4 L473.6,67.4 L474.5,66.5 L475.5,65.5 L476.5,64.5 L477.5,63.5 L478.5,62.6 L479.4,61.7 L480.4,60.8 L481.3,59.9 L482.2,59.0 L483.1,58.2 L484.0,57.5 L485.1,56.6 L486.2,55.7 L487.2,54.8 L488.3,53.9 L489.3,53.1 L490.4,52.3 L491.4,51.5 L492.4,50.7 L493.4,50.0 L494.3,49.3 L495.3,48.7 L496.2,48.1 L497.2,47.6 L498.1,47.2 L498.9,46.8 L499.8,46.5 L500.9,46.2 L501.8,46.0 L502.7,45.9 L503.5,45.9 L504.2,46.0 L505.0,46.2 L505.8,46.5 L506.6,46.9 L507.6,47.3 L508.6,47.9 L509.8,48.6 L511.2,49.4 L511.9,49.8 L512.8,50.3 L513.6,50.9 L514.6,51.5 L515.6,52.2 L516.6,52.9 L517.7,53.7 L518.8,54.5 L519.9,55.3 L521.0,56.1 L522.2,57.0 L523.3,57.8 L524.5,58.7 L525.6,59.5 L526.7,60.3 L527.8,61.1 L528.9,61.9 L529.9,62.7 L530.8,63.4 L531.7,64.1 L532.6,64.8 L533.4,65.3 L534.1,65.9 L534.7,66.3 L535.2,66.7" fill="none" stroke="#c8827e" stroke-width="1.2"/>
<path d="M365.5,140.6 L366.0,140.5 L366.6,140.3 L367.2,140.2 L367.9,140.0 L368.7,139.9 L369.5,139.7 L370.4,139.5 L371.3,139.3 L372.2,139.1 L373.2,138.9 L374.2,138.6 L375.3,138.4 L376.3,138.1 L377.4,137.8 L378.5,137.5 L379.7,137.2 L380.8,136.8 L381.9,136.4 L383.1,136.0 L384.2,135.6 L385.4,135.1 L386.5,134.6 L387.4,134.2 L388.3,133.8 L389.2,133.3 L390.1,132.9 L391.1,132.4 L392.0,131.9 L393.0,131.4 L394.0,130.8 L395.0,130.3 L396.0,129.7 L397.1,129.2 L398.1,128.6 L399.1,128.0 L400.2,127.4 L401.2,126.8 L402.3,126.1 L403.3,125.5 L404.4,124.9 L405.4,124.3 L406.4,123.6 L407.4,123.0 L408.4,122.3 L409.4,121.7 L410.4,121.1 L411.4,120.4 L412.3,119.8 L413.2,119.1 L414.1,118.5 L415.0,117.9 L416.1,117.1 L417.3,116.2 L418.4,115.3 L419.5,114.4 L420.6,113.5 L421.6,112.5 L422.7,111.6 L423.8,110.6 L424.8,109.7 L425.8,108.7 L426.8,107.8 L427.8,106.8 L428.8,105.9 L429.7,105.0 L430.7,104.1 L431.6,103.2 L432.5,102.4 L433.4,101.6 L434.2,100.8 L435.0,100.1 L435.8,99.4 L436.6,98.8 L437.8,97.9 L438.9,97.1 L439.9,96.4 L440.9,95.9 L441.7,95.4 L442.5,94.9 L443.3,94.5 L444.1,94.1 L444.9,93.7 L445.7,93.3 L446.6,92.8 L447.6,92.3 L448.6,91.6 L449.4,91.0 L450.3,90.5 L451.2,89.9 L452.1,89.3 L453.0,88.7 L454.0,88.1 L454.9,87.5 L455.9,86.8 L456.9,86.1 L457.8,85.5 L458.8,84.7 L459.9,84.0 L460.9,83.3 L461.9,82.5 L462.9,81.7 L464.0,80.9 L465.0,80.0 L465.9,79.2 L466.8,78.4 L467.7,77.6 L468.7,76.7 L469.6,75.8 L470.6,74.8 L471.6,73.9 L472.6,72.9 L473.6,71.9 L474.5,71.0 L475.5,70.0 L476.5,69.0 L477.5,68.0 L478.5,67.1 L479.4,66.2 L480.4,65.3 L481.3,64.4 L482.2,63.5 L483.1,62.7 L484.0,62.0 L485.1,61.1 L486.2,60.2 L487.2,59.3 L488.3,58.4 L489.3,57.6 L490.4,56.8 L491.4,56.0 L492.4,55.2 L493.4,54.5 L494.3,53.8 L495.3,53.2 L496.2,52.6 L497.2,52.1 L498.1,51.7 L498.9,51.3 L499.8,51.0 L500.9,50.7 L501.8,50.5 L502.7,50.4 L503.5,50.3 L504.2,50.4 L505.0,50.6 L505.8,50.8 L506.6,51.2 L507.6,51.6 L508.6,52.2 L509.8,52.8 L511.2,53.6 L511.9,54.0 L512.8,54.5 L513.6,55.1 L514.6,55.7 L515.6,56.3 L516.6,57.0 L517.7,57.7 L518.8,58.5 L519.9,59.3 L521.0,60.1 L522.2,60.9 L523.3,61.7 L524.5,62.5 L525.6,63.3 L526.7,64.1 L527.8,64.9 L528.9,65.7 L529.9,66.4 L530.8,67.1 L531.7,67.8 L532.6,68.4 L533.4,69.0 L534.1,69.5 L534.7,69.9 L535.2,70.3" fill="none" stroke="#c8323a" stroke-width="1.4"/>
<path d="M365.5,140.0 L366.0,139.8 L366.6,139.7 L367.2,139.5 L367.9,139.3 L368.7,139.2 L369.5,139.0 L370.4,138.8 L371.3,138.6 L372.2,138.4 L373.2,138.2 L374.2,137.9 L375.3,137.6 L376.3,137.3 L377.4,136.9 L378.5,136.5 L379.7,136.1 L380.8,135.6 L381.9,135.0 L383.1,134.4 L384.2,133.8 L385.4,133.1 L386.5,132.3 L387.4,131.7 L388.3,131.0 L389.2,130.2 L390.1,129.5 L391.1,128.7 L392.0,127.8 L393.0,126.9 L394.0,126.0 L395.0,125.1 L396.0,124.1 L397.1,123.1 L398.1,122.1 L399.1,121.1 L400.2,120.0 L401.2,119.0 L402.3,117.9 L403.3,116.8 L404.4,115.8 L405.4,114.7 L406.4,113.6 L407.4,112.5 L408.4,111.5 L409.4,110.4 L410.4,109.4 L411.4,108.3 L412.3,107.3 L413.2,106.3 L414.1,105.3 L415.0,104.4 L416.1,103.2 L417.3,101.9 L418.4,100.6 L419.5,99.3 L420.5,98.0 L421.6,96.7 L422.6,95.3 L423.7,94.0 L424.7,92.7 L425.7,91.4 L426.7,90.1 L427.7,88.8 L428.7,87.6 L429.6,86.4 L430.5,85.2 L431.5,84.0 L432.4,82.9 L433.2,81.8 L434.1,80.8 L435.0,79.9 L435.8,78.9 L436.6,78.1 L437.8,76.9 L438.9,75.9 L440.0,75.0 L440.9,74.3 L441.9,73.7 L442.7,73.1 L443.6,72.6 L444.5,72.1 L445.4,71.7 L446.3,71.2 L447.2,70.7 L448.2,70.1 L449.3,69.4 L450.5,68.6 L451.3,68.0 L452.2,67.4 L453.0,66.8 L453.9,66.2 L454.8,65.5 L455.7,64.8 L456.6,64.1 L457.5,63.4 L458.4,62.7 L459.4,62.0 L460.4,61.3 L461.4,60.6 L462.4,59.8 L463.4,59.1 L464.4,58.4 L465.5,57.7 L466.5,57.0 L467.6,56.3 L468.7,55.6 L469.9,55.0 L471.0,54.3 L471.9,53.8 L472.8,53.3 L473.7,52.8 L474.7,52.2 L475.7,51.7 L476.7,51.1 L477.7,50.5 L478.7,50.0 L479.8,49.4 L480.9,48.8 L481.9,48.3 L483.0,47.7 L484.1,47.1 L485.2,46.6 L486.2,46.1 L487.3,45.6 L488.4,45.1 L489.4,44.6 L490.5,44.1 L491.5,43.7 L492.5,43.3 L493.5,43.0 L494.5,42.6 L495.4,42.3 L496.3,42.1 L497.2,41.9 L498.1,41.7 L498.9,41.6 L500.1,41.5 L501.3,41.5 L502.4,41.6 L503.4,41.8 L504.4,42.1 L505.3,42.4 L506.2,42.9 L507.1,43.3 L508.0,43.8 L508.8,44.4 L509.7,44.9 L510.5,45.5 L511.4,46.1 L512.3,46.7 L513.2,47.3 L514.1,47.9 L515.0,48.5 L516.0,49.0 L516.9,49.5 L517.9,50.0 L518.9,50.6 L520.0,51.1 L521.1,51.8 L522.2,52.4 L523.3,53.0 L524.5,53.7 L525.6,54.3 L526.7,55.0 L527.7,55.6 L528.8,56.2 L529.8,56.8 L530.8,57.4 L531.7,57.9 L532.6,58.4 L533.3,58.9 L534.0,59.3 L534.7,59.7 L535.2,60.0" fill="none" stroke="#e8b0d0" stroke-width="2.6"/>
<path d="M365.5,138.0 L366.0,137.8 L366.6,137.7 L367.2,137.5 L367.9,137.3 L368.7,137.2 L369.5,137.0 L370.4,136.8 L371.3,136.6 L372.2,136.4 L373.2,136.2 L374.2,135.9 L375.3,135.6 L376.3,135.3 L377.4,134.9 L378.5,134.5 L379.7,134.1 L380.8,133.6 L381.9,133.0 L383.1,132.4 L384.2,131.8 L385.4,131.1 L386.5,130.3 L387.4,129.7 L388.3,129.0 L389.2,128.2 L390.1,127.5 L391.1,126.7 L392.0,125.8 L393.0,124.9 L394.0,124.0 L395.0,123.1 L396.0,122.1 L397.1,121.1 L398.1,120.1 L399.1,119.1 L400.2,118.0 L401.2,117.0 L402.3,115.9 L403.3,114.8 L404.4,113.8 L405.4,112.7 L406.4,111.6 L407.4,110.5 L408.4,109.5 L409.4,108.4 L410.4,107.4 L411.4,106.3 L412.3,105.3 L413.2,104.3 L414.1,103.3 L415.0,102.4 L416.1,101.2 L417.3,99.9 L418.4,98.6 L419.5,97.3 L420.5,96.0 L421.6,94.7 L422.6,93.3 L423.7,92.0 L424.7,90.7 L425.7,89.4 L426.7,88.1 L427.7,86.8 L428.7,85.6 L429.6,84.4 L430.5,83.2 L431.5,82.0 L432.4,80.9 L433.2,79.8 L434.1,78.8 L435.0,77.9 L435.8,76.9 L436.6,76.1 L437.8,74.9 L438.9,73.9 L440.0,73.0 L440.9,72.3 L441.9,71.7 L442.7,71.1 L443.6,70.6 L444.5,70.1 L445.4,69.7 L446.3,69.2 L447.2,68.7 L448.2,68.1 L449.3,67.4 L450.5,66.6 L451.3,66.0 L452.2,65.4 L453.0,64.8 L453.9,64.2 L454.8,63.5 L455.7,62.8 L456.6,62.1 L457.5,61.4 L458.4,60.7 L459.4,60.0 L460.4,59.3 L461.4,58.6 L462.4,57.8 L463.4,57.1 L464.4,56.4 L465.5,55.7 L466.5,55.0 L467.6,54.3 L468.7,53.6 L469.9,53.0 L471.0,52.3 L471.9,51.8 L472.8,51.3 L473.7,50.8 L474.7,50.2 L475.7,49.7 L476.7,49.1 L477.7,48.5 L478.7,48.0 L479.8,47.4 L480.9,46.8 L481.9,46.3 L483.0,45.7 L484.1,45.1 L485.2,44.6 L486.2,44.1 L487.3,43.6 L488.4,43.1 L489.4,42.6 L490.5,42.1 L491.5,41.7 L492.5,41.3 L493.5,41.0 L494.5,40.6 L495.4,40.3 L496.3,40.1 L497.2,39.9 L498.1,39.7 L498.9,39.6 L500.1,39.5 L501.3,39.5 L502.4,39.6 L503.4,39.8 L504.4,40.1 L505.3,40.4 L506.2,40.9 L507.1,41.3 L508.0,41.8 L508.8,42.4 L509.7,42.9 L510.5,43.5 L511.4,44.1 L512.3,44.7 L513.2,45.3 L514.1,45.9 L515.0,46.5 L516.0,47.0 L516.9,47.5 L517.9,48.0 L518.9,48.6 L520.0,49.1 L521.1,49.8 L522.2,50.4 L523.3,51.0 L524.5,51.7 L525.6,52.3 L526.7,53.0 L527.7,53.6 L528.8,54.2 L529.8,54.8 L530.8,55.4 L531.7,55.9 L532.6,56.4 L533.3,56.9 L534.0,57.3 L534.7,57.7 L535.2,58.0" fill="none" stroke="#d070b0" stroke-width="1.3"/>
<path d="M365.5,137.0 L366.0,136.8 L366.6,136.6 L367.3,136.3 L368.1,136.0 L369.0,135.8 L369.9,135.4 L370.9,135.1 L371.9,134.8 L372.9,134.4 L374.0,134.0 L375.1,133.6 L376.2,133.2 L377.3,132.8 L378.5,132.4 L379.6,131.9 L380.7,131.5 L381.8,131.0 L382.8,130.5 L383.8,130.1 L384.8,129.6 L385.7,129.1 L386.5,128.6 L387.6,127.9 L388.7,127.1 L389.8,126.3 L390.8,125.5 L391.8,124.7 L392.7,123.9 L393.6,123.0 L394.5,122.1 L395.4,121.2 L396.3,120.3 L397.2,119.4 L398.1,118.4 L399.0,117.5 L399.9,116.5 L400.8,115.5 L401.8,114.5 L402.7,113.4 L403.7,112.4 L404.7,111.2 L405.8,110.1 L406.8,109.0 L407.8,107.8 L408.8,106.7 L409.7,105.5 L410.7,104.3 L411.6,103.2 L412.5,102.0 L413.3,100.9 L414.1,99.8 L414.9,98.7 L416.2,96.7 L417.3,94.7 L418.3,92.7 L419.2,90.7 L420.1,88.7 L420.9,86.9 L421.7,85.0 L422.6,83.3 L423.6,81.4 L424.5,79.6 L425.4,77.9 L426.3,76.2 L427.1,74.6 L428.0,73.0 L429.0,71.5 L429.9,70.2 L430.8,68.8 L431.8,67.5 L432.8,66.3 L433.8,65.1 L434.7,63.9 L435.6,62.9 L436.4,62.0 L437.5,60.8 L438.3,60.0 L439.1,59.3 L439.9,58.7 L441.0,58.0 L441.8,57.6 L442.5,57.2 L443.3,56.8 L444.1,56.4 L445.0,56.0 L446.1,55.6 L447.3,55.1 L448.6,54.6 L449.3,54.3 L450.1,54.0 L450.9,53.7 L451.8,53.4 L452.7,53.0 L453.6,52.7 L454.6,52.4 L455.5,52.0 L456.5,51.6 L457.6,51.3 L458.6,50.9 L459.7,50.5 L460.8,50.1 L461.9,49.7 L463.0,49.3 L464.1,48.9 L465.0,48.6 L465.9,48.2 L466.8,47.9 L467.8,47.5 L468.8,47.2 L469.8,46.8 L470.8,46.4 L471.8,46.0 L472.9,45.7 L473.9,45.3 L474.9,44.9 L476.0,44.5 L477.0,44.1 L478.0,43.7 L479.0,43.4 L480.0,43.0 L481.0,42.7 L482.0,42.3 L482.9,42.0 L483.8,41.7 L484.6,41.4 L485.7,41.0 L486.8,40.6 L487.8,40.1 L488.8,39.7 L489.8,39.2 L490.7,38.8 L491.6,38.4 L492.5,38.0 L493.4,37.7 L494.3,37.4 L495.1,37.1 L496.0,37.0 L497.0,36.9 L497.9,36.8 L498.9,36.9 L499.8,37.0 L500.8,37.3 L501.7,37.6 L502.6,38.0 L503.6,38.4 L504.5,38.9 L505.5,39.4 L506.4,40.0 L507.4,40.6 L508.4,41.2 L509.4,41.8 L510.4,42.4 L511.4,43.0 L512.5,43.6 L513.6,44.2 L514.7,44.8 L515.6,45.2 L516.6,45.7 L517.6,46.2 L518.6,46.7 L519.7,47.2 L520.8,47.7 L521.9,48.3 L523.1,48.8 L524.2,49.3 L525.4,49.9 L526.5,50.4 L527.6,50.9 L528.7,51.4 L529.7,51.9 L530.7,52.4 L531.6,52.8 L532.5,53.2 L533.3,53.6 L534.0,53.9 L534.7,54.2 L535.2,54.5" fill="none" stroke="#a8bce8" stroke-width="3"/>
<path d="M365.5,137.0 L366.0,136.8 L366.6,136.6 L367.3,136.3 L368.1,136.0 L369.0,135.8 L369.9,135.4 L370.9,135.1 L371.9,134.8 L372.9,134.4 L374.0,134.0 L375.1,133.6 L376.2,133.2 L377.3,132.8 L378.5,132.4 L379.6,131.9 L380.7,131.5 L381.8,131.0 L382.8,130.5 L383.8,130.1 L384.8,129.6 L385.7,129.1 L386.5,128.6 L387.6,127.9 L388.7,127.1 L389.8,126.3 L390.8,125.5 L391.8,124.7 L392.7,123.9 L393.6,123.0 L394.5,122.1 L395.4,121.2 L396.3,120.3 L397.2,119.4 L398.1,118.4 L399.0,117.5 L399.9,116.5 L400.8,115.5 L401.8,114.5 L402.7,113.4 L403.7,112.4 L404.7,111.2 L405.8,110.1 L406.8,109.0 L407.8,107.8 L408.8,106.7 L409.7,105.5 L410.7,104.3 L411.6,103.2 L412.5,102.0 L413.3,100.9 L414.1,99.8 L414.9,98.7 L416.2,96.7 L417.3,94.7 L418.3,92.7 L419.2,90.7 L420.1,88.7 L420.9,86.9 L421.7,85.0 L422.6,83.3 L423.6,81.4 L424.5,79.6 L425.4,77.9 L426.3,76.2 L427.1,74.6 L428.0,73.0 L429.0,71.5 L429.9,70.2 L430.8,68.8 L431.8,67.5 L432.8,66.3 L433.8,65.1 L434.7,63.9 L435.6,62.9 L436.4,62.0 L437.5,60.8 L438.3,60.0 L439.1,59.3 L439.9,58.7 L441.0,58.0 L441.8,57.6 L442.5,57.2 L443.3,56.8 L444.1,56.4 L445.0,56.0 L446.1,55.6 L447.3,55.1 L448.6,54.6 L449.3,54.3 L450.1,54.0 L450.9,53.7 L451.8,53.4 L452.7,53.0 L453.6,52.7 L454.6,52.4 L455.5,52.0 L456.5,51.6 L457.6,51.3 L458.6,50.9 L459.7,50.5 L460.8,50.1 L461.9,49.7 L463.0,49.3 L464.1,48.9 L465.0,48.6 L465.9,48.2 L466.8,47.9 L467.8,47.5 L468.8,47.2 L469.8,46.8 L470.8,46.4 L471.8,46.0 L472.9,45.7 L473.9,45.3 L474.9,44.9 L476.0,44.5 L477.0,44.1 L478.0,43.7 L479.0,43.4 L480.0,43.0 L481.0,42.7 L482.0,42.3 L482.9,42.0 L483.8,41.7 L484.6,41.4 L485.7,41.0 L486.8,40.6 L487.8,40.1 L488.8,39.7 L489.8,39.2 L490.7,38.8 L491.6,38.4 L492.5,38.0 L493.4,37.7 L494.3,37.4 L495.1,37.1 L496.0,37.0 L497.0,36.9 L497.9,36.8 L498.9,36.9 L499.8,37.0 L500.8,37.3 L501.7,37.6 L502.6,38.0 L503.6,38.4 L504.5,38.9 L505.5,39.4 L506.4,40.0 L507.4,40.6 L508.4,41.2 L509.4,41.8 L510.4,42.4 L511.4,43.0 L512.5,43.6 L513.6,44.2 L514.7,44.8 L515.6,45.2 L516.6,45.7 L517.6,46.2 L518.6,46.7 L519.7,47.2 L520.8,47.7 L521.9,48.3 L523.1,48.8 L524.2,49.3 L525.4,49.9 L526.5,50.4 L527.6,50.9 L528.7,51.4 L529.7,51.9 L530.7,52.4 L531.6,52.8 L532.5,53.2 L533.3,53.6 L534.0,53.9 L534.7,54.2 L535.2,54.5" fill="none" stroke="#4d5fbf" stroke-width="1.5"/>
<path d="M365.5,22.0 H535.2 V155.8 H365.5 Z" fill="none" stroke="#7a7a7a" stroke-width="1.2"/>
<line x1="365.5" y1="155.8" x2="365.5" y2="158.6" stroke="#666" stroke-width="1"/>
<text x="365.5" y="171.4" font-size="10.5" text-anchor="middle" font-family="Liberation Sans, sans-serif" fill="#222" stroke="#222" stroke-width="0.25">4964</text>
<line x1="399.4" y1="155.8" x2="399.4" y2="158.6" stroke="#666" stroke-width="1"/>
<text x="399.4" y="171.4" font-size="10.5" text-anchor="middle" font-family="Liberation Sans, sans-serif" fill="#222" stroke="#222" stroke-width="0.25">4965</text>
<line x1="433.4" y1="155.8" x2="433.4" y2="158.6" stroke="#666" stroke-width="1"/>
<text x="433.4" y="171.4" font-size="10.5" text-anchor="middle" font-family="Liberation Sans, sans-serif" fill="#222" stroke="#222" stroke-width="0.25">4966</text>
<line x1="467.3" y1="155.8" x2="467.3" y2="158.6" stroke="#666" stroke-width="1"/>
<text x="467.3" y="171.4" font-size="10.5" text-anchor="middle" font-family="Liberation Sans, sans-serif" fill="#222" stroke="#222" stroke-width="0.25">4967</text>
<line x1="501.3" y1="155.8" x2="501.3" y2="158.6" stroke="#666" stroke-width="1"/>
<text x="501.3" y="171.4" font-size="10.5" text-anchor="middle" font-family="Liberation Sans, sans-serif" fill="#222" stroke="#222" stroke-width="0.25">4968</text>
<line x1="535.2" y1="155.8" x2="535.2" y2="158.6" stroke="#666" stroke-width="1"/>
<text x="535.2" y="171.4" font-size="10.5" text-anchor="middle" font-family="Liberation Sans, sans-serif" fill="#222" stroke="#222" stroke-width="0.25">4969</text>
<text x="451" y="186" font-size="12" text-anchor="middle" font-family="Liberation Sans, sans-serif" fill="#1a1a1a" stroke="#1a1a1a" stroke-width="0.25">Energy / eV</text>
<text transform="translate(357,90) rotate(-90)" font-size="12" text-anchor="middle" font-family="Liberation Sans, sans-serif" fill="#1a1a1a" xml:space="preserve" stroke="#1a1a1a" stroke-width="0.25">Normalized  absorption</text>
<text x="372.2" y="38.2" font-size="12.3" font-family="Liberation Sans, sans-serif" fill="#4688a8" stroke="#4688a8" stroke-width="0.25">25 ˚C-300 ˚C</text>
<text x="368" y="52.9" font-size="12.3" font-family="Liberation Sans, sans-serif" fill="#bc428c" stroke="#bc428c" stroke-width="0.25">300 ˚C-400 ˚C</text>
<rect x="449.8" y="48.2" width="10.9" height="10.2" fill="none" stroke="#4a9aa0" stroke-width="0.9"/>
<line x1="445" y1="40.3" x2="455.9" y2="48.2" stroke="#4a9aa0" stroke-width="0.9"/>
<rect x="442.6" y="64.6" width="11.3" height="9.8" fill="none" stroke="#b858a0" stroke-width="0.9"/>
<line x1="440.2" y1="55.7" x2="448.4" y2="64.6" stroke="#b858a0" stroke-width="0.9"/>
<rect x="440.9" y="83.7" width="10.9" height="10.9" fill="none" stroke="#b04848" stroke-width="0.9"/>
<line x1="446.4" y1="93.9" x2="465.5" y2="104.1" stroke="#b04848" stroke-width="0.9"/>
<text x="468.2" y="109.3" font-size="12.4" font-family="Liberation Sans, sans-serif" fill="#c0393b" stroke="#c0393b" stroke-width="0.25">600 ˚C</text>
<text x="330.6" y="190.5" font-size="18.6" font-family="Liberation Sans, sans-serif" fill="#222" stroke="#222" stroke-width="0.25">(c)</text>
<path d="M365.7,326.2 L424.9,247.2 L446.7,231.5 L467.6,226.9 L488.4,239.6 L509.0,263.3 L535.5,292.0" fill="none" stroke="#dca4ac" stroke-width="1.1"/>
<path d="M365.7,326.2 L424.9,243.8 L446.7,226.0 L467.6,221.4 L488.4,234.1 L509.0,258.7 L535.5,288.7" fill="none" stroke="#c07878" stroke-width="1.1"/>
<path d="M365.7,326.2 L424.9,241.0 L446.7,221.5 L467.6,216.9 L488.4,229.6 L509.0,255.0 L535.5,286.0" fill="none" stroke="#c0303a" stroke-width="1.3"/>
<path d="M365.7,326.2 L390,291" fill="none" stroke="#b0a090" stroke-width="2.4"/>
<path d="M365.7,312.0 L409.5,261.8 L424.9,248.9 L445.6,239.7 L467.6,242.5 L488.4,257.4 L509.0,278.1 L535.5,308.1" fill="none" stroke="#a8b0d8" stroke-width="2.6"/>
<path d="M365.7,312.0 L409.5,261.8 L424.9,248.6 L445.6,238.1 L467.6,240.6 L488.4,255.5 L509.0,276.2 L535.5,306.2" fill="none" stroke="#d890e0" stroke-width="3.0"/>
<path d="M365.7,312.0 L409.5,261.8 L424.9,248.5 L445.6,237.6 L467.6,240.0 L488.4,254.9 L509.0,275.6 L535.5,305.6" fill="none" stroke="#e070c0" stroke-width="1.6"/>
<path d="M365.7,312.0 L409.5,261.8 L424.9,248.7 L445.6,238.6 L467.6,241.2 L488.4,256.1 L509.0,276.8 L535.5,306.8" fill="none" stroke="#8060c0" stroke-width="1.2"/>
<path d="M365.7,195.0 H535.5 V327.6 H365.7 Z" fill="none" stroke="#7a7a7a" stroke-width="1.2"/>
<line x1="365.7" y1="327.6" x2="365.7" y2="330.4" stroke="#666" stroke-width="1"/>
<text x="365.7" y="343" font-size="10.5" text-anchor="middle" font-family="Liberation Sans, sans-serif" fill="#222" stroke="#222" stroke-width="0.25">4982</text>
<line x1="422.3" y1="327.6" x2="422.3" y2="330.4" stroke="#666" stroke-width="1"/>
<text x="422.3" y="343" font-size="10.5" text-anchor="middle" font-family="Liberation Sans, sans-serif" fill="#222" stroke="#222" stroke-width="0.25">4983</text>
<line x1="478.9" y1="327.6" x2="478.9" y2="330.4" stroke="#666" stroke-width="1"/>
<text x="478.9" y="343" font-size="10.5" text-anchor="middle" font-family="Liberation Sans, sans-serif" fill="#222" stroke="#222" stroke-width="0.25">4984</text>
<line x1="535.5" y1="327.6" x2="535.5" y2="330.4" stroke="#666" stroke-width="1"/>
<text x="535.5" y="343" font-size="10.5" text-anchor="middle" font-family="Liberation Sans, sans-serif" fill="#222" stroke="#222" stroke-width="0.25">4985</text>
<text x="451.3" y="358.2" font-size="12" text-anchor="middle" font-family="Liberation Sans, sans-serif" fill="#1a1a1a" stroke="#1a1a1a" stroke-width="0.25">Energy / eV</text>
<text transform="translate(357,256.5) rotate(-90)" font-size="12" text-anchor="middle" font-family="Liberation Sans, sans-serif" fill="#1a1a1a" xml:space="preserve" stroke="#1a1a1a" stroke-width="0.25">Normalized  absorption</text>
<rect x="439.1" y="235.3" width="11.1" height="10.3" fill="none" stroke="#4a9ab0" stroke-width="0.9"/>
<line x1="444.6" y1="245.6" x2="444.6" y2="262.9" stroke="#4a9ab0" stroke-width="0.9"/>
<text x="413.3" y="275.6" font-size="12.3" font-family="Liberation Sans, sans-serif" fill="#4688a8" stroke="#4688a8" stroke-width="0.25">25 ˚C-400 ˚C</text>
<rect x="461.2" y="215.3" width="15.2" height="15.4" fill="none" stroke="#b04848" stroke-width="0.9"/>
<line x1="467.6" y1="215.3" x2="488.4" y2="205.4" stroke="#b04848" stroke-width="0.9"/>
<text x="488.4" y="211.6" font-size="12.4" font-family="Liberation Sans, sans-serif" fill="#c0393b" stroke="#c0393b" stroke-width="0.25">600 ˚C</text>
<text x="9.8" y="372.3" font-size="18.6" font-family="Liberation Sans, sans-serif" fill="#222" stroke="#222" stroke-width="0.25">(d)</text>
<path d="M47.3,530.5 C50.8,530.5 63.5,530.5 68.0,530.2 C72.5,529.9 72.0,529.7 74.1,528.8 C76.2,527.9 78.4,526.9 80.5,524.8 C82.6,522.7 84.7,518.8 86.8,516.0 C88.9,513.2 91.1,510.3 93.2,508.0 C95.3,505.7 97.4,503.7 99.5,502.3 C101.6,500.9 103.8,500.3 105.9,499.6 C108.0,498.9 110.2,498.8 112.3,498.0 C114.4,497.2 115.8,496.1 118.6,494.6 C121.3,493.1 124.0,491.9 128.8,489.0 C133.6,486.1 142.9,480.6 147.6,477.0 C152.3,473.4 154.1,471.0 156.9,467.6 C159.7,464.2 162.0,459.6 164.5,456.8 C167.0,454.0 169.4,452.3 172.0,451.0 C174.6,449.7 175.3,449.7 180.0,449.0 C184.7,448.3 192.7,448.3 200.0,447.0 C207.3,445.7 217.0,441.8 223.6,441.4 C230.2,441.0 231.4,444.2 239.3,444.7 C247.2,445.2 265.6,444.5 270.9,444.5" fill="none" stroke="#16166e" stroke-width="2.4"/>
<g fill="#16166e"><path d="M47.3,528.0 l2.1,2.5 l-2.1,2.5 l-2.1,-2.5 z"/><path d="M50.9,528.0 l2.1,2.5 l-2.1,2.5 l-2.1,-2.5 z"/><path d="M54.2,527.9 l2.1,2.5 l-2.1,2.5 l-2.1,-2.5 z"/><path d="M57.7,527.9 l2.1,2.5 l-2.1,2.5 l-2.1,-2.5 z"/><path d="M61.0,527.9 l2.1,2.5 l-2.1,2.5 l-2.1,-2.5 z"/><path d="M64.4,527.8 l2.1,2.5 l-2.1,2.5 l-2.1,-2.5 z"/><path d="M67.8,527.7 l2.1,2.5 l-2.1,2.5 l-2.1,-2.5 z"/><path d="M71.3,527.4 l2.1,2.5 l-2.1,2.5 l-2.1,-2.5 z"/><path d="M74.3,526.2 l2.1,2.5 l-2.1,2.5 l-2.1,-2.5 z"/><path d="M77.5,524.6 l2.1,2.5 l-2.1,2.5 l-2.1,-2.5 z"/><path d="M80.3,522.5 l2.1,2.5 l-2.1,2.5 l-2.1,-2.5 z"/><path d="M82.4,519.9 l2.1,2.5 l-2.1,2.5 l-2.1,-2.5 z"/><path d="M84.4,517.0 l2.1,2.5 l-2.1,2.5 l-2.1,-2.5 z"/><path d="M86.1,514.5 l2.1,2.5 l-2.1,2.5 l-2.1,-2.5 z"/><path d="M88.3,511.5 l2.1,2.5 l-2.1,2.5 l-2.1,-2.5 z"/><path d="M90.2,509.0 l2.1,2.5 l-2.1,2.5 l-2.1,-2.5 z"/><path d="M92.5,506.3 l2.1,2.5 l-2.1,2.5 l-2.1,-2.5 z"/><path d="M94.7,503.9 l2.1,2.5 l-2.1,2.5 l-2.1,-2.5 z"/><path d="M97.3,501.4 l2.1,2.5 l-2.1,2.5 l-2.1,-2.5 z"/><path d="M100.0,499.5 l2.1,2.5 l-2.1,2.5 l-2.1,-2.5 z"/><path d="M102.9,498.1 l2.1,2.5 l-2.1,2.5 l-2.1,-2.5 z"/><path d="M106.1,497.0 l2.1,2.5 l-2.1,2.5 l-2.1,-2.5 z"/><path d="M109.6,496.2 l2.1,2.5 l-2.1,2.5 l-2.1,-2.5 z"/><path d="M112.8,495.3 l2.1,2.5 l-2.1,2.5 l-2.1,-2.5 z"/><path d="M115.9,493.6 l2.1,2.5 l-2.1,2.5 l-2.1,-2.5 z"/><path d="M118.8,492.0 l2.1,2.5 l-2.1,2.5 l-2.1,-2.5 z"/><path d="M121.7,490.5 l2.1,2.5 l-2.1,2.5 l-2.1,-2.5 z"/><path d="M124.8,488.8 l2.1,2.5 l-2.1,2.5 l-2.1,-2.5 z"/><path d="M127.8,487.1 l2.1,2.5 l-2.1,2.5 l-2.1,-2.5 z"/><path d="M130.7,485.3 l2.1,2.5 l-2.1,2.5 l-2.1,-2.5 z"/><path d="M133.6,483.6 l2.1,2.5 l-2.1,2.5 l-2.1,-2.5 z"/><path d="M136.3,481.9 l2.1,2.5 l-2.1,2.5 l-2.1,-2.5 z"/><path d="M139.4,480.0 l2.1,2.5 l-2.1,2.5 l-2.1,-2.5 z"/><path d="M142.1,478.3 l2.1,2.5 l-2.1,2.5 l-2.1,-2.5 z"/><path d="M145.1,476.3 l2.1,2.5 l-2.1,2.5 l-2.1,-2.5 z"/><path d="M148.0,474.2 l2.1,2.5 l-2.1,2.5 l-2.1,-2.5 z"/><path d="M150.5,472.1 l2.1,2.5 l-2.1,2.5 l-2.1,-2.5 z"/><path d="M152.9,469.7 l2.1,2.5 l-2.1,2.5 l-2.1,-2.5 z"/><path d="M155.0,467.3 l2.1,2.5 l-2.1,2.5 l-2.1,-2.5 z"/><path d="M157.2,464.8 l2.1,2.5 l-2.1,2.5 l-2.1,-2.5 z"/><path d="M159.2,461.9 l2.1,2.5 l-2.1,2.5 l-2.1,-2.5 z"/><path d="M161.2,458.9 l2.1,2.5 l-2.1,2.5 l-2.1,-2.5 z"/><path d="M163.1,456.1 l2.1,2.5 l-2.1,2.5 l-2.1,-2.5 z"/><path d="M165.2,453.5 l2.1,2.5 l-2.1,2.5 l-2.1,-2.5 z"/><path d="M167.6,451.3 l2.1,2.5 l-2.1,2.5 l-2.1,-2.5 z"/><path d="M170.5,449.3 l2.1,2.5 l-2.1,2.5 l-2.1,-2.5 z"/><path d="M173.5,447.8 l2.1,2.5 l-2.1,2.5 l-2.1,-2.5 z"/><path d="M176.7,447.0 l2.1,2.5 l-2.1,2.5 l-2.1,-2.5 z"/><path d="M180.0,446.5 l2.1,2.5 l-2.1,2.5 l-2.1,-2.5 z"/><path d="M183.3,446.1 l2.1,2.5 l-2.1,2.5 l-2.1,-2.5 z"/><path d="M186.9,445.9 l2.1,2.5 l-2.1,2.5 l-2.1,-2.5 z"/><path d="M190.2,445.6 l2.1,2.5 l-2.1,2.5 l-2.1,-2.5 z"/><path d="M193.7,445.3 l2.1,2.5 l-2.1,2.5 l-2.1,-2.5 z"/><path d="M197.0,444.9 l2.1,2.5 l-2.1,2.5 l-2.1,-2.5 z"/><path d="M200.5,444.4 l2.1,2.5 l-2.1,2.5 l-2.1,-2.5 z"/><path d="M203.6,443.7 l2.1,2.5 l-2.1,2.5 l-2.1,-2.5 z"/><path d="M206.9,442.8 l2.1,2.5 l-2.1,2.5 l-2.1,-2.5 z"/><path d="M210.4,441.8 l2.1,2.5 l-2.1,2.5 l-2.1,-2.5 z"/><path d="M213.5,440.9 l2.1,2.5 l-2.1,2.5 l-2.1,-2.5 z"/><path d="M216.9,440.1 l2.1,2.5 l-2.1,2.5 l-2.1,-2.5 z"/><path d="M220.0,439.3 l2.1,2.5 l-2.1,2.5 l-2.1,-2.5 z"/><path d="M223.4,438.9 l2.1,2.5 l-2.1,2.5 l-2.1,-2.5 z"/><path d="M226.9,439.0 l2.1,2.5 l-2.1,2.5 l-2.1,-2.5 z"/><path d="M230.0,439.9 l2.1,2.5 l-2.1,2.5 l-2.1,-2.5 z"/><path d="M233.4,441.1 l2.1,2.5 l-2.1,2.5 l-2.1,-2.5 z"/><path d="M236.6,441.9 l2.1,2.5 l-2.1,2.5 l-2.1,-2.5 z"/><path d="M240.1,442.2 l2.1,2.5 l-2.1,2.5 l-2.1,-2.5 z"/><path d="M243.5,442.3 l2.1,2.5 l-2.1,2.5 l-2.1,-2.5 z"/><path d="M246.9,442.4 l2.1,2.5 l-2.1,2.5 l-2.1,-2.5 z"/><path d="M250.3,442.4 l2.1,2.5 l-2.1,2.5 l-2.1,-2.5 z"/><path d="M253.6,442.3 l2.1,2.5 l-2.1,2.5 l-2.1,-2.5 z"/><path d="M257.1,442.3 l2.1,2.5 l-2.1,2.5 l-2.1,-2.5 z"/><path d="M260.6,442.2 l2.1,2.5 l-2.1,2.5 l-2.1,-2.5 z"/><path d="M263.8,442.1 l2.1,2.5 l-2.1,2.5 l-2.1,-2.5 z"/><path d="M267.1,442.0 l2.1,2.5 l-2.1,2.5 l-2.1,-2.5 z"/><path d="M270.5,442.0 l2.1,2.5 l-2.1,2.5 l-2.1,-2.5 z"/></g>
<path d="M47.3,531.8 C54.4,531.7 80.7,531.7 90.0,531.3 C99.3,530.9 99.5,530.6 103.0,529.5 C106.5,528.4 108.4,526.8 111.0,524.9 C113.6,523.0 116.3,520.3 118.6,517.9 C120.9,515.5 123.3,512.1 125.0,510.3 C126.7,508.5 126.6,509.1 128.8,507.0 C131.0,504.9 135.1,501.6 138.2,498.0 C141.3,494.4 144.5,489.8 147.6,485.5 C150.7,481.2 154.1,477.0 156.9,472.3 C159.7,467.6 162.0,462.0 164.5,457.3 C167.0,452.6 169.5,448.0 172.0,444.1 C174.5,440.2 177.2,436.5 179.5,433.8 C181.8,431.1 183.2,429.5 186.0,428.0 C188.8,426.5 192.6,425.2 196.6,425.0 C200.6,424.8 205.1,425.6 210.0,426.5 C214.9,427.4 219.5,429.5 226.2,430.6 C232.9,431.7 242.6,432.2 250.0,433.0 C257.4,433.8 267.4,434.8 270.9,435.2" fill="none" stroke="#9a5a30" stroke-width="2.4"/>
<g fill="#9a5a30"><circle cx="47.3" cy="531.8" r="1.6"/><circle cx="50.5" cy="531.8" r="1.6"/><circle cx="53.8" cy="531.8" r="1.6"/><circle cx="57.0" cy="531.7" r="1.6"/><circle cx="60.3" cy="531.7" r="1.6"/><circle cx="63.5" cy="531.7" r="1.6"/><circle cx="66.8" cy="531.7" r="1.6"/><circle cx="69.8" cy="531.6" r="1.6"/><circle cx="73.1" cy="531.6" r="1.6"/><circle cx="76.4" cy="531.6" r="1.6"/><circle cx="79.5" cy="531.5" r="1.6"/><circle cx="82.7" cy="531.5" r="1.6"/><circle cx="85.9" cy="531.4" r="1.6"/><circle cx="89.0" cy="531.3" r="1.6"/><circle cx="92.4" cy="531.2" r="1.6"/><circle cx="95.4" cy="531.0" r="1.6"/><circle cx="98.6" cy="530.7" r="1.6"/><circle cx="101.6" cy="529.9" r="1.6"/><circle cx="104.8" cy="528.9" r="1.6"/><circle cx="107.4" cy="527.5" r="1.6"/><circle cx="110.1" cy="525.6" r="1.6"/><circle cx="112.8" cy="523.5" r="1.6"/><circle cx="115.0" cy="521.5" r="1.6"/><circle cx="117.4" cy="519.1" r="1.6"/><circle cx="119.7" cy="516.7" r="1.6"/><circle cx="121.5" cy="514.5" r="1.6"/><circle cx="123.7" cy="511.8" r="1.6"/><circle cx="125.8" cy="509.5" r="1.6"/><circle cx="128.4" cy="507.4" r="1.6"/><circle cx="130.6" cy="505.3" r="1.6"/><circle cx="133.2" cy="503.1" r="1.6"/><circle cx="135.3" cy="501.0" r="1.6"/><circle cx="137.7" cy="498.6" r="1.6"/><circle cx="139.7" cy="496.2" r="1.6"/><circle cx="141.7" cy="493.7" r="1.6"/><circle cx="143.6" cy="491.0" r="1.6"/><circle cx="145.4" cy="488.6" r="1.6"/><circle cx="147.4" cy="485.8" r="1.6"/><circle cx="149.1" cy="483.5" r="1.6"/><circle cx="151.1" cy="480.8" r="1.6"/><circle cx="152.9" cy="478.4" r="1.6"/><circle cx="154.8" cy="475.6" r="1.6"/><circle cx="156.5" cy="473.0" r="1.6"/><circle cx="158.2" cy="470.0" r="1.6"/><circle cx="159.7" cy="467.0" r="1.6"/><circle cx="160.9" cy="464.6" r="1.6"/><circle cx="162.4" cy="461.6" r="1.6"/><circle cx="163.8" cy="458.7" r="1.6"/><circle cx="165.2" cy="455.9" r="1.6"/><circle cx="166.9" cy="452.8" r="1.6"/><circle cx="168.4" cy="450.2" r="1.6"/><circle cx="170.1" cy="447.3" r="1.6"/><circle cx="171.5" cy="444.9" r="1.6"/><circle cx="173.5" cy="441.9" r="1.6"/><circle cx="175.2" cy="439.3" r="1.6"/><circle cx="177.2" cy="436.7" r="1.6"/><circle cx="179.0" cy="434.3" r="1.6"/><circle cx="181.2" cy="431.9" r="1.6"/><circle cx="183.3" cy="429.7" r="1.6"/><circle cx="186.0" cy="428.0" r="1.6"/><circle cx="189.0" cy="426.7" r="1.6"/><circle cx="192.0" cy="425.7" r="1.6"/><circle cx="195.2" cy="425.1" r="1.6"/><circle cx="198.4" cy="425.0" r="1.6"/><circle cx="201.5" cy="425.1" r="1.6"/><circle cx="204.7" cy="425.6" r="1.6"/><circle cx="207.8" cy="426.1" r="1.6"/><circle cx="211.1" cy="426.7" r="1.6"/><circle cx="214.1" cy="427.5" r="1.6"/><circle cx="217.1" cy="428.4" r="1.6"/><circle cx="220.3" cy="429.3" r="1.6"/><circle cx="223.5" cy="430.1" r="1.6"/><circle cx="226.4" cy="430.6" r="1.6"/><circle cx="229.8" cy="431.1" r="1.6"/><circle cx="232.9" cy="431.5" r="1.6"/><circle cx="236.0" cy="431.8" r="1.6"/><circle cx="239.4" cy="432.1" r="1.6"/><circle cx="242.5" cy="432.3" r="1.6"/><circle cx="245.6" cy="432.6" r="1.6"/><circle cx="248.8" cy="432.9" r="1.6"/><circle cx="251.9" cy="433.2" r="1.6"/><circle cx="255.3" cy="433.6" r="1.6"/><circle cx="258.2" cy="433.9" r="1.6"/><circle cx="261.7" cy="434.2" r="1.6"/><circle cx="264.8" cy="434.6" r="1.6"/><circle cx="267.9" cy="434.9" r="1.6"/></g>
<path d="M47.3,530.8 C54.4,530.7 80.7,530.7 90.0,530.3 C99.3,529.9 99.5,529.6 103.0,528.5 C106.5,527.4 108.4,525.8 111.0,523.9 C113.6,522.0 116.3,519.3 118.6,516.9 C120.9,514.5 123.3,511.1 125.0,509.3 C126.7,507.5 126.6,508.1 128.8,506.0 C131.0,503.9 135.1,500.6 138.2,497.0 C141.3,493.4 144.5,488.8 147.6,484.5 C150.7,480.2 154.1,476.0 156.9,471.3 C159.7,466.6 162.0,461.0 164.5,456.3 C167.0,451.6 169.5,447.0 172.0,443.1 C174.5,439.2 177.2,435.5 179.5,432.8 C181.8,430.1 183.2,428.5 186.0,427.0 C188.8,425.5 192.6,424.2 196.6,424.0 C200.6,423.8 205.1,424.6 210.0,425.5 C214.9,426.4 219.5,428.5 226.2,429.6 C232.9,430.7 242.6,431.2 250.0,432.0 C257.4,432.8 267.4,433.8 270.9,434.2" fill="none" stroke="#0d0d0d" stroke-width="2.4"/>
<g fill="#0d0d0d"><circle cx="47.3" cy="530.8" r="1.7"/><circle cx="50.5" cy="530.8" r="1.7"/><circle cx="53.8" cy="530.8" r="1.7"/><circle cx="57.0" cy="530.7" r="1.7"/><circle cx="60.3" cy="530.7" r="1.7"/><circle cx="63.5" cy="530.7" r="1.7"/><circle cx="66.8" cy="530.7" r="1.7"/><circle cx="69.8" cy="530.6" r="1.7"/><circle cx="73.1" cy="530.6" r="1.7"/><circle cx="76.4" cy="530.6" r="1.7"/><circle cx="79.5" cy="530.5" r="1.7"/><circle cx="82.7" cy="530.5" r="1.7"/><circle cx="85.9" cy="530.4" r="1.7"/><circle cx="89.0" cy="530.3" r="1.7"/><circle cx="92.4" cy="530.2" r="1.7"/><circle cx="95.4" cy="530.0" r="1.7"/><circle cx="98.6" cy="529.7" r="1.7"/><circle cx="101.6" cy="528.9" r="1.7"/><circle cx="104.8" cy="527.9" r="1.7"/><circle cx="107.4" cy="526.5" r="1.7"/><circle cx="110.1" cy="524.6" r="1.7"/><circle cx="112.8" cy="522.5" r="1.7"/><circle cx="115.0" cy="520.5" r="1.7"/><circle cx="117.4" cy="518.1" r="1.7"/><circle cx="119.7" cy="515.7" r="1.7"/><circle cx="121.5" cy="513.5" r="1.7"/><circle cx="123.7" cy="510.8" r="1.7"/><circle cx="125.8" cy="508.5" r="1.7"/><circle cx="128.4" cy="506.4" r="1.7"/><circle cx="130.6" cy="504.3" r="1.7"/><circle cx="133.2" cy="502.1" r="1.7"/><circle cx="135.3" cy="500.0" r="1.7"/><circle cx="137.7" cy="497.6" r="1.7"/><circle cx="139.7" cy="495.2" r="1.7"/><circle cx="141.7" cy="492.7" r="1.7"/><circle cx="143.6" cy="490.0" r="1.7"/><circle cx="145.4" cy="487.6" r="1.7"/><circle cx="147.4" cy="484.8" r="1.7"/><circle cx="149.1" cy="482.5" r="1.7"/><circle cx="151.1" cy="479.8" r="1.7"/><circle cx="152.9" cy="477.4" r="1.7"/><circle cx="154.8" cy="474.6" r="1.7"/><circle cx="156.5" cy="472.0" r="1.7"/><circle cx="158.2" cy="469.0" r="1.7"/><circle cx="159.7" cy="466.0" r="1.7"/><circle cx="160.9" cy="463.6" r="1.7"/><circle cx="162.4" cy="460.6" r="1.7"/><circle cx="163.8" cy="457.7" r="1.7"/><circle cx="165.2" cy="454.9" r="1.7"/><circle cx="166.9" cy="451.8" r="1.7"/><circle cx="168.4" cy="449.2" r="1.7"/><circle cx="170.1" cy="446.3" r="1.7"/><circle cx="171.5" cy="443.9" r="1.7"/><circle cx="173.5" cy="440.9" r="1.7"/><circle cx="175.2" cy="438.3" r="1.7"/><circle cx="177.2" cy="435.7" r="1.7"/><circle cx="179.0" cy="433.3" r="1.7"/><circle cx="181.2" cy="430.9" r="1.7"/><circle cx="183.3" cy="428.7" r="1.7"/><circle cx="186.0" cy="427.0" r="1.7"/><circle cx="189.0" cy="425.7" r="1.7"/><circle cx="192.0" cy="424.7" r="1.7"/><circle cx="195.2" cy="424.1" r="1.7"/><circle cx="198.4" cy="424.0" r="1.7"/><circle cx="201.5" cy="424.1" r="1.7"/><circle cx="204.7" cy="424.6" r="1.7"/><circle cx="207.8" cy="425.1" r="1.7"/><circle cx="211.1" cy="425.7" r="1.7"/><circle cx="214.1" cy="426.5" r="1.7"/><circle cx="217.1" cy="427.4" r="1.7"/><circle cx="220.3" cy="428.3" r="1.7"/><circle cx="223.5" cy="429.1" r="1.7"/><circle cx="226.4" cy="429.6" r="1.7"/><circle cx="229.8" cy="430.1" r="1.7"/><circle cx="232.9" cy="430.5" r="1.7"/><circle cx="236.0" cy="430.8" r="1.7"/><circle cx="239.4" cy="431.1" r="1.7"/><circle cx="242.5" cy="431.3" r="1.7"/><circle cx="245.6" cy="431.6" r="1.7"/><circle cx="248.8" cy="431.9" r="1.7"/><circle cx="251.9" cy="432.2" r="1.7"/><circle cx="255.3" cy="432.6" r="1.7"/><circle cx="258.2" cy="432.9" r="1.7"/><circle cx="261.7" cy="433.2" r="1.7"/><circle cx="264.8" cy="433.6" r="1.7"/><circle cx="267.9" cy="433.9" r="1.7"/></g>
<path d="M47.3,530.8 C51.1,530.7 64.3,530.8 70.0,530.0 C75.7,529.2 78.3,526.8 81.7,525.8 C85.1,524.8 87.6,524.3 90.6,523.9 C93.6,523.5 96.5,524.0 99.5,523.3 C102.5,522.6 105.7,521.6 108.5,519.5 C111.3,517.4 113.3,513.7 116.1,510.5 C118.8,507.3 122.9,502.6 125.0,500.4 C127.1,498.1 126.6,499.1 128.8,497.0 C131.0,494.9 135.1,491.2 138.2,487.5 C141.3,483.8 144.5,479.2 147.6,475.0 C150.7,470.8 154.1,466.4 156.9,462.0 C159.7,457.6 162.0,452.6 164.5,448.8 C167.0,445.0 169.4,442.2 172.0,439.4 C174.6,436.6 175.9,434.0 180.0,432.0 C184.1,430.0 189.9,427.6 196.6,427.3 C203.3,427.0 211.9,428.9 220.0,430.0 C228.1,431.1 236.5,432.8 245.0,434.0 C253.5,435.2 266.6,436.9 270.9,437.5" fill="none" stroke="#3b6e1a" stroke-width="2.8"/>
<g fill="#3b6e1a"><path d="M47.3,528.5 l1.9,2.3 l-1.9,2.3 l-1.9,-2.3 z"/><path d="M50.5,528.5 l1.9,2.3 l-1.9,2.3 l-1.9,-2.3 z"/><path d="M53.8,528.4 l1.9,2.3 l-1.9,2.3 l-1.9,-2.3 z"/><path d="M57.2,528.4 l1.9,2.3 l-1.9,2.3 l-1.9,-2.3 z"/><path d="M60.1,528.3 l1.9,2.3 l-1.9,2.3 l-1.9,-2.3 z"/><path d="M63.4,528.2 l1.9,2.3 l-1.9,2.3 l-1.9,-2.3 z"/><path d="M66.6,528.1 l1.9,2.3 l-1.9,2.3 l-1.9,-2.3 z"/><path d="M69.8,527.7 l1.9,2.3 l-1.9,2.3 l-1.9,-2.3 z"/><path d="M73.0,527.1 l1.9,2.3 l-1.9,2.3 l-1.9,-2.3 z"/><path d="M75.9,526.1 l1.9,2.3 l-1.9,2.3 l-1.9,-2.3 z"/><path d="M78.8,524.7 l1.9,2.3 l-1.9,2.3 l-1.9,-2.3 z"/><path d="M81.7,523.5 l1.9,2.3 l-1.9,2.3 l-1.9,-2.3 z"/><path d="M84.9,522.7 l1.9,2.3 l-1.9,2.3 l-1.9,-2.3 z"/><path d="M88.0,522.0 l1.9,2.3 l-1.9,2.3 l-1.9,-2.3 z"/><path d="M91.1,521.6 l1.9,2.3 l-1.9,2.3 l-1.9,-2.3 z"/><path d="M94.3,521.4 l1.9,2.3 l-1.9,2.3 l-1.9,-2.3 z"/><path d="M97.5,521.3 l1.9,2.3 l-1.9,2.3 l-1.9,-2.3 z"/><path d="M100.7,520.7 l1.9,2.3 l-1.9,2.3 l-1.9,-2.3 z"/><path d="M103.7,519.8 l1.9,2.3 l-1.9,2.3 l-1.9,-2.3 z"/><path d="M106.6,518.4 l1.9,2.3 l-1.9,2.3 l-1.9,-2.3 z"/><path d="M109.3,516.6 l1.9,2.3 l-1.9,2.3 l-1.9,-2.3 z"/><path d="M111.5,514.2 l1.9,2.3 l-1.9,2.3 l-1.9,-2.3 z"/><path d="M113.4,511.7 l1.9,2.3 l-1.9,2.3 l-1.9,-2.3 z"/><path d="M115.3,509.2 l1.9,2.3 l-1.9,2.3 l-1.9,-2.3 z"/><path d="M117.6,506.5 l1.9,2.3 l-1.9,2.3 l-1.9,-2.3 z"/><path d="M119.7,504.1 l1.9,2.3 l-1.9,2.3 l-1.9,-2.3 z"/><path d="M121.6,501.9 l1.9,2.3 l-1.9,2.3 l-1.9,-2.3 z"/><path d="M123.8,499.4 l1.9,2.3 l-1.9,2.3 l-1.9,-2.3 z"/><path d="M125.9,497.2 l1.9,2.3 l-1.9,2.3 l-1.9,-2.3 z"/><path d="M128.4,495.1 l1.9,2.3 l-1.9,2.3 l-1.9,-2.3 z"/><path d="M130.6,493.0 l1.9,2.3 l-1.9,2.3 l-1.9,-2.3 z"/><path d="M133.2,490.5 l1.9,2.3 l-1.9,2.3 l-1.9,-2.3 z"/><path d="M135.3,488.4 l1.9,2.3 l-1.9,2.3 l-1.9,-2.3 z"/><path d="M137.4,486.1 l1.9,2.3 l-1.9,2.3 l-1.9,-2.3 z"/><path d="M139.7,483.4 l1.9,2.3 l-1.9,2.3 l-1.9,-2.3 z"/><path d="M141.4,481.2 l1.9,2.3 l-1.9,2.3 l-1.9,-2.3 z"/><path d="M143.4,478.5 l1.9,2.3 l-1.9,2.3 l-1.9,-2.3 z"/><path d="M145.4,475.8 l1.9,2.3 l-1.9,2.3 l-1.9,-2.3 z"/><path d="M147.1,473.4 l1.9,2.3 l-1.9,2.3 l-1.9,-2.3 z"/><path d="M149.1,470.7 l1.9,2.3 l-1.9,2.3 l-1.9,-2.3 z"/><path d="M151.1,468.0 l1.9,2.3 l-1.9,2.3 l-1.9,-2.3 z"/><path d="M152.9,465.6 l1.9,2.3 l-1.9,2.3 l-1.9,-2.3 z"/><path d="M154.8,462.8 l1.9,2.3 l-1.9,2.3 l-1.9,-2.3 z"/><path d="M156.5,460.4 l1.9,2.3 l-1.9,2.3 l-1.9,-2.3 z"/><path d="M158.2,457.6 l1.9,2.3 l-1.9,2.3 l-1.9,-2.3 z"/><path d="M159.7,454.9 l1.9,2.3 l-1.9,2.3 l-1.9,-2.3 z"/><path d="M161.4,451.8 l1.9,2.3 l-1.9,2.3 l-1.9,-2.3 z"/><path d="M162.8,449.2 l1.9,2.3 l-1.9,2.3 l-1.9,-2.3 z"/><path d="M164.5,446.5 l1.9,2.3 l-1.9,2.3 l-1.9,-2.3 z"/><path d="M166.4,443.8 l1.9,2.3 l-1.9,2.3 l-1.9,-2.3 z"/><path d="M168.3,441.3 l1.9,2.3 l-1.9,2.3 l-1.9,-2.3 z"/><path d="M170.5,438.8 l1.9,2.3 l-1.9,2.3 l-1.9,-2.3 z"/><path d="M172.5,436.6 l1.9,2.3 l-1.9,2.3 l-1.9,-2.3 z"/><path d="M174.5,434.2 l1.9,2.3 l-1.9,2.3 l-1.9,-2.3 z"/><path d="M176.9,431.7 l1.9,2.3 l-1.9,2.3 l-1.9,-2.3 z"/><path d="M179.6,429.9 l1.9,2.3 l-1.9,2.3 l-1.9,-2.3 z"/><path d="M182.4,428.6 l1.9,2.3 l-1.9,2.3 l-1.9,-2.3 z"/><path d="M185.3,427.4 l1.9,2.3 l-1.9,2.3 l-1.9,-2.3 z"/><path d="M188.2,426.5 l1.9,2.3 l-1.9,2.3 l-1.9,-2.3 z"/><path d="M191.4,425.7 l1.9,2.3 l-1.9,2.3 l-1.9,-2.3 z"/><path d="M194.5,425.2 l1.9,2.3 l-1.9,2.3 l-1.9,-2.3 z"/><path d="M197.7,425.0 l1.9,2.3 l-1.9,2.3 l-1.9,-2.3 z"/><path d="M201.1,425.1 l1.9,2.3 l-1.9,2.3 l-1.9,-2.3 z"/><path d="M204.2,425.4 l1.9,2.3 l-1.9,2.3 l-1.9,-2.3 z"/><path d="M207.3,425.8 l1.9,2.3 l-1.9,2.3 l-1.9,-2.3 z"/><path d="M210.6,426.3 l1.9,2.3 l-1.9,2.3 l-1.9,-2.3 z"/><path d="M213.7,426.8 l1.9,2.3 l-1.9,2.3 l-1.9,-2.3 z"/><path d="M216.9,427.3 l1.9,2.3 l-1.9,2.3 l-1.9,-2.3 z"/><path d="M220.0,427.7 l1.9,2.3 l-1.9,2.3 l-1.9,-2.3 z"/><path d="M223.1,428.2 l1.9,2.3 l-1.9,2.3 l-1.9,-2.3 z"/><path d="M226.3,428.7 l1.9,2.3 l-1.9,2.3 l-1.9,-2.3 z"/><path d="M229.5,429.2 l1.9,2.3 l-1.9,2.3 l-1.9,-2.3 z"/><path d="M232.7,429.7 l1.9,2.3 l-1.9,2.3 l-1.9,-2.3 z"/><path d="M235.7,430.2 l1.9,2.3 l-1.9,2.3 l-1.9,-2.3 z"/><path d="M239.0,430.8 l1.9,2.3 l-1.9,2.3 l-1.9,-2.3 z"/><path d="M242.2,431.3 l1.9,2.3 l-1.9,2.3 l-1.9,-2.3 z"/><path d="M245.2,431.8 l1.9,2.3 l-1.9,2.3 l-1.9,-2.3 z"/><path d="M248.4,432.2 l1.9,2.3 l-1.9,2.3 l-1.9,-2.3 z"/><path d="M251.7,432.7 l1.9,2.3 l-1.9,2.3 l-1.9,-2.3 z"/><path d="M254.9,433.1 l1.9,2.3 l-1.9,2.3 l-1.9,-2.3 z"/><path d="M258.1,433.5 l1.9,2.3 l-1.9,2.3 l-1.9,-2.3 z"/><path d="M261.2,433.9 l1.9,2.3 l-1.9,2.3 l-1.9,-2.3 z"/><path d="M264.3,434.4 l1.9,2.3 l-1.9,2.3 l-1.9,-2.3 z"/><path d="M267.5,434.8 l1.9,2.3 l-1.9,2.3 l-1.9,-2.3 z"/><path d="M270.6,435.2 l1.9,2.3 l-1.9,2.3 l-1.9,-2.3 z"/></g>
<path d="M47.3,530.8 C56.1,530.7 89.2,530.8 100.0,530.3 C110.8,529.8 108.8,528.8 112.3,527.7 C115.8,526.6 118.5,525.5 121.2,523.9 C124.0,522.3 126.0,520.8 128.8,518.3 C131.6,515.8 135.1,513.0 138.2,508.9 C141.3,504.8 144.5,499.8 147.6,493.8 C150.7,487.9 154.1,480.1 156.9,473.2 C159.7,466.3 162.0,459.9 164.5,452.5 C167.0,445.1 168.8,436.9 172.0,429.0 C175.2,421.1 180.7,411.5 184.0,405.0 C187.3,398.5 189.9,393.5 192.0,390.0 C194.1,386.5 194.9,383.8 196.3,384.0 C197.7,384.2 199.1,387.8 200.5,391.0 C201.9,394.2 203.3,399.2 205.0,403.5 C206.7,407.8 208.4,412.3 210.5,416.5 C212.6,420.7 214.0,424.0 217.3,428.8 C220.6,433.6 226.3,441.4 230.1,445.3 C233.9,449.2 236.9,450.4 240.0,452.0 C243.1,453.6 244.8,455.2 248.4,455.2 C252.0,455.2 257.8,453.5 261.5,451.9 C265.2,450.2 269.3,446.4 270.9,445.3" fill="none" stroke="#5a34e6" stroke-width="2.2"/>
<g fill="#5a34e6"><path d="M47.3,528.3 l2.3,4.4 h-4.6 z"/><path d="M51.0,528.2 l2.3,4.4 h-4.6 z"/><path d="M54.6,528.2 l2.3,4.4 h-4.6 z"/><path d="M58.3,528.2 l2.3,4.4 h-4.6 z"/><path d="M61.8,528.2 l2.3,4.4 h-4.6 z"/><path d="M65.5,528.2 l2.3,4.4 h-4.6 z"/><path d="M69.1,528.2 l2.3,4.4 h-4.6 z"/><path d="M72.7,528.2 l2.3,4.4 h-4.6 z"/><path d="M76.4,528.2 l2.3,4.4 h-4.6 z"/><path d="M79.7,528.1 l2.3,4.4 h-4.6 z"/><path d="M83.6,528.1 l2.3,4.4 h-4.6 z"/><path d="M87.0,528.1 l2.3,4.4 h-4.6 z"/><path d="M90.7,528.0 l2.3,4.4 h-4.6 z"/><path d="M94.2,528.0 l2.3,4.4 h-4.6 z"/><path d="M97.8,527.9 l2.3,4.4 h-4.6 z"/><path d="M101.8,527.7 l2.3,4.4 h-4.6 z"/><path d="M105.1,527.4 l2.3,4.4 h-4.6 z"/><path d="M108.6,526.8 l2.3,4.4 h-4.6 z"/><path d="M111.7,525.4 l2.3,4.4 h-4.6 z"/><path d="M115.3,524.2 l2.3,4.4 h-4.6 z"/><path d="M118.5,522.8 l2.3,4.4 h-4.6 z"/><path d="M121.7,521.1 l2.3,4.4 h-4.6 z"/><path d="M124.9,519.0 l2.3,4.4 h-4.6 z"/><path d="M127.5,516.9 l2.3,4.4 h-4.6 z"/><path d="M130.2,514.6 l2.3,4.4 h-4.6 z"/><path d="M132.9,512.1 l2.3,4.4 h-4.6 z"/><path d="M135.4,509.6 l2.3,4.4 h-4.6 z"/><path d="M138.0,506.7 l2.3,4.4 h-4.6 z"/><path d="M139.9,504.0 l2.3,4.4 h-4.6 z"/><path d="M142.2,500.7 l2.3,4.4 h-4.6 z"/><path d="M143.9,497.9 l2.3,4.4 h-4.6 z"/><path d="M145.9,494.5 l2.3,4.4 h-4.6 z"/><path d="M147.6,491.3 l2.3,4.4 h-4.6 z"/><path d="M149.1,488.3 l2.3,4.4 h-4.6 z"/><path d="M150.6,485.2 l2.3,4.4 h-4.6 z"/><path d="M152.1,481.9 l2.3,4.4 h-4.6 z"/><path d="M153.6,478.5 l2.3,4.4 h-4.6 z"/><path d="M155.1,475.1 l2.3,4.4 h-4.6 z"/><path d="M156.5,471.8 l2.3,4.4 h-4.6 z"/><path d="M157.7,468.7 l2.3,4.4 h-4.6 z"/><path d="M159.2,464.8 l2.3,4.4 h-4.6 z"/><path d="M160.5,461.5 l2.3,4.4 h-4.6 z"/><path d="M161.6,458.2 l2.3,4.4 h-4.6 z"/><path d="M162.8,454.8 l2.3,4.4 h-4.6 z"/><path d="M164.0,451.4 l2.3,4.4 h-4.6 z"/><path d="M165.2,447.8 l2.3,4.4 h-4.6 z"/><path d="M166.1,444.9 l2.3,4.4 h-4.6 z"/><path d="M167.2,441.1 l2.3,4.4 h-4.6 z"/><path d="M168.1,438.0 l2.3,4.4 h-4.6 z"/><path d="M169.3,434.2 l2.3,4.4 h-4.6 z"/><path d="M170.3,431.1 l2.3,4.4 h-4.6 z"/><path d="M171.7,427.2 l2.3,4.4 h-4.6 z"/><path d="M173.1,424.0 l2.3,4.4 h-4.6 z"/><path d="M174.5,420.9 l2.3,4.4 h-4.6 z"/><path d="M176.0,417.8 l2.3,4.4 h-4.6 z"/><path d="M177.6,414.7 l2.3,4.4 h-4.6 z"/><path d="M179.4,411.1 l2.3,4.4 h-4.6 z"/><path d="M181.0,408.2 l2.3,4.4 h-4.6 z"/><path d="M182.7,405.0 l2.3,4.4 h-4.6 z"/><path d="M184.3,401.9 l2.3,4.4 h-4.6 z"/><path d="M186.0,398.5 l2.3,4.4 h-4.6 z"/><path d="M187.6,395.5 l2.3,4.4 h-4.6 z"/><path d="M189.3,392.3 l2.3,4.4 h-4.6 z"/><path d="M191.0,389.2 l2.3,4.4 h-4.6 z"/><path d="M192.9,385.8 l2.3,4.4 h-4.6 z"/><path d="M194.6,382.8 l2.3,4.4 h-4.6 z"/><path d="M197.3,382.1 l2.3,4.4 h-4.6 z"/><path d="M199.2,385.6 l2.3,4.4 h-4.6 z"/><path d="M200.5,388.5 l2.3,4.4 h-4.6 z"/><path d="M201.9,392.0 l2.3,4.4 h-4.6 z"/><path d="M203.0,395.4 l2.3,4.4 h-4.6 z"/><path d="M204.2,398.9 l2.3,4.4 h-4.6 z"/><path d="M205.4,402.1 l2.3,4.4 h-4.6 z"/><path d="M206.8,405.5 l2.3,4.4 h-4.6 z"/><path d="M208.2,408.9 l2.3,4.4 h-4.6 z"/><path d="M209.7,412.3 l2.3,4.4 h-4.6 z"/><path d="M211.1,415.3 l2.3,4.4 h-4.6 z"/><path d="M212.8,418.7 l2.3,4.4 h-4.6 z"/><path d="M214.4,421.6 l2.3,4.4 h-4.6 z"/><path d="M216.3,424.8 l2.3,4.4 h-4.6 z"/><path d="M218.3,427.7 l2.3,4.4 h-4.6 z"/><path d="M220.4,430.7 l2.3,4.4 h-4.6 z"/><path d="M222.7,433.8 l2.3,4.4 h-4.6 z"/><path d="M224.8,436.6 l2.3,4.4 h-4.6 z"/><path d="M227.0,439.2 l2.3,4.4 h-4.6 z"/><path d="M229.4,442.1 l2.3,4.4 h-4.6 z"/><path d="M232.0,444.6 l2.3,4.4 h-4.6 z"/><path d="M234.8,446.6 l2.3,4.4 h-4.6 z"/><path d="M237.9,448.4 l2.3,4.4 h-4.6 z"/><path d="M241.0,450.0 l2.3,4.4 h-4.6 z"/><path d="M244.2,451.8 l2.3,4.4 h-4.6 z"/><path d="M247.8,452.7 l2.3,4.4 h-4.6 z"/><path d="M251.4,452.4 l2.3,4.4 h-4.6 z"/><path d="M254.8,451.7 l2.3,4.4 h-4.6 z"/><path d="M258.2,450.6 l2.3,4.4 h-4.6 z"/><path d="M261.8,449.2 l2.3,4.4 h-4.6 z"/><path d="M264.8,447.5 l2.3,4.4 h-4.6 z"/><path d="M267.5,445.5 l2.3,4.4 h-4.6 z"/><path d="M270.5,443.1 l2.3,4.4 h-4.6 z"/></g>
<path d="M47.3,378.7 H270.9 V549.3 H47.3 Z" fill="none" stroke="#111" stroke-width="1.6"/>
<line x1="43.3" y1="531.8" x2="47.3" y2="531.8" stroke="#111" stroke-width="1.4"/>
<text x="41.8" y="535.5" font-size="12" text-anchor="end" font-weight="bold" font-family="Liberation Serif, serif" fill="#1a1a1a">0.0</text>
<line x1="43.3" y1="496.0" x2="47.3" y2="496.0" stroke="#111" stroke-width="1.4"/>
<text x="41.8" y="499.7" font-size="12" text-anchor="end" font-weight="bold" font-family="Liberation Serif, serif" fill="#1a1a1a">0.4</text>
<line x1="43.3" y1="460.1" x2="47.3" y2="460.1" stroke="#111" stroke-width="1.4"/>
<text x="41.8" y="463.8" font-size="12" text-anchor="end" font-weight="bold" font-family="Liberation Serif, serif" fill="#1a1a1a">0.8</text>
<line x1="43.3" y1="424.3" x2="47.3" y2="424.3" stroke="#111" stroke-width="1.4"/>
<text x="41.8" y="428.0" font-size="12" text-anchor="end" font-weight="bold" font-family="Liberation Serif, serif" fill="#1a1a1a">1.2</text>
<line x1="43.3" y1="388.4" x2="47.3" y2="388.4" stroke="#111" stroke-width="1.4"/>
<text x="41.8" y="392.1" font-size="12" text-anchor="end" font-weight="bold" font-family="Liberation Serif, serif" fill="#1a1a1a">1.6</text>
<line x1="44.8" y1="513.9" x2="47.3" y2="513.9" stroke="#111" stroke-width="1.4"/>
<line x1="44.8" y1="478.0" x2="47.3" y2="478.0" stroke="#111" stroke-width="1.4"/>
<line x1="44.8" y1="442.2" x2="47.3" y2="442.2" stroke="#111" stroke-width="1.4"/>
<line x1="44.8" y1="406.4" x2="47.3" y2="406.4" stroke="#111" stroke-width="1.4"/>
<line x1="47.3" y1="549.3" x2="47.3" y2="553.3" stroke="#111" stroke-width="1.4"/>
<text x="47.3" y="565.5" font-size="12" text-anchor="middle" font-weight="bold" font-family="Liberation Serif, serif" fill="#1a1a1a">7700</text>
<line x1="103.2" y1="549.3" x2="103.2" y2="553.3" stroke="#111" stroke-width="1.4"/>
<text x="103.2" y="565.5" font-size="12" text-anchor="middle" font-weight="bold" font-family="Liberation Serif, serif" fill="#1a1a1a">7710</text>
<line x1="159.1" y1="549.3" x2="159.1" y2="553.3" stroke="#111" stroke-width="1.4"/>
<text x="159.1" y="565.5" font-size="12" text-anchor="middle" font-weight="bold" font-family="Liberation Serif, serif" fill="#1a1a1a">7720</text>
<line x1="215.0" y1="549.3" x2="215.0" y2="553.3" stroke="#111" stroke-width="1.4"/>
<text x="215.0" y="565.5" font-size="12" text-anchor="middle" font-weight="bold" font-family="Liberation Serif, serif" fill="#1a1a1a">7730</text>
<line x1="270.9" y1="549.3" x2="270.9" y2="553.3" stroke="#111" stroke-width="1.4"/>
<text x="270.9" y="565.5" font-size="12" text-anchor="middle" font-weight="bold" font-family="Liberation Serif, serif" fill="#1a1a1a">7740</text>
<line x1="75.2" y1="549.3" x2="75.2" y2="551.8" stroke="#111" stroke-width="1.4"/>
<line x1="131.1" y1="549.3" x2="131.1" y2="551.8" stroke="#111" stroke-width="1.4"/>
<line x1="187.0" y1="549.3" x2="187.0" y2="551.8" stroke="#111" stroke-width="1.4"/>
<line x1="242.9" y1="549.3" x2="242.9" y2="551.8" stroke="#111" stroke-width="1.4"/>
<text x="164" y="580" font-size="12" text-anchor="middle" font-weight="bold" font-family="Liberation Serif, serif" fill="#1a1a1a">Energy (eV)</text>
<text transform="translate(19.8,465.8) rotate(-90)" font-size="12.2" text-anchor="middle" font-weight="bold" font-family="Liberation Serif, serif" fill="#1a1a1a">Intensity (a.u.)</text>
<line x1="179.8" y1="460.3" x2="198.4" y2="460.3" stroke="#111111" stroke-width="2"/>
<g fill="#111111"><circle cx="189.2" cy="460.3" r="1.9"/></g>
<text x="200.5" y="463.9" font-size="10.5" font-weight="bold" font-family="Liberation Serif, serif" fill="#1a1a1a">Fresh</text>
<line x1="179.8" y1="473.5" x2="198.4" y2="473.5" stroke="#a0603a" stroke-width="2"/>
<g fill="#a0603a"><circle cx="189.2" cy="473.5" r="1.9"/></g>
<text x="200.5" y="477.1" font-size="10.5" font-weight="bold" font-family="Liberation Serif, serif" fill="#1a1a1a">4 h</text>
<line x1="179.8" y1="486.7" x2="198.4" y2="486.7" stroke="#1a1ae0" stroke-width="2"/>
<g fill="#1a1ae0"><path d="M189.2,484.6 l1.9,3.6 h-3.8 z"/></g>
<text x="200.5" y="490.3" font-size="10.5" font-weight="bold" font-family="Liberation Serif, serif" fill="#1a1a1a">8 h</text>
<line x1="179.8" y1="499.9" x2="198.4" y2="499.9" stroke="#c080e0" stroke-width="2"/>
<g fill="#c080e0"><path d="M189.2,502.0 l1.9,-3.6 h-3.8 z"/></g>
<text x="200.5" y="503.5" font-size="10.5" font-weight="bold" font-family="Liberation Serif, serif" fill="#1a1a1a">12 h</text>
<line x1="179.8" y1="513.1" x2="198.4" y2="513.1" stroke="#3d6e1e" stroke-width="2"/>
<g fill="#3d6e1e"><path d="M189.2,510.8 l1.9,2.3 l-1.9,2.3 l-1.9,-2.3 z"/></g>
<text x="200.5" y="516.7" font-size="10.5" font-weight="bold" font-family="Liberation Serif, serif" fill="#1a1a1a">24 h</text>
<line x1="179.8" y1="526.3" x2="198.4" y2="526.3" stroke="#16166e" stroke-width="2"/>
<g fill="#16166e"><path d="M189.2,524.0 l1.9,2.3 l-1.9,2.3 l-1.9,-2.3 z"/></g>
<text x="200.5" y="529.9" font-size="10.5" font-weight="bold" font-family="Liberation Serif, serif" fill="#1a1a1a">Co foil</text>
<line x1="179.8" y1="539.5" x2="198.4" y2="539.5" stroke="#5a34e6" stroke-width="2"/>
<g fill="#5a34e6"><path d="M189.2,537.4 l1.9,3.6 h-3.8 z"/></g>
<text x="200.5" y="543.1" font-size="10.5" font-weight="bold" font-family="Liberation Serif, serif" fill="#1a1a1a">CoO reference</text>
<text x="285.2" y="372.3" font-size="18.6" font-family="Liberation Sans, sans-serif" fill="#222" stroke="#222" stroke-width="0.25">(e)</text>
<path d="M307.7,455.5 C308.8,455.7 311.5,456.4 314.1,456.5 C316.7,456.6 320.2,456.4 323.2,455.9 C326.2,455.3 329.6,454.1 332.3,453.2 C335.0,452.3 337.4,451.4 339.5,450.5 C341.6,449.6 343.3,448.4 345.0,447.7 C346.7,447.0 348.1,447.7 349.5,446.5 C350.9,445.3 352.0,443.0 353.2,440.5 C354.4,438.0 355.6,434.0 356.8,431.4 C358.0,428.8 359.1,425.3 360.5,425.0 C361.9,424.7 363.6,426.9 365.0,429.5 C366.4,432.1 367.4,437.5 368.6,440.5 C369.8,443.5 370.8,447.1 372.3,447.7 C373.8,448.3 376.2,444.2 377.7,444.1 C379.2,444.0 380.2,445.1 381.4,446.8 C382.6,448.5 383.6,454.0 385.0,454.1 C386.4,454.2 388.1,449.2 389.5,447.7 C390.9,446.2 391.5,444.7 393.2,445.0 C394.9,445.3 397.5,448.3 399.5,449.5 C401.5,450.7 403.2,451.6 405.0,452.3 C406.8,453.1 407.9,454.3 410.0,454.0 C412.1,453.7 415.1,450.9 417.6,450.7 C420.1,450.4 422.4,451.8 425.0,452.5 C427.6,453.2 430.5,454.8 433.0,455.0 C435.5,455.2 437.7,454.0 440.0,454.0 C442.3,454.0 444.5,455.2 447.0,455.0 C449.5,454.8 451.8,452.5 454.8,452.5 C457.8,452.5 462.1,454.8 465.0,455.0 C467.9,455.2 469.3,454.3 472.0,454.0 C474.7,453.7 478.0,452.8 481.0,453.0 C484.0,453.2 486.0,454.6 490.0,455.0 C494.0,455.4 500.8,455.5 505.0,455.5 C509.2,455.5 510.2,455.1 515.0,455.0 C519.8,454.9 530.5,455.0 533.6,455.0" fill="none" stroke="#111" stroke-width="2"/>
<path d="M307.7,473.5 C310.2,473.6 318.7,474.2 322.9,474.0 C327.1,473.8 330.0,473.1 333.0,472.5 C336.0,471.9 338.1,472.3 340.9,470.5 C343.7,468.7 347.4,464.1 349.8,461.5 C352.2,458.9 353.5,456.5 355.0,455.0 C356.5,453.5 357.6,452.4 358.8,452.3 C360.1,452.2 361.3,453.0 362.5,454.5 C363.7,456.0 364.5,459.0 366.0,461.5 C367.5,464.0 369.5,468.3 371.4,469.6 C373.3,470.9 375.2,469.0 377.5,469.6 C379.8,470.1 382.6,472.7 385.0,472.9 C387.4,473.1 389.5,470.7 392.0,470.7 C394.5,470.7 397.5,472.4 400.0,472.9 C402.5,473.4 404.1,474.2 407.0,473.7 C409.9,473.2 414.4,469.9 417.6,469.9 C420.8,469.9 422.3,473.2 426.0,473.7 C429.7,474.2 435.2,473.4 440.0,472.9 C444.8,472.5 450.6,471.0 454.8,471.1 C459.0,471.1 460.6,473.1 465.0,473.3 C469.4,473.5 475.2,472.2 481.0,472.2 C486.8,472.2 494.3,473.2 500.0,473.3 C505.7,473.4 509.4,473.0 515.0,472.9 C520.6,472.9 530.7,472.9 533.8,472.9" fill="none" stroke="#8b4a22" stroke-width="2"/>
<path d="M307.7,495.6 C310.2,495.5 318.7,495.2 322.9,494.8 C327.1,494.4 330.0,493.8 333.0,493.0 C336.0,492.2 338.1,491.7 340.9,490.2 C343.7,488.7 347.4,485.9 349.8,484.0 C352.2,482.1 353.5,480.2 355.0,479.0 C356.5,477.8 357.6,476.7 358.8,476.6 C360.1,476.5 361.3,477.4 362.5,478.5 C363.7,479.6 364.5,481.1 366.0,483.5 C367.5,485.9 369.5,491.3 371.4,492.9 C373.3,494.4 375.2,492.4 377.5,492.8 C379.8,493.2 382.6,495.4 385.0,495.5 C387.4,495.6 389.5,493.7 392.0,493.7 C394.5,493.7 397.5,495.1 400.0,495.5 C402.5,495.9 404.1,496.5 407.0,496.1 C409.9,495.7 414.4,493.1 417.6,493.1 C420.8,493.1 422.3,495.7 426.0,496.1 C429.7,496.5 435.2,495.9 440.0,495.5 C444.8,495.1 450.6,493.9 454.8,494.0 C459.0,494.1 460.6,495.6 465.0,495.8 C469.4,496.0 475.2,494.9 481.0,494.9 C486.8,494.9 494.3,495.7 500.0,495.8 C505.7,495.9 509.4,495.6 515.0,495.5 C520.6,495.4 530.7,495.5 533.8,495.5" fill="none" stroke="#1515c8" stroke-width="2"/>
<path d="M307.7,516.2 C310.2,516.1 318.7,515.8 322.9,515.3 C327.1,514.8 330.0,514.2 333.0,513.5 C336.0,512.8 338.1,512.5 340.9,510.9 C343.7,509.3 347.4,506.0 349.8,503.7 C352.2,501.4 353.5,498.6 355.0,497.0 C356.5,495.4 357.6,494.2 358.8,494.0 C360.1,493.8 361.3,494.7 362.5,496.0 C363.7,497.3 364.5,499.3 366.0,501.9 C367.5,504.5 369.5,510.3 371.4,511.7 C373.3,513.1 375.2,509.6 377.5,510.2 C379.8,510.8 382.6,514.9 385.0,515.1 C387.4,515.4 389.5,511.9 392.0,511.9 C394.5,511.9 397.5,514.4 400.0,515.1 C402.5,515.9 404.1,517.0 407.0,516.2 C409.9,515.5 414.4,510.8 417.6,510.8 C420.8,510.8 422.3,515.5 426.0,516.2 C429.7,517.0 435.2,515.8 440.0,515.1 C444.8,514.5 450.6,512.3 454.8,512.4 C459.0,512.5 460.6,515.4 465.0,515.7 C469.4,516.0 475.2,514.0 481.0,514.0 C486.8,514.0 494.3,515.5 500.0,515.7 C505.7,515.9 509.4,515.2 515.0,515.1 C520.6,515.1 530.7,515.1 533.8,515.1" fill="none" stroke="#a040e0" stroke-width="2"/>
<path d="M307.7,536.9 C310.2,536.9 318.7,537.3 322.9,536.9 C327.1,536.5 330.0,535.4 333.0,534.5 C336.0,533.6 338.1,533.2 340.9,531.5 C343.7,529.8 347.4,526.5 349.8,524.3 C352.2,522.0 353.5,519.5 355.0,518.0 C356.5,516.5 357.6,515.6 358.8,515.5 C360.1,515.4 361.3,516.3 362.5,517.5 C363.7,518.7 364.5,520.0 366.0,522.5 C367.5,525.0 369.5,530.9 371.4,532.4 C373.3,533.9 375.2,530.7 377.5,531.2 C379.8,531.8 382.6,535.5 385.0,535.7 C387.4,536.0 389.5,532.7 392.0,532.7 C394.5,532.7 397.5,535.0 400.0,535.7 C402.5,536.4 404.1,537.4 407.0,536.7 C409.9,536.0 414.4,531.7 417.6,531.7 C420.8,531.7 422.3,536.0 426.0,536.7 C429.7,537.4 435.2,536.3 440.0,535.7 C444.8,535.1 450.6,533.1 454.8,533.2 C459.0,533.3 460.6,536.0 465.0,536.2 C469.4,536.5 475.2,534.7 481.0,534.7 C486.8,534.7 494.3,536.0 500.0,536.2 C505.7,536.4 509.4,535.8 515.0,535.7 C520.6,535.6 530.7,535.7 533.8,535.7" fill="none" stroke="#3a6a1c" stroke-width="2"/>
<line x1="361" y1="422" x2="359.5" y2="533" stroke="#c8a838" stroke-width="1.4" stroke-dasharray="3.5,2.5"/>
<line x1="393.8" y1="443.5" x2="391.5" y2="538" stroke="#c8a838" stroke-width="1.4" stroke-dasharray="3.5,2.5"/>
<text x="361.8" y="415.5" font-size="10" text-anchor="middle" font-weight="bold" font-family="Liberation Serif, serif" fill="#1a1a1a">Co-N</text>
<text x="400.3" y="439" font-size="10" text-anchor="middle" font-weight="bold" font-family="Liberation Serif, serif" fill="#1a1a1a">Co-Co</text>
<path d="M307.7,378.8 H533.8 V551.2 H307.7 Z" fill="none" stroke="#111" stroke-width="1.6"/>
<line x1="307.7" y1="551.2" x2="307.7" y2="554.7" stroke="#111" stroke-width="1.4"/>
<text x="307.7" y="566.5" font-size="12" text-anchor="middle" font-weight="bold" font-family="Liberation Serif, serif" fill="#1a1a1a">0</text>
<line x1="345.4" y1="551.2" x2="345.4" y2="554.7" stroke="#111" stroke-width="1.4"/>
<text x="345.4" y="566.5" font-size="12" text-anchor="middle" font-weight="bold" font-family="Liberation Serif, serif" fill="#1a1a1a">1</text>
<line x1="383.1" y1="551.2" x2="383.1" y2="554.7" stroke="#111" stroke-width="1.4"/>
<text x="383.1" y="566.5" font-size="12" text-anchor="middle" font-weight="bold" font-family="Liberation Serif, serif" fill="#1a1a1a">2</text>
<line x1="420.8" y1="551.2" x2="420.8" y2="554.7" stroke="#111" stroke-width="1.4"/>
<text x="420.8" y="566.5" font-size="12" text-anchor="middle" font-weight="bold" font-family="Liberation Serif, serif" fill="#1a1a1a">3</text>
<line x1="458.4" y1="551.2" x2="458.4" y2="554.7" stroke="#111" stroke-width="1.4"/>
<text x="458.4" y="566.5" font-size="12" text-anchor="middle" font-weight="bold" font-family="Liberation Serif, serif" fill="#1a1a1a">4</text>
<line x1="496.1" y1="551.2" x2="496.1" y2="554.7" stroke="#111" stroke-width="1.4"/>
<text x="496.1" y="566.5" font-size="12" text-anchor="middle" font-weight="bold" font-family="Liberation Serif, serif" fill="#1a1a1a">5</text>
<line x1="533.8" y1="551.2" x2="533.8" y2="554.7" stroke="#111" stroke-width="1.4"/>
<text x="533.8" y="566.5" font-size="12" text-anchor="middle" font-weight="bold" font-family="Liberation Serif, serif" fill="#1a1a1a">6</text>
<line x1="326.5" y1="551.2" x2="326.5" y2="553.7" stroke="#111" stroke-width="1.4"/>
<line x1="364.2" y1="551.2" x2="364.2" y2="553.7" stroke="#111" stroke-width="1.4"/>
<line x1="401.9" y1="551.2" x2="401.9" y2="553.7" stroke="#111" stroke-width="1.4"/>
<line x1="439.6" y1="551.2" x2="439.6" y2="553.7" stroke="#111" stroke-width="1.4"/>
<line x1="477.3" y1="551.2" x2="477.3" y2="553.7" stroke="#111" stroke-width="1.4"/>
<line x1="515.0" y1="551.2" x2="515.0" y2="553.7" stroke="#111" stroke-width="1.4"/>
<text x="411.8" y="579" font-size="11" font-weight="bold" font-family="Liberation Serif, serif" fill="#1a1a1a">R <tspan font-weight="normal" font-size="10">(Å)</tspan></text>
<text transform="translate(298.2,466.8) rotate(-90)" font-size="12.4" text-anchor="middle" font-weight="bold" font-family="Liberation Serif, serif" fill="#1a1a1a">Fourier transform (a.u.)</text>
<line x1="456.4" y1="389.4" x2="476.4" y2="389.4" stroke="#111" stroke-width="1.8"/>
<text x="478" y="392.8" font-size="10.5" font-weight="bold" font-family="Liberation Serif, serif" fill="#1a1a1a">Fresh</text>
<line x1="456.4" y1="402.9" x2="476.4" y2="402.9" stroke="#8b4a22" stroke-width="1.8"/>
<text x="478" y="406.3" font-size="10.5" font-weight="bold" font-family="Liberation Serif, serif" fill="#1a1a1a">4 h</text>
<line x1="456.4" y1="416.5" x2="476.4" y2="416.5" stroke="#1515c8" stroke-width="1.8"/>
<text x="478" y="419.9" font-size="10.5" font-weight="bold" font-family="Liberation Serif, serif" fill="#1a1a1a">8 h</text>
<line x1="456.4" y1="430.0" x2="476.4" y2="430.0" stroke="#a040e0" stroke-width="1.8"/>
<text x="478" y="433.4" font-size="10.5" font-weight="bold" font-family="Liberation Serif, serif" fill="#1a1a1a">12 h</text>
<line x1="456.4" y1="443.6" x2="476.4" y2="443.6" stroke="#3a6a1c" stroke-width="1.8"/>
<text x="478" y="447.0" font-size="10.5" font-weight="bold" font-family="Liberation Serif, serif" fill="#1a1a1a">24 h</text>
</svg></body></html>
